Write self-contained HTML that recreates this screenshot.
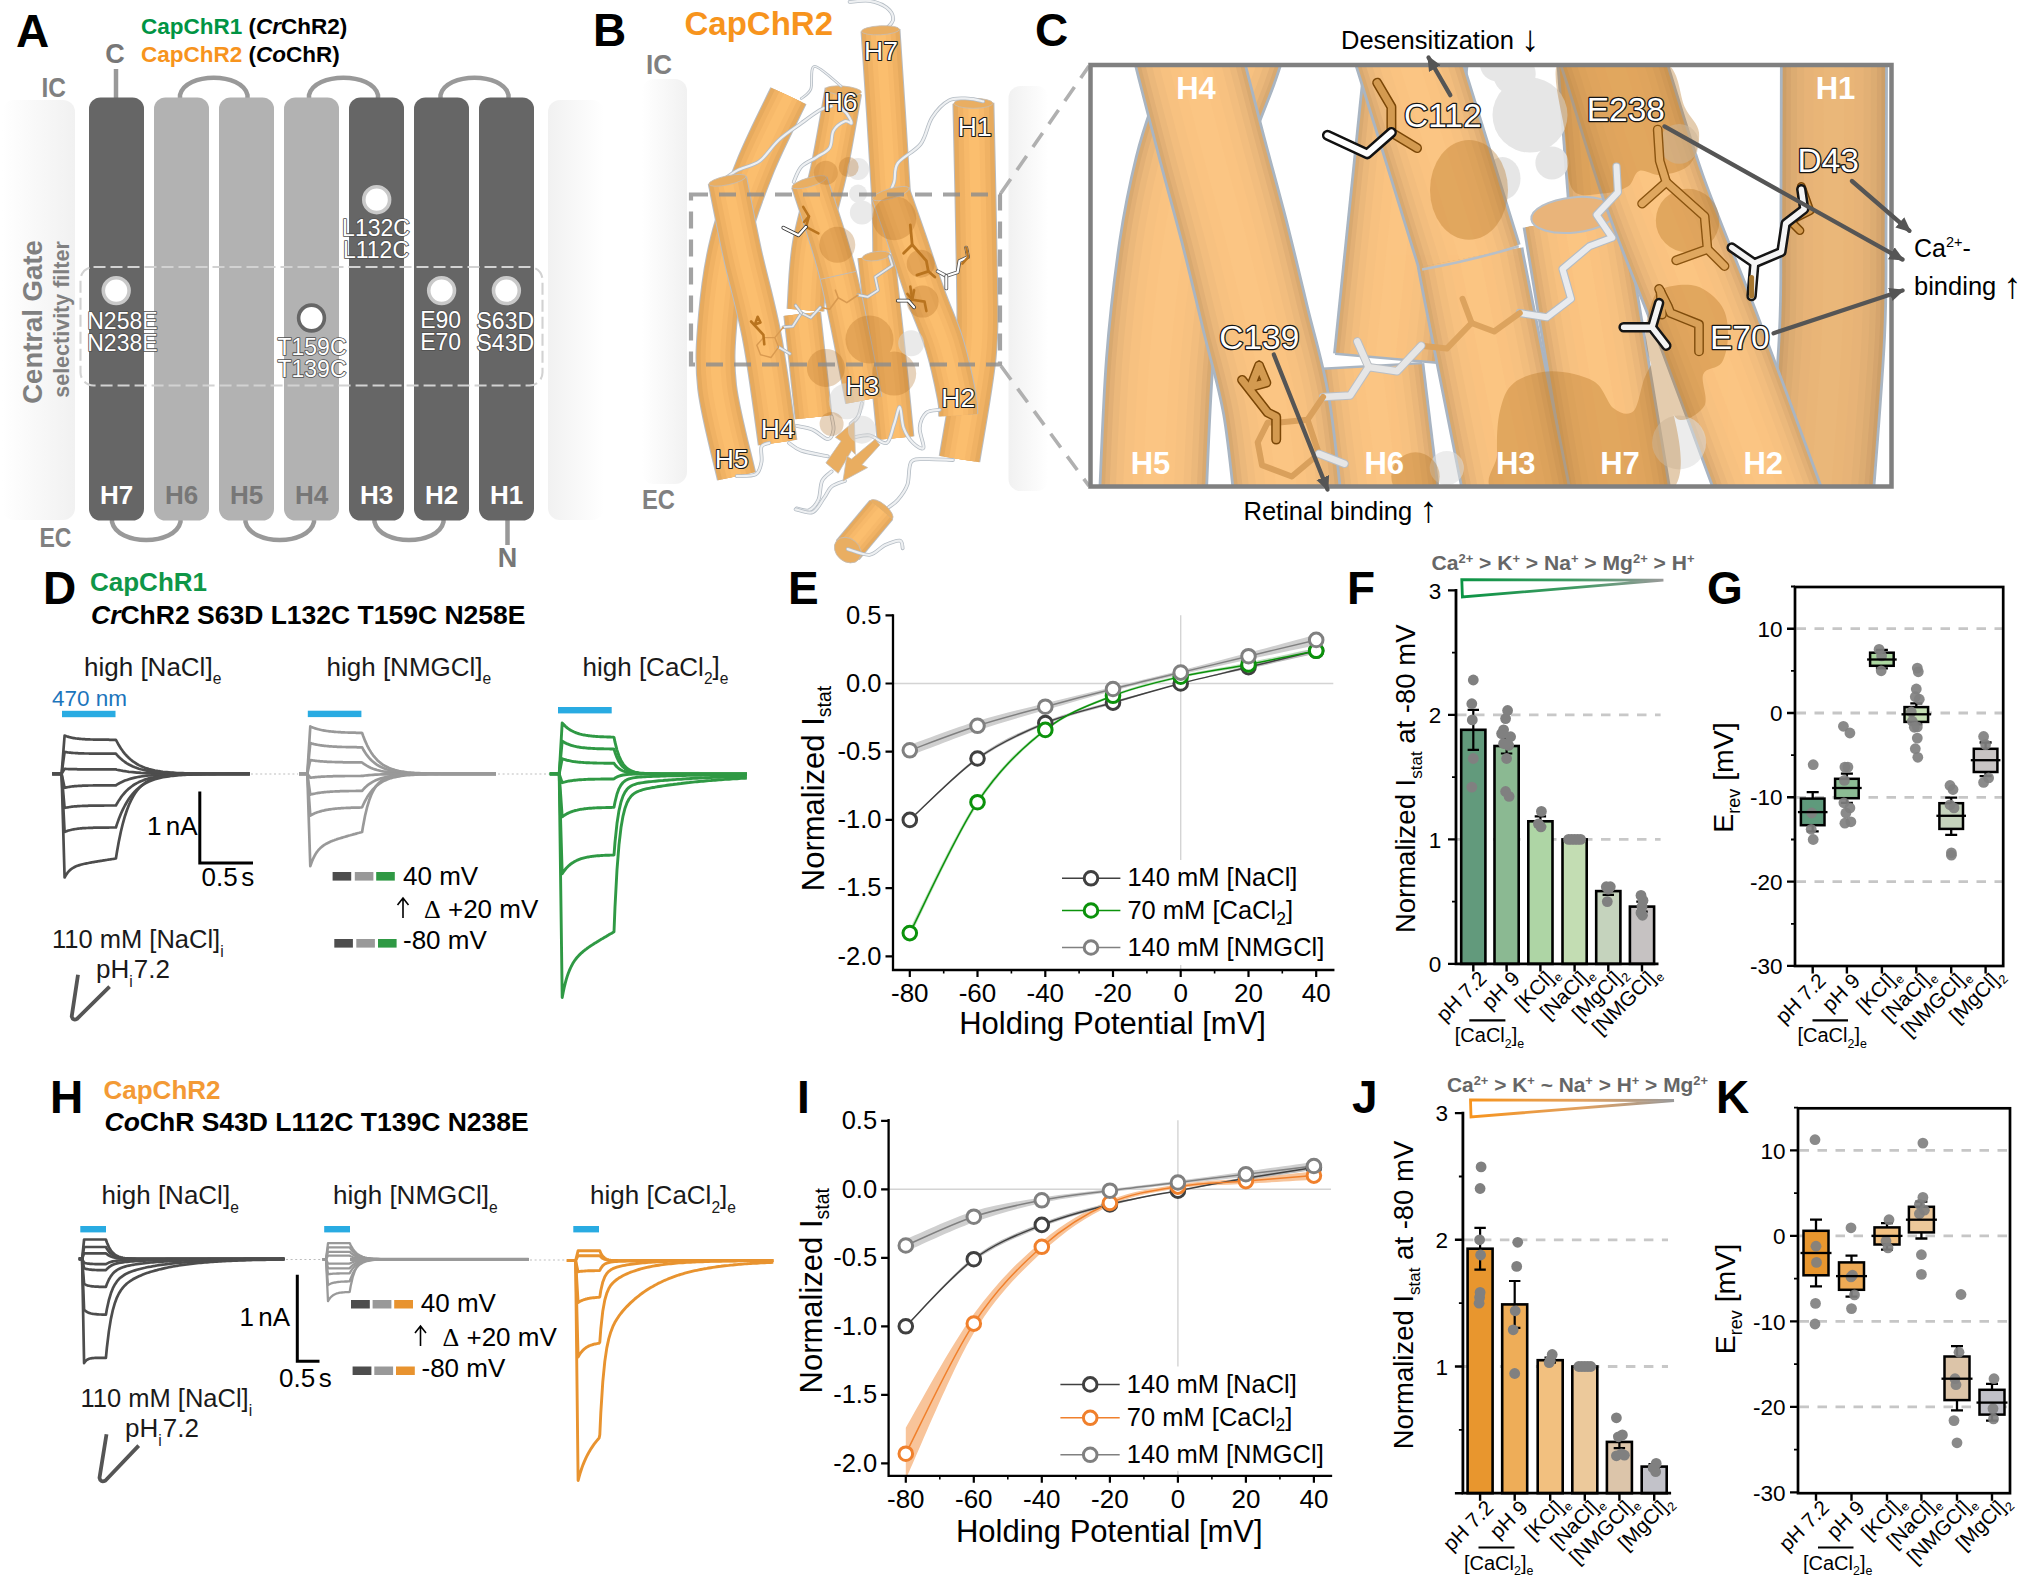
<!DOCTYPE html>
<html lang="en"><head><meta charset="utf-8"><title>CapChR figure</title>
<style>
html,body{margin:0;padding:0;background:#fff;}
body{width:2023px;height:1583px;overflow:hidden;}
svg{display:block;font-family:"Liberation Sans",sans-serif;}
.b{font-weight:bold}
.i{font-style:italic}
</style></head><body>
<svg width="2023" height="1583" viewBox="0 0 2023 1583">
<rect x="0" y="0" width="2023" height="1583" fill="#ffffff"/>
<!-- pa -->
<defs>
<linearGradient id="memL" x1="0" x2="1" y1="0" y2="0"><stop offset="0" stop-color="#ffffff"/><stop offset="1" stop-color="#f1f1f1"/></linearGradient>
<linearGradient id="memR" x1="0" x2="1" y1="0" y2="0"><stop offset="0" stop-color="#f1f1f1"/><stop offset="1" stop-color="#ffffff"/></linearGradient>
</defs>
<rect x="2" y="100" width="73" height="420" rx="12" fill="url(#memL)"/>
<rect x="548" y="100" width="56" height="420" rx="12" fill="url(#memR)"/>
<text x="16" y="47" font-size="46" class="b" fill="#000">A</text>
<text x="141" y="33.5" font-size="22.5" class="b"><tspan fill="#009444">CapChR1</tspan><tspan fill="#000"> (<tspan class="i">Cr</tspan>ChR2)</tspan></text>
<text x="141" y="61.5" font-size="22.5" class="b"><tspan fill="#f7941d">CapChR2</tspan><tspan fill="#000"> (<tspan class="i">Co</tspan>ChR)</tspan></text>
<text x="115" y="62.5" font-size="27" class="b" fill="#777" text-anchor="middle">C</text>
<text x="41.5" y="96.5" font-size="27" class="b" fill="#808080" textLength="24.5" lengthAdjust="spacingAndGlyphs">IC</text>
<text x="39.5" y="547" font-size="27" class="b" fill="#808080" textLength="32" lengthAdjust="spacingAndGlyphs">EC</text>
<text x="507.5" y="567" font-size="27" class="b" fill="#777" text-anchor="middle">N</text>
<path d="M116,69 V99" fill="none" stroke="#999999" stroke-width="4.5" stroke-linecap="butt"/>
<path d="M507.5,518 V545" fill="none" stroke="#999999" stroke-width="4.5" stroke-linecap="butt"/>
<path d="M180.0,99 V95 C185.4,72 242.1,72 247.5,95 V99" fill="none" stroke="#999999" stroke-width="4.5" stroke-linecap="butt"/>
<path d="M309.0,99 V95 C314.5,72 372.5,72 378.0,95 V99" fill="none" stroke="#999999" stroke-width="4.5" stroke-linecap="butt"/>
<path d="M440.5,99 V95 C445.9,72 503.1,72 508.5,95 V99" fill="none" stroke="#999999" stroke-width="4.5" stroke-linecap="butt"/>
<path d="M112.0,518 V522 C117.5,546 175.0,546 180.5,522 V518" fill="none" stroke="#999999" stroke-width="4.5" stroke-linecap="butt"/>
<path d="M245.5,518 V522 C251.0,546 308.5,546 314.0,522 V518" fill="none" stroke="#999999" stroke-width="4.5" stroke-linecap="butt"/>
<path d="M374.5,518 V522 C380.0,546 438.0,546 443.5,522 V518" fill="none" stroke="#999999" stroke-width="4.5" stroke-linecap="butt"/>
<rect x="89" y="97.5" width="55" height="423" rx="11.5" fill="#666666"/>
<text x="116.5" y="504" font-size="26" class="b" fill="#ffffff" text-anchor="middle">H7</text>
<rect x="154" y="97.5" width="55" height="423" rx="11.5" fill="#b2b2b2"/>
<text x="181.5" y="504" font-size="26" class="b" fill="#777777" text-anchor="middle">H6</text>
<rect x="219" y="97.5" width="55" height="423" rx="11.5" fill="#b2b2b2"/>
<text x="246.5" y="504" font-size="26" class="b" fill="#777777" text-anchor="middle">H5</text>
<rect x="284" y="97.5" width="55" height="423" rx="11.5" fill="#b2b2b2"/>
<text x="311.5" y="504" font-size="26" class="b" fill="#777777" text-anchor="middle">H4</text>
<rect x="349" y="97.5" width="55" height="423" rx="11.5" fill="#666666"/>
<text x="376.5" y="504" font-size="26" class="b" fill="#ffffff" text-anchor="middle">H3</text>
<rect x="414" y="97.5" width="55" height="423" rx="11.5" fill="#666666"/>
<text x="441.5" y="504" font-size="26" class="b" fill="#ffffff" text-anchor="middle">H2</text>
<rect x="479" y="97.5" width="55" height="423" rx="11.5" fill="#666666"/>
<text x="506.5" y="504" font-size="26" class="b" fill="#ffffff" text-anchor="middle">H1</text>
<rect x="80.5" y="267" width="462" height="118.5" rx="13" fill="none" stroke="#d2d2d2" stroke-width="2.1" stroke-dasharray="12 5"/>
<circle cx="116.2" cy="290.6" r="12.9" fill="#fff" stroke="#c9c9c9" stroke-width="3.6"/>
<circle cx="376.7" cy="199.7" r="12.9" fill="#fff" stroke="#c9c9c9" stroke-width="3.6"/>
<circle cx="441.6" cy="290.6" r="12.9" fill="#fff" stroke="#c9c9c9" stroke-width="3.6"/>
<circle cx="506.4" cy="290.6" r="12.9" fill="#fff" stroke="#c9c9c9" stroke-width="3.6"/>
<circle cx="311.5" cy="318" r="12.9" fill="#fff" stroke="#666666" stroke-width="3.6"/>
<text x="122.4" y="329" font-size="23" fill="#ffffff" stroke="#4f4f4f" stroke-width="1.7" stroke-linejoin="round" text-anchor="middle" paint-order="stroke">N258E</text>
<text x="122.4" y="351" font-size="23" fill="#ffffff" stroke="#4f4f4f" stroke-width="1.7" stroke-linejoin="round" text-anchor="middle" paint-order="stroke">N238E</text>
<text x="376" y="235.6" font-size="23" fill="#ffffff" stroke="#4f4f4f" stroke-width="1.7" stroke-linejoin="round" text-anchor="middle" paint-order="stroke">L132C</text>
<text x="376" y="257.6" font-size="23" fill="#ffffff" stroke="#4f4f4f" stroke-width="1.7" stroke-linejoin="round" text-anchor="middle" paint-order="stroke">L112C</text>
<text x="312" y="355.4" font-size="23" fill="#ffffff" stroke="#4f4f4f" stroke-width="1.7" stroke-linejoin="round" text-anchor="middle" paint-order="stroke">T159C</text>
<text x="312" y="377.4" font-size="23" fill="#ffffff" stroke="#4f4f4f" stroke-width="1.7" stroke-linejoin="round" text-anchor="middle" paint-order="stroke">T139C</text>
<text x="440.6" y="327.5" font-size="23" fill="#ffffff" stroke="#4f4f4f" stroke-width="1.7" stroke-linejoin="round" text-anchor="middle" paint-order="stroke">E90</text>
<text x="440.6" y="349.5" font-size="23" fill="#ffffff" stroke="#4f4f4f" stroke-width="1.7" stroke-linejoin="round" text-anchor="middle" paint-order="stroke">E70</text>
<text x="505.3" y="328.5" font-size="23" fill="#ffffff" stroke="#4f4f4f" stroke-width="1.7" stroke-linejoin="round" text-anchor="middle" paint-order="stroke">S63D</text>
<text x="505.3" y="350.5" font-size="23" fill="#ffffff" stroke="#4f4f4f" stroke-width="1.7" stroke-linejoin="round" text-anchor="middle" paint-order="stroke">S43D</text>
<text transform="translate(42,322) rotate(-90)" font-size="27.5" class="b" fill="#808080" text-anchor="middle">Central Gate</text>
<text transform="translate(68.5,319.5) rotate(-90)" font-size="21.5" class="b" fill="#808080" text-anchor="middle">selectivity filter</text>
<!-- pb -->
<rect x="642" y="79" width="45" height="405" rx="12" fill="url(#memL)"/>
<rect x="1008.5" y="86" width="40" height="405" rx="12" fill="url(#memR)"/>
<text x="593" y="46" font-size="46" class="b" fill="#000">B</text>
<text x="684.5" y="35" font-size="33" class="b" fill="#f7941d">CapChR2</text>
<text x="646" y="73.5" font-size="27" class="b" fill="#808080" textLength="26" lengthAdjust="spacingAndGlyphs">IC</text>
<text x="642" y="509" font-size="27" class="b" fill="#808080" textLength="33" lengthAdjust="spacingAndGlyphs">EC</text>
<path d="M849.6,1.9 C852.9,1.7 863.4,0.0 869.5,0.9 C875.7,1.9 882.6,4.6 886.6,7.6 C890.5,10.6 893.2,15.5 893.2,19.0 C893.2,22.4 889.1,26.1 886.6,28.4 C884.1,30.8 879.5,32.4 878.0,33.2" fill="none" stroke="#b4bcc4" stroke-width="3.8" stroke-linecap="round"/><path d="M849.6,1.9 C852.9,1.7 863.4,0.0 869.5,0.9 C875.7,1.9 882.6,4.6 886.6,7.6 C890.5,10.6 893.2,15.5 893.2,19.0 C893.2,22.4 889.1,26.1 886.6,28.4 C884.1,30.8 879.5,32.4 878.0,33.2" fill="none" stroke="#eef0f2" stroke-width="2.2" stroke-linecap="round"/>
<path d="M880.5,30.3 C882.2,56.9 888.8,152.6 890.7,189.5 C892.7,226.5 892.0,241.6 892.3,252.1" fill="none" stroke="#b9bcc0" stroke-width="40.0"/>
<path d="M880.5,30.3 C882.2,56.9 888.8,152.6 890.7,189.5 C892.7,226.5 892.0,241.6 892.3,252.1" fill="none" stroke="#e6aa5e" stroke-width="38.0"/>
<path d="M880.5,30.3 C882.2,56.9 888.8,152.6 890.7,189.5 C892.7,226.5 892.0,241.6 892.3,252.1" fill="none" stroke="#f0b264" stroke-width="29.6"/>
<path d="M880.5,30.3 C882.2,56.9 888.8,152.6 890.7,189.5 C892.7,226.5 892.0,241.6 892.3,252.1" fill="none" stroke="#f7b96a" stroke-width="19.8"/>
<path d="M880.5,30.3 C882.2,56.9 888.8,152.6 890.7,189.5 C892.7,226.5 892.0,241.6 892.3,252.1" fill="none" stroke="#fbbe6e" stroke-width="9.9"/>
<ellipse cx="880.5" cy="30.3" rx="19.0" ry="4.5" transform="rotate(-3 880.5 30.3)" fill="#e9ae62" stroke="#c4bcb4" stroke-width="0.8"/>
<path d="M843.4,91.0 C840.9,104.2 834.2,144.9 828.8,170.6 C823.3,196.2 814.7,221.5 810.8,244.8 C806.9,268.0 806.3,299.2 805.5,310.1" fill="none" stroke="#b9bcc0" stroke-width="38.0"/>
<path d="M843.4,91.0 C840.9,104.2 834.2,144.9 828.8,170.6 C823.3,196.2 814.7,221.5 810.8,244.8 C806.9,268.0 806.3,299.2 805.5,310.1" fill="none" stroke="#e6aa5e" stroke-width="36.0"/>
<path d="M843.4,91.0 C840.9,104.2 834.2,144.9 828.8,170.6 C823.3,196.2 814.7,221.5 810.8,244.8 C806.9,268.0 806.3,299.2 805.5,310.1" fill="none" stroke="#f0b264" stroke-width="28.1"/>
<path d="M843.4,91.0 C840.9,104.2 834.2,144.9 828.8,170.6 C823.3,196.2 814.7,221.5 810.8,244.8 C806.9,268.0 806.3,299.2 805.5,310.1" fill="none" stroke="#f7b96a" stroke-width="18.7"/>
<path d="M843.4,91.0 C840.9,104.2 834.2,144.9 828.8,170.6 C823.3,196.2 814.7,221.5 810.8,244.8 C806.9,268.0 806.3,299.2 805.5,310.1" fill="none" stroke="#fbbe6e" stroke-width="9.4"/>
<ellipse cx="843.4" cy="90.6" rx="18.0" ry="4.5" transform="rotate(5 843.4 90.6)" fill="#e9ae62" stroke="#c4bcb4" stroke-width="0.8"/>
<path d="M788.4,95.8 C783.0,107.3 765.6,140.8 755.8,165.0 C746.0,189.2 736.0,215.7 729.7,241.0 C723.3,266.3 720.0,292.5 717.9,316.8 C715.8,341.1 714.1,360.3 717.1,386.9 C720.2,413.5 733.3,461.3 736.5,476.2" fill="none" stroke="#b9bcc0" stroke-width="40.0"/>
<path d="M788.4,95.8 C783.0,107.3 765.6,140.8 755.8,165.0 C746.0,189.2 736.0,215.7 729.7,241.0 C723.3,266.3 720.0,292.5 717.9,316.8 C715.8,341.1 714.1,360.3 717.1,386.9 C720.2,413.5 733.3,461.3 736.5,476.2" fill="none" stroke="#e6aa5e" stroke-width="38.0"/>
<path d="M788.4,95.8 C783.0,107.3 765.6,140.8 755.8,165.0 C746.0,189.2 736.0,215.7 729.7,241.0 C723.3,266.3 720.0,292.5 717.9,316.8 C715.8,341.1 714.1,360.3 717.1,386.9 C720.2,413.5 733.3,461.3 736.5,476.2" fill="none" stroke="#f0b264" stroke-width="29.6"/>
<path d="M788.4,95.8 C783.0,107.3 765.6,140.8 755.8,165.0 C746.0,189.2 736.0,215.7 729.7,241.0 C723.3,266.3 720.0,292.5 717.9,316.8 C715.8,341.1 714.1,360.3 717.1,386.9 C720.2,413.5 733.3,461.3 736.5,476.2" fill="none" stroke="#f7b96a" stroke-width="19.8"/>
<path d="M788.4,95.8 C783.0,107.3 765.6,140.8 755.8,165.0 C746.0,189.2 736.0,215.7 729.7,241.0 C723.3,266.3 720.0,292.5 717.9,316.8 C715.8,341.1 714.1,360.3 717.1,386.9 C720.2,413.5 733.3,461.3 736.5,476.2" fill="none" stroke="#fbbe6e" stroke-width="9.9"/>
<path d="M973.4,103.3 C974.0,132.7 976.6,237.9 977.0,280.0 C977.4,322.1 978.6,326.0 975.7,355.8 C972.7,385.7 962.2,441.9 959.5,459.1" fill="none" stroke="#b9bcc0" stroke-width="42.0"/>
<path d="M973.4,103.3 C974.0,132.7 976.6,237.9 977.0,280.0 C977.4,322.1 978.6,326.0 975.7,355.8 C972.7,385.7 962.2,441.9 959.5,459.1" fill="none" stroke="#e6aa5e" stroke-width="40.0"/>
<path d="M973.4,103.3 C974.0,132.7 976.6,237.9 977.0,280.0 C977.4,322.1 978.6,326.0 975.7,355.8 C972.7,385.7 962.2,441.9 959.5,459.1" fill="none" stroke="#f0b264" stroke-width="31.2"/>
<path d="M973.4,103.3 C974.0,132.7 976.6,237.9 977.0,280.0 C977.4,322.1 978.6,326.0 975.7,355.8 C972.7,385.7 962.2,441.9 959.5,459.1" fill="none" stroke="#f7b96a" stroke-width="20.8"/>
<path d="M973.4,103.3 C974.0,132.7 976.6,237.9 977.0,280.0 C977.4,322.1 978.6,326.0 975.7,355.8 C972.7,385.7 962.2,441.9 959.5,459.1" fill="none" stroke="#fbbe6e" stroke-width="10.4"/>
<ellipse cx="973.4" cy="103.3" rx="19.5" ry="5.0" transform="rotate(0 973.4 103.3)" fill="#e9ae62" stroke="#c4bcb4" stroke-width="0.8"/>
<path d="M802.2,313.9 L813.6,417.2" fill="none" stroke="#b9bcc0" stroke-width="38.0"/>
<path d="M802.2,313.9 L813.6,417.2" fill="none" stroke="#e6aa5e" stroke-width="36.0"/>
<path d="M802.2,313.9 L813.6,417.2" fill="none" stroke="#f0b264" stroke-width="28.1"/>
<path d="M802.2,313.9 L813.6,417.2" fill="none" stroke="#f7b96a" stroke-width="18.7"/>
<path d="M802.2,313.9 L813.6,417.2" fill="none" stroke="#fbbe6e" stroke-width="9.4"/>
<path d="M876.2,256.1 C877.7,270.0 882.4,309.2 885.6,339.5 C888.9,369.8 893.8,421.6 895.5,438.1" fill="none" stroke="#b9bcc0" stroke-width="38.0"/>
<path d="M876.2,256.1 C877.7,270.0 882.4,309.2 885.6,339.5 C888.9,369.8 893.8,421.6 895.5,438.1" fill="none" stroke="#e6aa5e" stroke-width="36.0"/>
<path d="M876.2,256.1 C877.7,270.0 882.4,309.2 885.6,339.5 C888.9,369.8 893.8,421.6 895.5,438.1" fill="none" stroke="#f0b264" stroke-width="28.1"/>
<path d="M876.2,256.1 C877.7,270.0 882.4,309.2 885.6,339.5 C888.9,369.8 893.8,421.6 895.5,438.1" fill="none" stroke="#f7b96a" stroke-width="18.7"/>
<path d="M876.2,256.1 C877.7,270.0 882.4,309.2 885.6,339.5 C888.9,369.8 893.8,421.6 895.5,438.1" fill="none" stroke="#fbbe6e" stroke-width="9.4"/>
<ellipse cx="876.2" cy="256.1" rx="14.0" ry="4.5" transform="rotate(-8 876.2 256.1)" fill="#e9ae62" stroke="#c4bcb4" stroke-width="0.8"/>
<path d="M720.7,181.9 C723.4,180.0 730.4,174.0 736.9,170.6 C743.3,167.1 752.6,166.1 759.6,161.1 C766.5,156.0 771.6,146.6 778.6,140.2 C785.5,133.9 794.3,128.2 801.3,123.2 C808.2,118.1 815.2,112.8 820.2,109.9 C825.3,107.1 829.7,106.8 831.6,106.1" fill="none" stroke="#b4bcc4" stroke-width="3.8" stroke-linecap="round"/><path d="M720.7,181.9 C723.4,180.0 730.4,174.0 736.9,170.6 C743.3,167.1 752.6,166.1 759.6,161.1 C766.5,156.0 771.6,146.6 778.6,140.2 C785.5,133.9 794.3,128.2 801.3,123.2 C808.2,118.1 815.2,112.8 820.2,109.9 C825.3,107.1 829.7,106.8 831.6,106.1" fill="none" stroke="#eef0f2" stroke-width="2.2" stroke-linecap="round"/>
<path d="M801.3,98.6 C802.9,97.0 808.6,94.4 810.8,89.1 C813.0,83.7 809.5,66.8 814.6,66.3 C819.6,65.9 836.7,82.9 841.1,86.2" fill="none" stroke="#b4bcc4" stroke-width="2.8" stroke-linecap="round"/><path d="M801.3,98.6 C802.9,97.0 808.6,94.4 810.8,89.1 C813.0,83.7 809.5,66.8 814.6,66.3 C819.6,65.9 836.7,82.9 841.1,86.2" fill="none" stroke="#eef0f2" stroke-width="1.2" stroke-linecap="round"/>
<path d="M793.7,181.9 C795.0,179.4 797.5,170.9 801.3,166.8 C805.1,162.7 811.7,160.5 816.5,157.3 C821.2,154.1 826.9,152.2 829.7,147.8 C832.6,143.4 831.0,135.2 833.5,130.8 C836.0,126.3 841.9,122.6 844.9,121.3 C847.9,120.0 851.2,124.5 851.5,123.2 C851.8,121.9 848.5,116.2 846.8,113.7 C845.0,111.2 842.0,109.0 841.1,108.0" fill="none" stroke="#b4bcc4" stroke-width="3.8" stroke-linecap="round"/><path d="M793.7,181.9 C795.0,179.4 797.5,170.9 801.3,166.8 C805.1,162.7 811.7,160.5 816.5,157.3 C821.2,154.1 826.9,152.2 829.7,147.8 C832.6,143.4 831.0,135.2 833.5,130.8 C836.0,126.3 841.9,122.6 844.9,121.3 C847.9,120.0 851.2,124.5 851.5,123.2 C851.8,121.9 848.5,116.2 846.8,113.7 C845.0,111.2 842.0,109.0 841.1,108.0" fill="none" stroke="#eef0f2" stroke-width="2.2" stroke-linecap="round"/>
<path d="M887.5,197.1 C888.6,194.6 892.4,187.6 894.2,181.9 C895.9,176.3 893.5,169.3 897.9,163.0 C902.4,156.7 915.0,151.6 920.7,144.0 C926.4,136.5 927.3,124.8 932.1,117.5 C936.8,110.2 943.1,103.6 949.1,100.4 C955.1,97.3 962.4,98.4 968.1,98.6 C973.8,98.7 980.7,100.9 983.2,101.4" fill="none" stroke="#b4bcc4" stroke-width="3.8" stroke-linecap="round"/><path d="M887.5,197.1 C888.6,194.6 892.4,187.6 894.2,181.9 C895.9,176.3 893.5,169.3 897.9,163.0 C902.4,156.7 915.0,151.6 920.7,144.0 C926.4,136.5 927.3,124.8 932.1,117.5 C936.8,110.2 943.1,103.6 949.1,100.4 C955.1,97.3 962.4,98.4 968.1,98.6 C973.8,98.7 980.7,100.9 983.2,101.4" fill="none" stroke="#eef0f2" stroke-width="2.2" stroke-linecap="round"/>
<path d="M809.3,182.2 C814.1,197.7 829.2,238.8 838.2,275.1 C847.3,311.4 859.6,379.3 863.8,400.2" fill="none" stroke="#b9bcc0" stroke-width="38.0"/>
<path d="M809.3,182.2 C814.1,197.7 829.2,238.8 838.2,275.1 C847.3,311.4 859.6,379.3 863.8,400.2" fill="none" stroke="#e6aa5e" stroke-width="36.0"/>
<path d="M809.3,182.2 C814.1,197.7 829.2,238.8 838.2,275.1 C847.3,311.4 859.6,379.3 863.8,400.2" fill="none" stroke="#f0b264" stroke-width="28.1"/>
<path d="M809.3,182.2 C814.1,197.7 829.2,238.8 838.2,275.1 C847.3,311.4 859.6,379.3 863.8,400.2" fill="none" stroke="#f7b96a" stroke-width="18.7"/>
<path d="M809.3,182.2 C814.1,197.7 829.2,238.8 838.2,275.1 C847.3,311.4 859.6,379.3 863.8,400.2" fill="none" stroke="#fbbe6e" stroke-width="9.4"/>
<path d="M820.6,279.3 L856.6,271.3" stroke="#c4bcb4" stroke-width="1" fill="none"/>
<ellipse cx="809.3" cy="182.2" rx="18.0" ry="4.5" transform="rotate(-16 809.3 182.2)" fill="#e9ae62" stroke="#c4bcb4" stroke-width="0.8"/>
<path d="M727.4,180.3 C729.9,192.6 736.7,227.7 742.5,254.2 C748.4,280.8 756.6,308.1 762.4,339.5 C768.3,370.9 775.1,425.4 777.6,442.6" fill="none" stroke="#b9bcc0" stroke-width="40.0"/>
<path d="M727.4,180.3 C729.9,192.6 736.7,227.7 742.5,254.2 C748.4,280.8 756.6,308.1 762.4,339.5 C768.3,370.9 775.1,425.4 777.6,442.6" fill="none" stroke="#e6aa5e" stroke-width="38.0"/>
<path d="M727.4,180.3 C729.9,192.6 736.7,227.7 742.5,254.2 C748.4,280.8 756.6,308.1 762.4,339.5 C768.3,370.9 775.1,425.4 777.6,442.6" fill="none" stroke="#f0b264" stroke-width="29.6"/>
<path d="M727.4,180.3 C729.9,192.6 736.7,227.7 742.5,254.2 C748.4,280.8 756.6,308.1 762.4,339.5 C768.3,370.9 775.1,425.4 777.6,442.6" fill="none" stroke="#f7b96a" stroke-width="19.8"/>
<path d="M727.4,180.3 C729.9,192.6 736.7,227.7 742.5,254.2 C748.4,280.8 756.6,308.1 762.4,339.5 C768.3,370.9 775.1,425.4 777.6,442.6" fill="none" stroke="#fbbe6e" stroke-width="9.9"/>
<ellipse cx="727.4" cy="180.3" rx="19.0" ry="4.5" transform="rotate(-12 727.4 180.3)" fill="#e9ae62" stroke="#c4bcb4" stroke-width="0.8"/>
<path d="M890.7,193.6 C893.5,201.5 901.5,223.8 907.4,241.0 C913.4,258.2 920.2,279.7 926.4,296.9 C932.5,314.1 939.3,327.7 944.4,344.3 C949.4,360.8 954.4,384.5 956.7,396.4 C959.0,408.2 958.0,412.2 958.2,415.3" fill="none" stroke="#b9bcc0" stroke-width="40.0"/>
<path d="M890.7,193.6 C893.5,201.5 901.5,223.8 907.4,241.0 C913.4,258.2 920.2,279.7 926.4,296.9 C932.5,314.1 939.3,327.7 944.4,344.3 C949.4,360.8 954.4,384.5 956.7,396.4 C959.0,408.2 958.0,412.2 958.2,415.3" fill="none" stroke="#e6aa5e" stroke-width="38.0"/>
<path d="M890.7,193.6 C893.5,201.5 901.5,223.8 907.4,241.0 C913.4,258.2 920.2,279.7 926.4,296.9 C932.5,314.1 939.3,327.7 944.4,344.3 C949.4,360.8 954.4,384.5 956.7,396.4 C959.0,408.2 958.0,412.2 958.2,415.3" fill="none" stroke="#f0b264" stroke-width="29.6"/>
<path d="M890.7,193.6 C893.5,201.5 901.5,223.8 907.4,241.0 C913.4,258.2 920.2,279.7 926.4,296.9 C932.5,314.1 939.3,327.7 944.4,344.3 C949.4,360.8 954.4,384.5 956.7,396.4 C959.0,408.2 958.0,412.2 958.2,415.3" fill="none" stroke="#f7b96a" stroke-width="19.8"/>
<path d="M890.7,193.6 C893.5,201.5 901.5,223.8 907.4,241.0 C913.4,258.2 920.2,279.7 926.4,296.9 C932.5,314.1 939.3,327.7 944.4,344.3 C949.4,360.8 954.4,384.5 956.7,396.4 C959.0,408.2 958.0,412.2 958.2,415.3" fill="none" stroke="#fbbe6e" stroke-width="9.9"/>
<ellipse cx="890.7" cy="193.6" rx="19.0" ry="5.0" transform="rotate(-16 890.7 193.6)" fill="#e9ae62" stroke="#c4bcb4" stroke-width="0.8"/>
<path d="M736.9,476.2 C740.0,475.8 751.7,476.6 755.8,474.3 C759.9,471.9 760.5,466.5 761.5,461.9 C762.4,457.4 760.2,449.9 761.5,446.8 C762.8,443.6 767.8,443.6 769.1,443.0" fill="none" stroke="#b4bcc4" stroke-width="3.8" stroke-linecap="round"/><path d="M736.9,476.2 C740.0,475.8 751.7,476.6 755.8,474.3 C759.9,471.9 760.5,466.5 761.5,461.9 C762.4,457.4 760.2,449.9 761.5,446.8 C762.8,443.6 767.8,443.6 769.1,443.0" fill="none" stroke="#eef0f2" stroke-width="2.2" stroke-linecap="round"/>
<path d="M789.0,443.0 C791.0,444.3 794.8,448.4 801.3,450.6 C807.8,452.8 823.4,455.3 827.8,456.3" fill="none" stroke="#b4bcc4" stroke-width="3.8" stroke-linecap="round"/><path d="M789.0,443.0 C791.0,444.3 794.8,448.4 801.3,450.6 C807.8,452.8 823.4,455.3 827.8,456.3" fill="none" stroke="#eef0f2" stroke-width="2.2" stroke-linecap="round"/>
<path d="M796.6,425.9 C799.2,426.6 807.5,427.5 812.7,429.7 C817.9,431.9 824.4,439.2 827.8,439.2 C831.3,439.2 832.9,433.5 833.5,429.7 C834.1,425.9 831.9,418.7 831.6,416.5" fill="none" stroke="#b4bcc4" stroke-width="3.8" stroke-linecap="round"/><path d="M796.6,425.9 C799.2,426.6 807.5,427.5 812.7,429.7 C817.9,431.9 824.4,439.2 827.8,439.2 C831.3,439.2 832.9,433.5 833.5,429.7 C834.1,425.9 831.9,418.7 831.6,416.5" fill="none" stroke="#eef0f2" stroke-width="2.2" stroke-linecap="round"/>
<path d="M861.9,403.2 C861.3,405.4 860.0,413.0 858.1,416.5 C856.3,419.9 851.8,422.8 850.6,424.0" fill="none" stroke="#b4bcc4" stroke-width="3.8" stroke-linecap="round"/><path d="M861.9,403.2 C861.3,405.4 860.0,413.0 858.1,416.5 C856.3,419.9 851.8,422.8 850.6,424.0" fill="none" stroke="#eef0f2" stroke-width="2.2" stroke-linecap="round"/>
<path d="M854.4,437.3 C856.9,437.0 864.2,434.5 869.5,435.4 C874.9,436.4 882.5,444.9 886.6,443.0 C890.7,441.1 891.9,430.0 894.2,424.0 C896.4,418.0 898.3,406.3 899.8,407.0 C901.4,407.6 901.4,421.8 903.6,427.8 C905.8,433.8 909.8,439.7 913.1,443.0 C916.4,446.3 922.4,450.3 923.5,447.7 C924.6,445.2 919.3,433.7 919.7,427.8 C920.2,422.0 923.1,415.7 926.4,412.7 C929.7,409.7 937.4,410.3 939.6,409.8" fill="none" stroke="#b4bcc4" stroke-width="3.8" stroke-linecap="round"/><path d="M854.4,437.3 C856.9,437.0 864.2,434.5 869.5,435.4 C874.9,436.4 882.5,444.9 886.6,443.0 C890.7,441.1 891.9,430.0 894.2,424.0 C896.4,418.0 898.3,406.3 899.8,407.0 C901.4,407.6 901.4,421.8 903.6,427.8 C905.8,433.8 909.8,439.7 913.1,443.0 C916.4,446.3 922.4,450.3 923.5,447.7 C924.6,445.2 919.3,433.7 919.7,427.8 C920.2,422.0 923.1,415.7 926.4,412.7 C929.7,409.7 937.4,410.3 939.6,409.8" fill="none" stroke="#eef0f2" stroke-width="2.2" stroke-linecap="round"/>
<path d="M952.9,460.0 C948.5,459.9 933.3,458.8 926.4,459.1 C919.4,459.4 914.4,457.7 911.2,461.9 C908.1,466.2 909.6,478.4 907.4,484.7 C905.2,491.0 901.1,496.1 897.9,499.8 C894.8,503.6 890.1,506.2 888.5,507.4" fill="none" stroke="#b4bcc4" stroke-width="3.8" stroke-linecap="round"/><path d="M952.9,460.0 C948.5,459.9 933.3,458.8 926.4,459.1 C919.4,459.4 914.4,457.7 911.2,461.9 C908.1,466.2 909.6,478.4 907.4,484.7 C905.2,491.0 901.1,496.1 897.9,499.8 C894.8,503.6 890.1,506.2 888.5,507.4" fill="none" stroke="#eef0f2" stroke-width="2.2" stroke-linecap="round"/>
<path d="M831.6,471.4 C830.0,473.0 824.4,476.2 822.1,480.9 C819.9,485.6 820.6,494.9 818.4,499.8 C816.1,504.7 812.5,508.8 808.9,510.3 C805.2,511.7 798.6,508.7 796.6,508.4" fill="none" stroke="#b4bcc4" stroke-width="3.8" stroke-linecap="round"/><path d="M831.6,471.4 C830.0,473.0 824.4,476.2 822.1,480.9 C819.9,485.6 820.6,494.9 818.4,499.8 C816.1,504.7 812.5,508.8 808.9,510.3 C805.2,511.7 798.6,508.7 796.6,508.4" fill="none" stroke="#eef0f2" stroke-width="2.2" stroke-linecap="round"/>
<path d="M844.9,480.9 C842.7,481.8 835.1,483.7 831.6,486.6 C828.1,489.4 827.2,493.7 824.0,497.9 C820.9,502.2 817.4,510.3 812.7,512.2 C807.9,514.1 798.5,509.8 795.6,509.3" fill="none" stroke="#b4bcc4" stroke-width="3.8" stroke-linecap="round"/><path d="M844.9,480.9 C842.7,481.8 835.1,483.7 831.6,486.6 C828.1,489.4 827.2,493.7 824.0,497.9 C820.9,502.2 817.4,510.3 812.7,512.2 C807.9,514.1 798.5,509.8 795.6,509.3" fill="none" stroke="#eef0f2" stroke-width="2.2" stroke-linecap="round"/>
<polygon points="825.9,462.9 838.2,473.3 851.5,450.6 855.3,454.4 854.4,421.2 835.4,437.3 841.1,441.1" fill="#e9ad60" stroke="#c4bcb4" stroke-width="0.8"/>
<polygon points="875.2,439.2 879.9,444.9 861.9,464.8 867.6,467.6 843.0,480.9 846.8,456.3 851.5,459.1" fill="#e9ad60" stroke="#c4bcb4" stroke-width="0.8"/>
<ellipse cx="881.3" cy="509.9" rx="14.5" ry="6.0" transform="rotate(40 881.3 509.9)" fill="#e9ae62" stroke="#c4bcb4" stroke-width="0.8"/>
<path d="M881.3,509.9 L847.7,550.1" fill="none" stroke="#b9bcc0" stroke-width="31.0"/>
<path d="M881.3,509.9 L847.7,550.1" fill="none" stroke="#e6aa5e" stroke-width="29.0"/>
<path d="M881.3,509.9 L847.7,550.1" fill="none" stroke="#f0b264" stroke-width="22.6"/>
<path d="M881.3,509.9 L847.7,550.1" fill="none" stroke="#f7b96a" stroke-width="15.1"/>
<path d="M881.3,509.9 L847.7,550.1" fill="none" stroke="#fbbe6e" stroke-width="7.5"/>
<ellipse cx="847.7" cy="550.1" rx="14.5" ry="11.5" transform="rotate(40 847.7 550.1)" fill="#e9ae62" stroke="#c4bcb4" stroke-width="0.8"/>
<path d="M847.7,549.1 C851.4,550.1 863.4,555.4 869.5,554.8 C875.7,554.2 879.6,547.7 884.7,545.3 C889.7,543.0 896.8,540.1 899.8,540.6 C902.8,541.1 902.2,546.9 902.7,548.2" fill="none" stroke="#b4bcc4" stroke-width="3.8" stroke-linecap="round"/><path d="M847.7,549.1 C851.4,550.1 863.4,555.4 869.5,554.8 C875.7,554.2 879.6,547.7 884.7,545.3 C889.7,543.0 896.8,540.1 899.8,540.6 C902.8,541.1 902.2,546.9 902.7,548.2" fill="none" stroke="#eef0f2" stroke-width="2.2" stroke-linecap="round"/>
<g opacity="0.5"><circle cx="858.1" cy="169.0" r="11" fill="#d6d6d6"/><circle cx="861.9" cy="212.5" r="12" fill="#d6d6d6"/><circle cx="858.1" cy="193.6" r="9" fill="#d6d6d6"/><circle cx="911.2" cy="343.3" r="13" fill="#d6d6d6"/><circle cx="846.8" cy="401.3" r="18" fill="#d6d6d6"/><circle cx="861.9" cy="429.7" r="14" fill="#d6d6d6"/></g>
<g opacity="0.3"><circle cx="825.9" cy="172.7" r="12" fill="#b36f24"/><circle cx="848.7" cy="167.1" r="10" fill="#b36f24"/><circle cx="837.3" cy="244.8" r="18" fill="#b36f24"/><circle cx="894.2" cy="218.2" r="22" fill="#b36f24"/><circle cx="920.7" cy="263.7" r="14" fill="#b36f24"/><circle cx="922.6" cy="301.6" r="16" fill="#b36f24"/><circle cx="869.5" cy="339.5" r="24" fill="#b36f24"/><circle cx="894.2" cy="373.6" r="22" fill="#b36f24"/><circle cx="825.9" cy="367.9" r="19" fill="#b36f24"/><circle cx="831.6" cy="424.0" r="12" fill="#b36f24"/></g>
<path d="M889.4,256.1 L892.3,265.6 L875.2,277.0 L878.0,290.2 L867.6,296.9 L858.1,295.0" fill="none" stroke="#aab2ba" stroke-width="3.4" stroke-linecap="round" stroke-linejoin="round"/>
<path d="M889.4,256.1 L892.3,265.6 L875.2,277.0 L878.0,290.2 L867.6,296.9 L858.1,295.0" fill="none" stroke="#e8eaec" stroke-width="1.8" stroke-linecap="round" stroke-linejoin="round"/>
<path d="M858.1,295.0 L846.8,302.6 L838.2,297.8 L829.7,309.2 L820.2,307.3" fill="none" stroke="#d99a50" stroke-width="1.6" stroke-linecap="round" stroke-linejoin="round"/>
<path d="M838.2,297.8 L835.4,290.2" fill="none" stroke="#d99a50" stroke-width="1.6" stroke-linecap="round" stroke-linejoin="round"/>
<path d="M820.2,307.3 L810.8,317.7 L801.3,313.0 L792.8,326.3 L783.3,327.2" fill="none" stroke="#aab2ba" stroke-width="3.4" stroke-linecap="round" stroke-linejoin="round"/>
<path d="M820.2,307.3 L810.8,317.7 L801.3,313.0 L792.8,326.3 L783.3,327.2" fill="none" stroke="#e8eaec" stroke-width="1.8" stroke-linecap="round" stroke-linejoin="round"/>
<path d="M801.3,313.0 L795.6,305.4" fill="none" stroke="#aab2ba" stroke-width="3.4" stroke-linecap="round" stroke-linejoin="round"/>
<path d="M801.3,313.0 L795.6,305.4" fill="none" stroke="#e8eaec" stroke-width="1.8" stroke-linecap="round" stroke-linejoin="round"/>
<path d="M778.6,347.1 L789.9,353.7" fill="none" stroke="#aab2ba" stroke-width="3.4" stroke-linecap="round" stroke-linejoin="round"/>
<path d="M778.6,347.1 L789.9,353.7" fill="none" stroke="#e8eaec" stroke-width="1.8" stroke-linecap="round" stroke-linejoin="round"/>
<path d="M783.3,327.2 L774.8,337.6 L778.6,347.1 L771.0,357.5 L760.5,354.7 L756.8,345.2 L763.4,337.6 L774.8,337.6" fill="none" stroke="#d99a50" stroke-width="1.4" stroke-linecap="round" stroke-linejoin="round"/>
<path d="M803.2,206.9 L808.9,216.3 L806.0,226.8 L818.4,233.4" fill="none" stroke="#b9741f" stroke-width="2.6" stroke-linecap="round" stroke-linejoin="round"/>
<path d="M808.9,216.3 L804.1,222.0" fill="none" stroke="#b9741f" stroke-width="2.6" stroke-linecap="round" stroke-linejoin="round"/>
<path d="M806.0,226.8 L798.5,235.3 L783.3,227.7" fill="none" stroke="#333" stroke-width="3.8" stroke-linecap="round" stroke-linejoin="round"/>
<path d="M806.0,226.8 L798.5,235.3 L783.3,227.7" fill="none" stroke="#ffffff" stroke-width="2.2" stroke-linecap="round" stroke-linejoin="round"/>
<path d="M910.3,224.9 L912.2,244.8 L903.6,253.3" fill="none" stroke="#b9741f" stroke-width="2.8" stroke-linecap="round" stroke-linejoin="round"/>
<path d="M912.2,244.8 L926.4,260.9 L928.3,271.3 L916.9,275.1" fill="none" stroke="#b9741f" stroke-width="2.8" stroke-linecap="round" stroke-linejoin="round"/>
<path d="M928.3,271.3 L934.9,277.0" fill="none" stroke="#b9741f" stroke-width="2.8" stroke-linecap="round" stroke-linejoin="round"/>
<path d="M966.2,247.6 L968.1,257.1 L959.5,260.9 L957.6,272.2 L946.3,276.0 L937.7,271.3" fill="none" stroke="#555" stroke-width="3.8" stroke-linecap="round" stroke-linejoin="round"/>
<path d="M966.2,247.6 L968.1,257.1 L959.5,260.9 L957.6,272.2 L946.3,276.0 L937.7,271.3" fill="none" stroke="#ffffff" stroke-width="2.2" stroke-linecap="round" stroke-linejoin="round"/>
<path d="M946.3,276.0 L946.3,288.4" fill="none" stroke="#555" stroke-width="3.8" stroke-linecap="round" stroke-linejoin="round"/>
<path d="M946.3,276.0 L946.3,288.4" fill="none" stroke="#ffffff" stroke-width="2.2" stroke-linecap="round" stroke-linejoin="round"/>
<path d="M966.2,247.6 L968.1,257.1 L962.4,263.7" fill="none" stroke="#b9741f" stroke-width="2.4" stroke-linecap="round" stroke-linejoin="round"/>
<path d="M910.3,286.5 L912.2,299.7 L924.5,301.6 L926.4,311.1" fill="none" stroke="#b9741f" stroke-width="2.6" stroke-linecap="round" stroke-linejoin="round"/>
<path d="M912.2,299.7 L907.4,294.0" fill="none" stroke="#b9741f" stroke-width="2.6" stroke-linecap="round" stroke-linejoin="round"/>
<path d="M912.2,299.7 L914.1,290.2" fill="none" stroke="#b9741f" stroke-width="2.6" stroke-linecap="round" stroke-linejoin="round"/>
<path d="M897.9,300.7 L908.4,300.7 L914.1,307.3" fill="none" stroke="#333" stroke-width="3.8" stroke-linecap="round" stroke-linejoin="round"/>
<path d="M897.9,300.7 L908.4,300.7 L914.1,307.3" fill="none" stroke="#ffffff" stroke-width="2.2" stroke-linecap="round" stroke-linejoin="round"/>
<path d="M751.1,321.5 L763.4,334.8 L764.3,344.3" fill="none" stroke="#b9741f" stroke-width="2.6" stroke-linecap="round" stroke-linejoin="round"/>
<path d="M757.7,316.8 L754.9,324.4 L760.5,322.5 L757.7,316.8" fill="none" stroke="#b9741f" stroke-width="2.6" stroke-linecap="round" stroke-linejoin="round"/>
<rect x="691" y="194.5" width="309" height="170" fill="none" stroke="rgba(140,140,140,0.8)" stroke-width="4.2" stroke-dasharray="17 11"/>
<path d="M1001,193 L1089,66 M1001,366 L1089,486" fill="none" stroke="#b0b0b0" stroke-width="3.6" stroke-dasharray="17 11"/>
<text x="881" y="59.7" font-size="26.5" fill="#ffffff" stroke="#1a1a1a" stroke-width="2.2" stroke-linejoin="round" paint-order="stroke" text-anchor="middle">H7</text>
<text x="840.6" y="110.9" font-size="26.5" fill="#ffffff" stroke="#1a1a1a" stroke-width="2.2" stroke-linejoin="round" paint-order="stroke" text-anchor="middle">H6</text>
<text x="974.8" y="135.5" font-size="26.5" fill="#ffffff" stroke="#1a1a1a" stroke-width="2.2" stroke-linejoin="round" paint-order="stroke" text-anchor="middle">H1</text>
<text x="862.4" y="394.5" font-size="26.5" fill="#ffffff" stroke="#1a1a1a" stroke-width="2.2" stroke-linejoin="round" paint-order="stroke" text-anchor="middle">H3</text>
<text x="958.2" y="406.8" font-size="26.5" fill="#ffffff" stroke="#1a1a1a" stroke-width="2.2" stroke-linejoin="round" paint-order="stroke" text-anchor="middle">H2</text>
<text x="777.7" y="438.1" font-size="26.5" fill="#ffffff" stroke="#1a1a1a" stroke-width="2.2" stroke-linejoin="round" paint-order="stroke" text-anchor="middle">H4</text>
<text x="731.6" y="467.6" font-size="26.5" fill="#ffffff" stroke="#1a1a1a" stroke-width="2.2" stroke-linejoin="round" paint-order="stroke" text-anchor="middle">H5</text>
<!-- pc -->
<text x="1035" y="46" font-size="46" class="b" fill="#000">C</text>
<clipPath id="clipC"><rect x="1090.5" y="65" width="801" height="421.5"/></clipPath>
<g clip-path="url(#clipC)">
<path d="M1609.4,38.6 L1622.2,205.0" fill="none" stroke="#a9b5c2" stroke-width="109.4"/>
<path d="M1609.4,38.6 L1622.2,205.0" fill="none" stroke="#d8a970" stroke-width="103.8"/>
<path d="M1609.4,38.6 L1622.2,205.0" fill="none" stroke="#e2b076" stroke-width="96.5"/>
<path d="M1609.4,38.6 L1622.2,205.0" fill="none" stroke="#ebb87b" stroke-width="87.2"/>
<path d="M1609.4,38.6 L1622.2,205.0" fill="none" stroke="#f2bd7e" stroke-width="74.7"/>
<path d="M1609.4,38.6 L1622.2,205.0" fill="none" stroke="#f7c180" stroke-width="60.2"/>
<path d="M1609.4,38.6 L1622.2,205.0" fill="none" stroke="#fac381" stroke-width="41.5"/>
<path d="M1609.4,38.6 L1622.2,205.0" fill="none" stroke="#fbc583" stroke-width="20.8"/>
<clipPath id="clH6u"><polygon points="1279.1,35.8 1506.5,35.8 1506.5,369.1 1330.2,353.1"/></clipPath>
<g clip-path="url(#clH6u)"><path d="M1418.4,38.6 L1382.0,391.2" fill="none" stroke="#a9b5c2" stroke-width="105.1"/>
<path d="M1418.4,38.6 L1382.0,391.2" fill="none" stroke="#d8a970" stroke-width="99.5"/>
<path d="M1418.4,38.6 L1382.0,391.2" fill="none" stroke="#e2b076" stroke-width="92.6"/>
<path d="M1418.4,38.6 L1382.0,391.2" fill="none" stroke="#ebb87b" stroke-width="83.6"/>
<path d="M1418.4,38.6 L1382.0,391.2" fill="none" stroke="#f2bd7e" stroke-width="71.7"/>
<path d="M1418.4,38.6 L1382.0,391.2" fill="none" stroke="#f7c180" stroke-width="57.7"/>
<path d="M1418.4,38.6 L1382.0,391.2" fill="none" stroke="#fac381" stroke-width="39.8"/>
<path d="M1418.4,38.6 L1382.0,391.2" fill="none" stroke="#fbc583" stroke-width="19.9"/></g>
<path d="M1335.1,353.7 L1436.9,362.8" stroke="#a9b5c2" stroke-width="2.4" fill="none"/>
<path d="M1235.0,32.9 C1233.1,38.6 1228.6,53.3 1223.6,67.1 C1218.6,80.8 1211.0,98.3 1205.1,115.4 C1199.2,132.5 1193.5,147.2 1188.1,169.4 C1182.6,191.7 1177.2,216.8 1172.4,249.1 C1167.7,281.3 1162.9,320.1 1159.6,362.8 C1156.3,405.5 1153.7,481.3 1152.5,505.0" fill="none" stroke="#a9b5c2" stroke-width="109.4"/>
<path d="M1235.0,32.9 C1233.1,38.6 1228.6,53.3 1223.6,67.1 C1218.6,80.8 1211.0,98.3 1205.1,115.4 C1199.2,132.5 1193.5,147.2 1188.1,169.4 C1182.6,191.7 1177.2,216.8 1172.4,249.1 C1167.7,281.3 1162.9,320.1 1159.6,362.8 C1156.3,405.5 1153.7,481.3 1152.5,505.0" fill="none" stroke="#d8a970" stroke-width="103.8"/>
<path d="M1235.0,32.9 C1233.1,38.6 1228.6,53.3 1223.6,67.1 C1218.6,80.8 1211.0,98.3 1205.1,115.4 C1199.2,132.5 1193.5,147.2 1188.1,169.4 C1182.6,191.7 1177.2,216.8 1172.4,249.1 C1167.7,281.3 1162.9,320.1 1159.6,362.8 C1156.3,405.5 1153.7,481.3 1152.5,505.0" fill="none" stroke="#e2b076" stroke-width="96.5"/>
<path d="M1235.0,32.9 C1233.1,38.6 1228.6,53.3 1223.6,67.1 C1218.6,80.8 1211.0,98.3 1205.1,115.4 C1199.2,132.5 1193.5,147.2 1188.1,169.4 C1182.6,191.7 1177.2,216.8 1172.4,249.1 C1167.7,281.3 1162.9,320.1 1159.6,362.8 C1156.3,405.5 1153.7,481.3 1152.5,505.0" fill="none" stroke="#ebb87b" stroke-width="87.2"/>
<path d="M1235.0,32.9 C1233.1,38.6 1228.6,53.3 1223.6,67.1 C1218.6,80.8 1211.0,98.3 1205.1,115.4 C1199.2,132.5 1193.5,147.2 1188.1,169.4 C1182.6,191.7 1177.2,216.8 1172.4,249.1 C1167.7,281.3 1162.9,320.1 1159.6,362.8 C1156.3,405.5 1153.7,481.3 1152.5,505.0" fill="none" stroke="#f2bd7e" stroke-width="74.7"/>
<path d="M1235.0,32.9 C1233.1,38.6 1228.6,53.3 1223.6,67.1 C1218.6,80.8 1211.0,98.3 1205.1,115.4 C1199.2,132.5 1193.5,147.2 1188.1,169.4 C1182.6,191.7 1177.2,216.8 1172.4,249.1 C1167.7,281.3 1162.9,320.1 1159.6,362.8 C1156.3,405.5 1153.7,481.3 1152.5,505.0" fill="none" stroke="#f7c180" stroke-width="60.2"/>
<path d="M1235.0,32.9 C1233.1,38.6 1228.6,53.3 1223.6,67.1 C1218.6,80.8 1211.0,98.3 1205.1,115.4 C1199.2,132.5 1193.5,147.2 1188.1,169.4 C1182.6,191.7 1177.2,216.8 1172.4,249.1 C1167.7,281.3 1162.9,320.1 1159.6,362.8 C1156.3,405.5 1153.7,481.3 1152.5,505.0" fill="none" stroke="#fac381" stroke-width="41.5"/>
<path d="M1235.0,32.9 C1233.1,38.6 1228.6,53.3 1223.6,67.1 C1218.6,80.8 1211.0,98.3 1205.1,115.4 C1199.2,132.5 1193.5,147.2 1188.1,169.4 C1182.6,191.7 1177.2,216.8 1172.4,249.1 C1167.7,281.3 1162.9,320.1 1159.6,362.8 C1156.3,405.5 1153.7,481.3 1152.5,505.0" fill="none" stroke="#fbc583" stroke-width="20.8"/>
<path d="M1834.0,38.6 C1833.9,69.0 1833.8,171.3 1833.5,220.6 C1833.1,269.9 1834.3,287.0 1832.0,334.4 C1829.8,381.8 1821.8,476.5 1819.8,505.0" fill="none" stroke="#a9b5c2" stroke-width="108.0"/>
<path d="M1834.0,38.6 C1833.9,69.0 1833.8,171.3 1833.5,220.6 C1833.1,269.9 1834.3,287.0 1832.0,334.4 C1829.8,381.8 1821.8,476.5 1819.8,505.0" fill="none" stroke="#d8a970" stroke-width="102.4"/>
<path d="M1834.0,38.6 C1833.9,69.0 1833.8,171.3 1833.5,220.6 C1833.1,269.9 1834.3,287.0 1832.0,334.4 C1829.8,381.8 1821.8,476.5 1819.8,505.0" fill="none" stroke="#e2b076" stroke-width="95.2"/>
<path d="M1834.0,38.6 C1833.9,69.0 1833.8,171.3 1833.5,220.6 C1833.1,269.9 1834.3,287.0 1832.0,334.4 C1829.8,381.8 1821.8,476.5 1819.8,505.0" fill="none" stroke="#ebb87b" stroke-width="86.0"/>
<path d="M1834.0,38.6 C1833.9,69.0 1833.8,171.3 1833.5,220.6 C1833.1,269.9 1834.3,287.0 1832.0,334.4 C1829.8,381.8 1821.8,476.5 1819.8,505.0" fill="none" stroke="#f2bd7e" stroke-width="73.7"/>
<path d="M1834.0,38.6 C1833.9,69.0 1833.8,171.3 1833.5,220.6 C1833.1,269.9 1834.3,287.0 1832.0,334.4 C1829.8,381.8 1821.8,476.5 1819.8,505.0" fill="none" stroke="#f7c180" stroke-width="59.4"/>
<path d="M1834.0,38.6 C1833.9,69.0 1833.8,171.3 1833.5,220.6 C1833.1,269.9 1834.3,287.0 1832.0,334.4 C1829.8,381.8 1821.8,476.5 1819.8,505.0" fill="none" stroke="#fac381" stroke-width="40.9"/>
<path d="M1834.0,38.6 C1833.9,69.0 1833.8,171.3 1833.5,220.6 C1833.1,269.9 1834.3,287.0 1832.0,334.4 C1829.8,381.8 1821.8,476.5 1819.8,505.0" fill="none" stroke="#fbc583" stroke-width="20.5"/>
<path d="M1834.0,38.6 C1833.9,69.0 1833.8,171.3 1833.5,220.6 C1833.1,269.9 1834.3,287.0 1832.0,334.4 C1829.8,381.8 1821.8,476.5 1819.8,505.0" fill="none" stroke="#86633f" stroke-opacity="0.14" stroke-width="102.4"/>
<clipPath id="clH6l"><polygon points="1279.1,371.3 1478.1,360.0 1478.1,533.4 1279.1,533.4"/></clipPath>
<g clip-path="url(#clH6l)"><path d="M1368.6,334.4 L1390.0,510.7" fill="none" stroke="#a9b5c2" stroke-width="103.7"/>
<path d="M1368.6,334.4 L1390.0,510.7" fill="none" stroke="#d8a970" stroke-width="98.1"/>
<path d="M1368.6,334.4 L1390.0,510.7" fill="none" stroke="#e2b076" stroke-width="91.2"/>
<path d="M1368.6,334.4 L1390.0,510.7" fill="none" stroke="#ebb87b" stroke-width="82.4"/>
<path d="M1368.6,334.4 L1390.0,510.7" fill="none" stroke="#f2bd7e" stroke-width="70.6"/>
<path d="M1368.6,334.4 L1390.0,510.7" fill="none" stroke="#f7c180" stroke-width="56.9"/>
<path d="M1368.6,334.4 L1390.0,510.7" fill="none" stroke="#fac381" stroke-width="39.2"/>
<path d="M1368.6,334.4 L1390.0,510.7" fill="none" stroke="#fbc583" stroke-width="19.6"/></g>
<path d="M1322.6,368.8 L1422.1,363.1" stroke="#a9b5c2" stroke-width="2.4" fill="none"/>
<path d="M1573.8,219.2 L1622.2,510.7" fill="none" stroke="#a9b5c2" stroke-width="103.7"/>
<path d="M1573.8,219.2 L1622.2,510.7" fill="none" stroke="#d8a970" stroke-width="98.1"/>
<path d="M1573.8,219.2 L1622.2,510.7" fill="none" stroke="#e2b076" stroke-width="91.2"/>
<path d="M1573.8,219.2 L1622.2,510.7" fill="none" stroke="#ebb87b" stroke-width="82.4"/>
<path d="M1573.8,219.2 L1622.2,510.7" fill="none" stroke="#f2bd7e" stroke-width="70.6"/>
<path d="M1573.8,219.2 L1622.2,510.7" fill="none" stroke="#f7c180" stroke-width="56.9"/>
<path d="M1573.8,219.2 L1622.2,510.7" fill="none" stroke="#fac381" stroke-width="39.2"/>
<path d="M1573.8,219.2 L1622.2,510.7" fill="none" stroke="#fbc583" stroke-width="19.6"/>
<ellipse cx="1573.8" cy="214.9" rx="42.7" ry="17.6" transform="rotate(-6 1573.8 214.9)" fill="#e9b57a" stroke="#b7bfc8" stroke-width="2"/>
<g opacity="0.9"><ellipse cx="1530.0" cy="115.1" rx="37.5" ry="37.5" fill="#e4e4e4"/><ellipse cx="1514.4" cy="73.9" rx="21.3" ry="21.3" fill="#e4e4e4"/><ellipse cx="1551.9" cy="162.9" rx="16.5" ry="16.5" fill="#e4e4e4"/><ellipse cx="1502.6" cy="178.5" rx="17.9" ry="21.5" fill="#e4e4e4"/><ellipse cx="1497.1" cy="64.2" rx="17.1" ry="17.1" fill="#e4e4e4"/></g>
<path d="M1401.3,38.6 C1402.8,43.4 1399.0,30.2 1410.4,67.1 C1421.9,103.9 1460.2,227.7 1470.1,259.9" fill="none" stroke="#a9b5c2" stroke-width="105.7"/>
<path d="M1401.3,38.6 C1402.8,43.4 1399.0,30.2 1410.4,67.1 C1421.9,103.9 1460.2,227.7 1470.1,259.9" fill="none" stroke="#d8a970" stroke-width="100.1"/>
<path d="M1401.3,38.6 C1402.8,43.4 1399.0,30.2 1410.4,67.1 C1421.9,103.9 1460.2,227.7 1470.1,259.9" fill="none" stroke="#e2b076" stroke-width="93.1"/>
<path d="M1401.3,38.6 C1402.8,43.4 1399.0,30.2 1410.4,67.1 C1421.9,103.9 1460.2,227.7 1470.1,259.9" fill="none" stroke="#ebb87b" stroke-width="84.1"/>
<path d="M1401.3,38.6 C1402.8,43.4 1399.0,30.2 1410.4,67.1 C1421.9,103.9 1460.2,227.7 1470.1,259.9" fill="none" stroke="#f2bd7e" stroke-width="72.1"/>
<path d="M1401.3,38.6 C1402.8,43.4 1399.0,30.2 1410.4,67.1 C1421.9,103.9 1460.2,227.7 1470.1,259.9" fill="none" stroke="#f7c180" stroke-width="58.1"/>
<path d="M1401.3,38.6 C1402.8,43.4 1399.0,30.2 1410.4,67.1 C1421.9,103.9 1460.2,227.7 1470.1,259.9" fill="none" stroke="#fac381" stroke-width="40.0"/>
<path d="M1401.3,38.6 C1402.8,43.4 1399.0,30.2 1410.4,67.1 C1421.9,103.9 1460.2,227.7 1470.1,259.9" fill="none" stroke="#fbc583" stroke-width="20.0"/>
<path d="M1470.1,257.6 C1471.2,263.3 1468.3,249.5 1476.7,291.7 C1485.0,333.9 1512.9,474.2 1520.2,510.7" fill="none" stroke="#a9b5c2" stroke-width="108.5"/>
<path d="M1470.1,257.6 C1471.2,263.3 1468.3,249.5 1476.7,291.7 C1485.0,333.9 1512.9,474.2 1520.2,510.7" fill="none" stroke="#d8a970" stroke-width="102.9"/>
<path d="M1470.1,257.6 C1471.2,263.3 1468.3,249.5 1476.7,291.7 C1485.0,333.9 1512.9,474.2 1520.2,510.7" fill="none" stroke="#e2b076" stroke-width="95.7"/>
<path d="M1470.1,257.6 C1471.2,263.3 1468.3,249.5 1476.7,291.7 C1485.0,333.9 1512.9,474.2 1520.2,510.7" fill="none" stroke="#ebb87b" stroke-width="86.5"/>
<path d="M1470.1,257.6 C1471.2,263.3 1468.3,249.5 1476.7,291.7 C1485.0,333.9 1512.9,474.2 1520.2,510.7" fill="none" stroke="#f2bd7e" stroke-width="74.1"/>
<path d="M1470.1,257.6 C1471.2,263.3 1468.3,249.5 1476.7,291.7 C1485.0,333.9 1512.9,474.2 1520.2,510.7" fill="none" stroke="#f7c180" stroke-width="59.7"/>
<path d="M1470.1,257.6 C1471.2,263.3 1468.3,249.5 1476.7,291.7 C1485.0,333.9 1512.9,474.2 1520.2,510.7" fill="none" stroke="#fac381" stroke-width="41.2"/>
<path d="M1470.1,257.6 C1471.2,263.3 1468.3,249.5 1476.7,291.7 C1485.0,333.9 1512.9,474.2 1520.2,510.7" fill="none" stroke="#fbc583" stroke-width="20.6"/>
<path d="M1422.1,269.5 Q1472.4,260.4 1518.8,246.2" stroke="#b7bfc8" stroke-width="2.5" fill="none"/>
<path d="M1183.8,38.6 C1185.0,43.4 1186.2,48.6 1190.9,67.1 C1195.6,85.5 1204.9,121.6 1212.2,149.5 C1219.6,177.5 1227.7,206.4 1235.0,234.8 C1242.2,263.3 1248.9,291.7 1255.7,320.1 C1262.6,348.6 1270.7,373.7 1276.2,405.5 C1281.8,437.2 1286.9,493.1 1289.0,510.7" fill="none" stroke="#a9b5c2" stroke-width="109.4"/>
<path d="M1183.8,38.6 C1185.0,43.4 1186.2,48.6 1190.9,67.1 C1195.6,85.5 1204.9,121.6 1212.2,149.5 C1219.6,177.5 1227.7,206.4 1235.0,234.8 C1242.2,263.3 1248.9,291.7 1255.7,320.1 C1262.6,348.6 1270.7,373.7 1276.2,405.5 C1281.8,437.2 1286.9,493.1 1289.0,510.7" fill="none" stroke="#d8a970" stroke-width="103.8"/>
<path d="M1183.8,38.6 C1185.0,43.4 1186.2,48.6 1190.9,67.1 C1195.6,85.5 1204.9,121.6 1212.2,149.5 C1219.6,177.5 1227.7,206.4 1235.0,234.8 C1242.2,263.3 1248.9,291.7 1255.7,320.1 C1262.6,348.6 1270.7,373.7 1276.2,405.5 C1281.8,437.2 1286.9,493.1 1289.0,510.7" fill="none" stroke="#e2b076" stroke-width="96.5"/>
<path d="M1183.8,38.6 C1185.0,43.4 1186.2,48.6 1190.9,67.1 C1195.6,85.5 1204.9,121.6 1212.2,149.5 C1219.6,177.5 1227.7,206.4 1235.0,234.8 C1242.2,263.3 1248.9,291.7 1255.7,320.1 C1262.6,348.6 1270.7,373.7 1276.2,405.5 C1281.8,437.2 1286.9,493.1 1289.0,510.7" fill="none" stroke="#ebb87b" stroke-width="87.2"/>
<path d="M1183.8,38.6 C1185.0,43.4 1186.2,48.6 1190.9,67.1 C1195.6,85.5 1204.9,121.6 1212.2,149.5 C1219.6,177.5 1227.7,206.4 1235.0,234.8 C1242.2,263.3 1248.9,291.7 1255.7,320.1 C1262.6,348.6 1270.7,373.7 1276.2,405.5 C1281.8,437.2 1286.9,493.1 1289.0,510.7" fill="none" stroke="#f2bd7e" stroke-width="74.7"/>
<path d="M1183.8,38.6 C1185.0,43.4 1186.2,48.6 1190.9,67.1 C1195.6,85.5 1204.9,121.6 1212.2,149.5 C1219.6,177.5 1227.7,206.4 1235.0,234.8 C1242.2,263.3 1248.9,291.7 1255.7,320.1 C1262.6,348.6 1270.7,373.7 1276.2,405.5 C1281.8,437.2 1286.9,493.1 1289.0,510.7" fill="none" stroke="#f7c180" stroke-width="60.2"/>
<path d="M1183.8,38.6 C1185.0,43.4 1186.2,48.6 1190.9,67.1 C1195.6,85.5 1204.9,121.6 1212.2,149.5 C1219.6,177.5 1227.7,206.4 1235.0,234.8 C1242.2,263.3 1248.9,291.7 1255.7,320.1 C1262.6,348.6 1270.7,373.7 1276.2,405.5 C1281.8,437.2 1286.9,493.1 1289.0,510.7" fill="none" stroke="#fac381" stroke-width="41.5"/>
<path d="M1183.8,38.6 C1185.0,43.4 1186.2,48.6 1190.9,67.1 C1195.6,85.5 1204.9,121.6 1212.2,149.5 C1219.6,177.5 1227.7,206.4 1235.0,234.8 C1242.2,263.3 1248.9,291.7 1255.7,320.1 C1262.6,348.6 1270.7,373.7 1276.2,405.5 C1281.8,437.2 1286.9,493.1 1289.0,510.7" fill="none" stroke="#fbc583" stroke-width="20.8"/>
<path d="M1605.1,38.6 C1606.8,43.4 1606.8,41.5 1615.1,67.1 C1623.4,92.7 1639.0,147.6 1654.9,192.2 C1670.8,236.7 1690.2,281.3 1710.3,334.4 C1730.5,387.4 1764.8,481.3 1775.7,510.7" fill="none" stroke="#a9b5c2" stroke-width="104.6"/>
<path d="M1605.1,38.6 C1606.8,43.4 1606.8,41.5 1615.1,67.1 C1623.4,92.7 1639.0,147.6 1654.9,192.2 C1670.8,236.7 1690.2,281.3 1710.3,334.4 C1730.5,387.4 1764.8,481.3 1775.7,510.7" fill="none" stroke="#d8a970" stroke-width="99.0"/>
<path d="M1605.1,38.6 C1606.8,43.4 1606.8,41.5 1615.1,67.1 C1623.4,92.7 1639.0,147.6 1654.9,192.2 C1670.8,236.7 1690.2,281.3 1710.3,334.4 C1730.5,387.4 1764.8,481.3 1775.7,510.7" fill="none" stroke="#e2b076" stroke-width="92.0"/>
<path d="M1605.1,38.6 C1606.8,43.4 1606.8,41.5 1615.1,67.1 C1623.4,92.7 1639.0,147.6 1654.9,192.2 C1670.8,236.7 1690.2,281.3 1710.3,334.4 C1730.5,387.4 1764.8,481.3 1775.7,510.7" fill="none" stroke="#ebb87b" stroke-width="83.1"/>
<path d="M1605.1,38.6 C1606.8,43.4 1606.8,41.5 1615.1,67.1 C1623.4,92.7 1639.0,147.6 1654.9,192.2 C1670.8,236.7 1690.2,281.3 1710.3,334.4 C1730.5,387.4 1764.8,481.3 1775.7,510.7" fill="none" stroke="#f2bd7e" stroke-width="71.2"/>
<path d="M1605.1,38.6 C1606.8,43.4 1606.8,41.5 1615.1,67.1 C1623.4,92.7 1639.0,147.6 1654.9,192.2 C1670.8,236.7 1690.2,281.3 1710.3,334.4 C1730.5,387.4 1764.8,481.3 1775.7,510.7" fill="none" stroke="#f7c180" stroke-width="57.4"/>
<path d="M1605.1,38.6 C1606.8,43.4 1606.8,41.5 1615.1,67.1 C1623.4,92.7 1639.0,147.6 1654.9,192.2 C1670.8,236.7 1690.2,281.3 1710.3,334.4 C1730.5,387.4 1764.8,481.3 1775.7,510.7" fill="none" stroke="#fac381" stroke-width="39.6"/>
<path d="M1605.1,38.6 C1606.8,43.4 1606.8,41.5 1615.1,67.1 C1623.4,92.7 1639.0,147.6 1654.9,192.2 C1670.8,236.7 1690.2,281.3 1710.3,334.4 C1730.5,387.4 1764.8,481.3 1775.7,510.7" fill="none" stroke="#fbc583" stroke-width="19.8"/>
<g opacity="0.55"><ellipse cx="1446.8" cy="468.0" rx="17.1" ry="17.1" fill="#dcdcdc"/><ellipse cx="1679.1" cy="442.4" rx="27.0" ry="27.0" fill="#dcdcdc"/><ellipse cx="1679.1" cy="143.8" rx="19.9" ry="19.9" fill="#dcdcdc"/></g>
<g opacity="0.36"><ellipse cx="1469.0" cy="189.9" rx="39.0" ry="49.9" fill="#b5721f"/><ellipse cx="1415.5" cy="476.5" rx="24.2" ry="24.2" fill="#b5721f"/><ellipse cx="1687.6" cy="220.6" rx="31.8" ry="31.8" fill="#b5721f"/><path d="M1558.2,61.4 C1566.3,48.6 1595.4,58.1 1613.6,58.5 C1631.9,59.0 1655.8,56.2 1667.7,64.2 C1679.5,72.3 1679.5,95.5 1684.7,106.9 C1690.0,118.2 1698.0,123.0 1699.0,132.5 C1699.9,141.9 1696.6,156.6 1690.4,163.7 C1684.3,170.9 1670.5,173.9 1662.0,175.1 C1653.5,176.3 1644.9,169.0 1639.2,170.9 C1633.6,172.7 1634.0,182.7 1627.9,186.5 C1621.7,190.3 1611.5,193.1 1602.3,193.6 C1593.0,194.1 1578.6,199.1 1572.4,189.3 C1566.3,179.6 1567.7,156.6 1565.3,135.3 C1562.9,114.0 1550.1,74.2 1558.2,61.4 Z" fill="#b5721f"/><path d="M1650.6,305.9 C1653.4,298.3 1654.4,292.2 1662.0,288.9 C1669.6,285.5 1686.2,283.2 1696.1,286.0 C1706.1,288.9 1716.4,297.9 1721.7,305.9 C1727.0,314.0 1728.0,324.9 1728.0,334.4 C1728.0,343.8 1725.8,356.2 1721.7,362.8 C1717.6,369.4 1706.1,367.1 1703.2,374.2 C1700.4,381.3 1708.7,397.9 1704.6,405.5 C1700.6,413.0 1686.2,422.0 1679.1,419.7 C1671.9,417.3 1666.7,400.7 1662.0,391.2 C1657.3,381.8 1653.4,372.3 1650.6,362.8 C1647.9,353.3 1645.5,343.8 1645.5,334.4 C1645.5,324.9 1647.9,313.5 1650.6,305.9 Z" fill="#b5721f"/><path d="M1499.9,411.1 C1502.7,399.3 1505.6,389.3 1514.1,382.7 C1522.7,376.1 1537.8,371.6 1551.1,371.3 C1564.4,371.1 1583.3,375.1 1593.7,381.3 C1604.2,387.4 1607.0,403.3 1613.6,408.3 C1620.3,413.3 1628.3,416.4 1633.6,411.1 C1638.8,405.9 1641.1,385.1 1644.9,377.0 C1648.7,369.0 1652.3,360.4 1656.3,362.8 C1660.3,365.2 1667.2,369.4 1669.1,391.2 C1671.0,413.0 1695.4,476.5 1667.7,493.6 C1640.0,510.7 1531.2,500.2 1502.7,493.6 C1474.3,487.0 1497.5,467.5 1497.1,453.8 C1496.6,440.0 1497.1,423.0 1499.9,411.1 Z" fill="#b5721f"/></g>
<path d="M1616.5,166.6 L1617.9,192.2 L1596.6,214.9 L1612.2,237.7 L1589.5,246.2 L1562.5,269.0 L1571.0,298.8 L1546.8,317.3 L1519.8,313.0" fill="none" stroke="#b4bcc4" stroke-width="8.2" stroke-linecap="round" stroke-linejoin="round"/>
<path d="M1616.5,166.6 L1617.9,192.2 L1596.6,214.9 L1612.2,237.7 L1589.5,246.2 L1562.5,269.0 L1571.0,298.8 L1546.8,317.3 L1519.8,313.0" fill="none" stroke="#e9ebee" stroke-width="6.0" stroke-linecap="round" stroke-linejoin="round"/>
<path d="M1519.8,313.0 L1494.2,331.5 L1471.5,323.0" fill="none" stroke="#dca35e" stroke-width="6.0" stroke-linecap="round" stroke-linejoin="round"/>
<path d="M1471.6,323.0 L1446.8,348.6 L1421.2,345.7" fill="none" stroke="#dca35e" stroke-width="6.0" stroke-linecap="round" stroke-linejoin="round"/>
<path d="M1471.6,323.0 L1462.5,298.8" fill="none" stroke="#dca35e" stroke-width="6.0" stroke-linecap="round" stroke-linejoin="round"/>
<path d="M1421.2,345.7 L1397.1,371.3 L1368.6,367.1 L1350.1,395.5 L1323.1,396.9" fill="none" stroke="#b9bec4" stroke-width="8.5" stroke-linecap="round" stroke-linejoin="round"/>
<path d="M1368.6,367.1 L1357.3,341.5" fill="none" stroke="#b9bec4" stroke-width="8.5" stroke-linecap="round" stroke-linejoin="round"/>
<path d="M1421.2,345.7 L1397.1,371.3 L1368.6,367.1 L1350.1,395.5 L1323.1,396.9" fill="none" stroke="#e6e6e6" stroke-width="6.5" stroke-linecap="round" stroke-linejoin="round"/>
<path d="M1368.6,367.1 L1357.3,341.5" fill="none" stroke="#e6e6e6" stroke-width="6.5" stroke-linecap="round" stroke-linejoin="round"/>
<path d="M1323.1,396.9 L1307.5,419.7 L1279.1,422.5" fill="none" stroke="#d9a05c" stroke-width="6.0" stroke-linecap="round" stroke-linejoin="round"/>
<path d="M1307.5,419.7 L1318.9,453.8 L1291.8,476.5 L1262.0,465.2 L1257.7,442.4 L1267.7,422.5 L1279.1,422.5" fill="none" stroke="#d9a05c" stroke-width="6.0" stroke-linecap="round" stroke-linejoin="round"/>
<path d="M1318.9,453.8 L1344.5,463.7" fill="none" stroke="#b9bec4" stroke-width="8.5" stroke-linecap="round" stroke-linejoin="round"/>
<path d="M1318.9,453.8 L1344.5,463.7" fill="none" stroke="#e6e6e6" stroke-width="6.5" stroke-linecap="round" stroke-linejoin="round"/>
<path d="M1377.2,82.7 L1391.4,106.9 L1391.4,132.5 L1417.0,148.1" fill="none" stroke="#7a4606" stroke-width="10.0" stroke-linecap="round" stroke-linejoin="round"/>
<path d="M1377.2,82.7 L1391.4,106.9 L1391.4,132.5 L1417.0,148.1" fill="none" stroke="#d39a50" stroke-width="7.0" stroke-linecap="round" stroke-linejoin="round"/>
<path d="M1391.4,132.5 L1367.2,153.8 L1327.4,135.3" fill="none" stroke="#111" stroke-width="11.0" stroke-linecap="round" stroke-linejoin="round"/>
<path d="M1391.4,132.5 L1367.2,153.8 L1327.4,135.3" fill="none" stroke="#ffffff" stroke-width="6.0" stroke-linecap="round" stroke-linejoin="round"/>
<path d="M1242.1,379.9 L1267.7,412.6 L1276.2,416.8 L1276.2,439.6" fill="none" stroke="#7a4606" stroke-width="10.0" stroke-linecap="round" stroke-linejoin="round"/>
<path d="M1259.1,365.6 L1250.6,387.0 L1266.3,382.7 L1259.1,365.6" fill="none" stroke="#7a4606" stroke-width="10.0" stroke-linecap="round" stroke-linejoin="round"/>
<path d="M1242.1,379.9 L1267.7,412.6 L1276.2,416.8 L1276.2,439.6" fill="none" stroke="#d39a50" stroke-width="7.0" stroke-linecap="round" stroke-linejoin="round"/>
<path d="M1259.1,365.6 L1250.6,387.0 L1266.3,382.7 L1259.1,365.6" fill="none" stroke="#d39a50" stroke-width="7.0" stroke-linecap="round" stroke-linejoin="round"/>
<path d="M1657.7,129.6 L1659.7,160.9 L1666.3,182.2 L1642.1,203.6" fill="none" stroke="#8a5410" stroke-width="9.8" stroke-linecap="round" stroke-linejoin="round"/>
<path d="M1666.3,182.2 L1704.6,216.4 L1707.5,249.1 L1676.2,260.4" fill="none" stroke="#8a5410" stroke-width="9.8" stroke-linecap="round" stroke-linejoin="round"/>
<path d="M1707.5,249.1 L1724.5,266.1" fill="none" stroke="#8a5410" stroke-width="9.8" stroke-linecap="round" stroke-linejoin="round"/>
<path d="M1657.7,129.6 L1659.7,160.9 L1666.3,182.2 L1642.1,203.6" fill="none" stroke="#dfa75f" stroke-width="7.0" stroke-linecap="round" stroke-linejoin="round"/>
<path d="M1666.3,182.2 L1704.6,216.4 L1707.5,249.1 L1676.2,260.4" fill="none" stroke="#dfa75f" stroke-width="7.0" stroke-linecap="round" stroke-linejoin="round"/>
<path d="M1707.5,249.1 L1724.5,266.1" fill="none" stroke="#dfa75f" stroke-width="7.0" stroke-linecap="round" stroke-linejoin="round"/>
<path d="M1801.3,186.5 L1809.9,210.7 L1790.0,220.6 L1799.9,230.6" fill="none" stroke="#7a4606" stroke-width="9.0" stroke-linecap="round" stroke-linejoin="round"/>
<path d="M1801.3,186.5 L1809.9,210.7 L1790.0,220.6 L1799.9,230.6" fill="none" stroke="#d39a50" stroke-width="6.0" stroke-linecap="round" stroke-linejoin="round"/>
<path d="M1801.3,189.3 L1804.2,209.2 L1785.7,223.5 L1781.4,251.9 L1754.4,263.3 L1731.7,247.6" fill="none" stroke="#151515" stroke-width="10.5" stroke-linecap="round" stroke-linejoin="round"/>
<path d="M1754.4,263.3 L1751.6,296.0" fill="none" stroke="#151515" stroke-width="10.5" stroke-linecap="round" stroke-linejoin="round"/>
<path d="M1801.3,189.3 L1804.2,209.2 L1785.7,223.5 L1781.4,251.9 L1754.4,263.3 L1731.7,247.6" fill="none" stroke="#f4f4f4" stroke-width="5.5" stroke-linecap="round" stroke-linejoin="round"/>
<path d="M1754.4,263.3 L1751.6,296.0" fill="none" stroke="#f4f4f4" stroke-width="5.5" stroke-linecap="round" stroke-linejoin="round"/>
<path d="M1751.6,277.5 L1751.6,296.0" fill="none" stroke="#a87830" stroke-width="5.0" stroke-linecap="round" stroke-linejoin="round"/>
<path d="M1659.1,288.9 L1667.7,305.9 L1670.5,313.0 L1699.0,324.4 L1699.0,351.4" fill="none" stroke="#7f4c0c" stroke-width="9.8" stroke-linecap="round" stroke-linejoin="round"/>
<path d="M1660.6,291.7 L1662.0,314.5" fill="none" stroke="#7f4c0c" stroke-width="9.8" stroke-linecap="round" stroke-linejoin="round"/>
<path d="M1659.1,288.9 L1667.7,305.9 L1670.5,313.0 L1699.0,324.4 L1699.0,351.4" fill="none" stroke="#d8a058" stroke-width="7.0" stroke-linecap="round" stroke-linejoin="round"/>
<path d="M1660.6,291.7 L1662.0,314.5" fill="none" stroke="#d8a058" stroke-width="7.0" stroke-linecap="round" stroke-linejoin="round"/>
<path d="M1623.6,327.3 L1652.0,327.3 L1666.3,345.7" fill="none" stroke="#151515" stroke-width="10.5" stroke-linecap="round" stroke-linejoin="round"/>
<path d="M1652.0,327.3 L1659.1,303.1" fill="none" stroke="#151515" stroke-width="10.5" stroke-linecap="round" stroke-linejoin="round"/>
<path d="M1623.6,327.3 L1652.0,327.3 L1666.3,345.7" fill="none" stroke="#f4f4f4" stroke-width="5.5" stroke-linecap="round" stroke-linejoin="round"/>
<path d="M1652.0,327.3 L1659.1,303.1" fill="none" stroke="#f4f4f4" stroke-width="5.5" stroke-linecap="round" stroke-linejoin="round"/>
</g>
<rect x="1090.5" y="65" width="801" height="421.5" fill="none" stroke="#808080" stroke-width="4.5"/>
<text x="1196" y="99" font-size="31" class="b" fill="#ffffff" text-anchor="middle">H4</text>
<text x="1150.5" y="473.5" font-size="31" class="b" fill="#ffffff" text-anchor="middle">H5</text>
<text x="1384.3" y="473.5" font-size="31" class="b" fill="#ffffff" text-anchor="middle">H6</text>
<text x="1515.8" y="473.5" font-size="31" class="b" fill="#ffffff" text-anchor="middle">H3</text>
<text x="1620" y="473.5" font-size="31" class="b" fill="#ffffff" text-anchor="middle">H7</text>
<text x="1763.2" y="473.5" font-size="31" class="b" fill="#ffffff" text-anchor="middle">H2</text>
<text x="1835.5" y="99" font-size="31" class="b" fill="#ffffff" text-anchor="middle">H1</text>
<defs><marker id="ah" viewBox="0 0 10 10" refX="8.5" refY="5" markerWidth="3.5" markerHeight="3.5" orient="auto"><path d="M0,0.5 L10,5 L0,9.5 z" fill="#555"/></marker></defs>
<line x1="1450.3" y1="95.2" x2="1428.5" y2="57.5" stroke="#555" stroke-width="4.3" stroke-linecap="round" marker-end="url(#ah)"/>
<line x1="1273.8" y1="354.5" x2="1327.5" y2="489.5" stroke="#555" stroke-width="4.3" stroke-linecap="round" marker-end="url(#ah)"/>
<line x1="1664.5" y1="126.4" x2="1902.5" y2="259.5" stroke="#555" stroke-width="4.3" stroke-linecap="round" marker-end="url(#ah)"/>
<line x1="1851.9" y1="181" x2="1909.5" y2="230.8" stroke="#555" stroke-width="4.3" stroke-linecap="round" marker-end="url(#ah)"/>
<line x1="1773.6" y1="333.2" x2="1902.5" y2="290.5" stroke="#555" stroke-width="4.3" stroke-linecap="round" marker-end="url(#ah)"/>
<text x="1404" y="127.4" font-size="33.5" fill="#ffffff" stroke="#151515" stroke-width="2.6" stroke-linejoin="round" paint-order="stroke">C112</text>
<text x="1586.7" y="120.5" font-size="33.5" fill="#ffffff" stroke="#151515" stroke-width="2.6" stroke-linejoin="round" paint-order="stroke">E238</text>
<text x="1797.4" y="172" font-size="33.5" fill="#ffffff" stroke="#151515" stroke-width="2.6" stroke-linejoin="round" paint-order="stroke">D43</text>
<text x="1710" y="348.5" font-size="33.5" fill="#ffffff" stroke="#151515" stroke-width="2.6" stroke-linejoin="round" paint-order="stroke">E70</text>
<text x="1219.3" y="348.5" font-size="33.5" fill="#ffffff" stroke="#151515" stroke-width="2.6" stroke-linejoin="round" paint-order="stroke">C139</text>
<text x="1341" y="48.6" font-size="25.5" fill="#000">Desensitization <tspan font-size="36.5" dy="2.6">↓</tspan></text>
<text x="1243.5" y="519.6" font-size="25.5" fill="#000">Retinal binding <tspan font-size="36.5" dy="2.6">↑</tspan></text>
<text x="1914" y="257" font-size="25" fill="#000">Ca<tspan font-size="14.5" dy="-10">2+</tspan><tspan dy="10">-</tspan></text>
<text x="1914" y="295" font-size="25.5" fill="#000">binding <tspan font-size="36.5" dy="2.6">↑</tspan></text>
<!-- pd -->
<text x="43" y="603.5" font-size="46" class="b" fill="#000">D</text>
<text x="90" y="591" font-size="26" class="b" fill="#0f9647">CapChR1</text>
<text x="91" y="623.5" font-size="26.5" class="b" fill="#000"><tspan class="i">Cr</tspan>ChR2 S63D L132C T159C N258E</text>
<text x="84" y="675.5" font-size="26" fill="#1a1a1a">high [NaCl]<tspan font-size="15.6" dy="8.58">e</tspan></text>
<text x="326.5" y="675.5" font-size="26" fill="#1a1a1a">high [NMGCl]<tspan font-size="15.6" dy="8.58">e</tspan></text>
<text x="582.5" y="675.5" font-size="26" fill="#1a1a1a">high [CaCl<tspan font-size="15.6" dy="8.58">2</tspan><tspan dy="-8.6">]</tspan><tspan font-size="15.6" dy="8.58">e</tspan></text>
<text x="52" y="705.5" font-size="22.5" fill="#1c75bc">470 nm</text>
<rect x="62" y="710.8" width="53.5" height="6.4" fill="#29abe2"/>
<rect x="307.8" y="710.7" width="53.6" height="6.4" fill="#29abe2"/>
<rect x="558" y="707" width="53.7" height="6.4" fill="#29abe2"/>
<path d="M251,774 H298 M498,774 H549" stroke="#bdbdbd" stroke-width="1.1" stroke-dasharray="2 2.6" fill="none"/>
<path d="M52.2,773.9 L61.6,773.9 L64.6,735.5 L65.6,735.9 L66.6,736.3 L67.6,736.6 L68.6,736.9 L69.6,737.2 L70.6,737.4 L71.6,737.7 L72.6,737.9 L73.6,738.1 L74.6,738.2 L75.6,738.4 L76.6,738.5 L77.6,738.6 L78.6,738.7 L79.6,738.8 L80.6,738.9 L81.6,739.0 L82.6,739.1 L83.6,739.2 L84.6,739.2 L85.6,739.3 L86.6,739.3 L87.6,739.4 L88.6,739.4 L89.6,739.4 L90.6,739.5 L91.6,739.5 L92.6,739.5 L93.6,739.6 L94.6,739.6 L95.6,739.6 L96.6,739.6 L97.6,739.6 L98.6,739.7 L99.6,739.7 L100.6,739.7 L101.6,739.7 L102.6,739.7 L103.6,739.7 L104.6,739.7 L105.6,739.7 L106.6,739.7 L107.6,739.7 L108.6,739.7 L109.6,739.8 L110.6,739.8 L111.6,739.8 L112.6,739.8 L113.6,739.8 L114.6,739.8 L115.6,739.8 L115.9,739.8 L116.9,741.7 L118.9,745.3 L120.9,748.5 L122.9,751.3 L124.9,753.8 L126.9,756.0 L128.9,758.0 L130.9,759.8 L132.9,761.4 L134.9,762.7 L136.9,764.0 L138.9,765.1 L140.9,766.1 L142.9,766.9 L144.9,767.7 L146.9,768.4 L148.9,769.0 L150.9,769.5 L152.9,770.0 L154.9,770.5 L156.9,770.8 L158.9,771.2 L160.9,771.5 L162.9,771.8 L164.9,772.0 L166.9,772.2 L168.9,772.4 L170.9,772.6 L172.9,772.7 L174.9,772.8 L176.9,773.0 L178.9,773.1 L180.9,773.2 L182.9,773.2 L184.9,773.3 L186.9,773.4 L188.9,773.4 L190.9,773.5 L192.9,773.5 L194.9,773.6 L196.9,773.6 L198.9,773.6 L200.9,773.7 L202.9,773.7 L204.9,773.7 L206.9,773.7 L208.9,773.8 L210.9,773.8 L212.9,773.8 L214.9,773.8 L216.9,773.8 L218.9,773.8 L220.9,773.8 L222.9,773.8 L224.9,773.8 L226.9,773.9 L228.9,773.9 L230.9,773.9 L232.9,773.9 L234.9,773.9 L236.9,773.9 L238.9,773.9 L240.9,773.9 L242.9,773.9 L244.9,773.9 L246.9,773.9 L248.9,773.9 L249.8,773.9" fill="none" stroke="#4d4d4d" stroke-width="2.7" stroke-linejoin="round" stroke-linecap="butt"/>
<path d="M52.2,773.9 L61.6,773.9 L64.6,751.9 L65.6,752.1 L66.6,752.2 L67.6,752.4 L68.6,752.5 L69.6,752.6 L70.6,752.7 L71.6,752.8 L72.6,752.9 L73.6,753.0 L74.6,753.0 L75.6,753.1 L76.6,753.2 L77.6,753.2 L78.6,753.3 L79.6,753.3 L80.6,753.3 L81.6,753.4 L82.6,753.4 L83.6,753.4 L84.6,753.5 L85.6,753.5 L86.6,753.5 L87.6,753.5 L88.6,753.5 L89.6,753.6 L90.6,753.6 L91.6,753.6 L92.6,753.6 L93.6,753.6 L94.6,753.6 L95.6,753.6 L96.6,753.6 L97.6,753.6 L98.6,753.6 L99.6,753.6 L100.6,753.7 L101.6,753.7 L102.6,753.7 L103.6,753.7 L104.6,753.7 L105.6,753.7 L106.6,753.7 L107.6,753.7 L108.6,753.7 L109.6,753.7 L110.6,753.7 L111.6,753.7 L112.6,753.7 L113.6,753.7 L114.6,753.7 L115.6,753.7 L115.9,753.7 L116.9,754.9 L118.9,757.0 L120.9,758.8 L122.9,760.5 L124.9,762.0 L126.9,763.3 L128.9,764.5 L130.9,765.5 L132.9,766.5 L134.9,767.3 L136.9,768.0 L138.9,768.7 L140.9,769.3 L142.9,769.8 L144.9,770.2 L146.9,770.6 L148.9,771.0 L150.9,771.3 L152.9,771.6 L154.9,771.9 L156.9,772.1 L158.9,772.3 L160.9,772.5 L162.9,772.6 L164.9,772.8 L166.9,772.9 L168.9,773.0 L170.9,773.1 L172.9,773.2 L174.9,773.3 L176.9,773.3 L178.9,773.4 L180.9,773.5 L182.9,773.5 L184.9,773.6 L186.9,773.6 L188.9,773.6 L190.9,773.7 L192.9,773.7 L194.9,773.7 L196.9,773.7 L198.9,773.7 L200.9,773.8 L202.9,773.8 L204.9,773.8 L206.9,773.8 L208.9,773.8 L210.9,773.8 L212.9,773.8 L214.9,773.8 L216.9,773.8 L218.9,773.9 L220.9,773.9 L222.9,773.9 L224.9,773.9 L226.9,773.9 L228.9,773.9 L230.9,773.9 L232.9,773.9 L234.9,773.9 L236.9,773.9 L238.9,773.9 L240.9,773.9 L242.9,773.9 L244.9,773.9 L246.9,773.9 L248.9,773.9 L249.8,773.9" fill="none" stroke="#4d4d4d" stroke-width="2.7" stroke-linejoin="round" stroke-linecap="butt"/>
<path d="M52.2,773.9 L61.6,773.9 L64.6,768.9 L65.6,768.9 L66.6,769.0 L67.6,769.0 L68.6,769.1 L69.6,769.1 L70.6,769.1 L71.6,769.2 L72.6,769.2 L73.6,769.2 L74.6,769.2 L75.6,769.2 L76.6,769.2 L77.6,769.3 L78.6,769.3 L79.6,769.3 L80.6,769.3 L81.6,769.3 L82.6,769.3 L83.6,769.3 L84.6,769.3 L85.6,769.3 L86.6,769.3 L87.6,769.3 L88.6,769.4 L89.6,769.4 L90.6,769.4 L91.6,769.4 L92.6,769.4 L93.6,769.4 L94.6,769.4 L95.6,769.4 L96.6,769.4 L97.6,769.4 L98.6,769.4 L99.6,769.4 L100.6,769.4 L101.6,769.4 L102.6,769.4 L103.6,769.4 L104.6,769.4 L105.6,769.4 L106.6,769.4 L107.6,769.4 L108.6,769.4 L109.6,769.4 L110.6,769.4 L111.6,769.4 L112.6,769.4 L113.6,769.4 L114.6,769.4 L115.6,769.4 L115.9,769.4 L116.9,769.7 L118.9,770.1 L120.9,770.5 L122.9,770.9 L124.9,771.2 L126.9,771.5 L128.9,771.8 L130.9,772.0 L132.9,772.2 L134.9,772.4 L136.9,772.6 L138.9,772.7 L140.9,772.9 L142.9,773.0 L144.9,773.1 L146.9,773.2 L148.9,773.3 L150.9,773.3 L152.9,773.4 L154.9,773.4 L156.9,773.5 L158.9,773.5 L160.9,773.6 L162.9,773.6 L164.9,773.6 L166.9,773.7 L168.9,773.7 L170.9,773.7 L172.9,773.7 L174.9,773.8 L176.9,773.8 L178.9,773.8 L180.9,773.8 L182.9,773.8 L184.9,773.8 L186.9,773.8 L188.9,773.8 L190.9,773.8 L192.9,773.9 L194.9,773.9 L196.9,773.9 L198.9,773.9 L200.9,773.9 L202.9,773.9 L204.9,773.9 L206.9,773.9 L208.9,773.9 L210.9,773.9 L212.9,773.9 L214.9,773.9 L216.9,773.9 L218.9,773.9 L220.9,773.9 L222.9,773.9 L224.9,773.9 L226.9,773.9 L228.9,773.9 L230.9,773.9 L232.9,773.9 L234.9,773.9 L236.9,773.9 L238.9,773.9 L240.9,773.9 L242.9,773.9 L244.9,773.9 L246.9,773.9 L248.9,773.9 L249.8,773.9" fill="none" stroke="#4d4d4d" stroke-width="2.7" stroke-linejoin="round" stroke-linecap="butt"/>
<path d="M52.2,773.9 L61.6,773.9 L64.6,787.8 L65.6,787.6 L66.6,787.3 L67.6,787.2 L68.6,787.0 L69.6,786.8 L70.6,786.7 L71.6,786.5 L72.6,786.4 L73.6,786.3 L74.6,786.2 L75.6,786.1 L76.6,786.1 L77.6,786.0 L78.6,785.9 L79.6,785.9 L80.6,785.8 L81.6,785.8 L82.6,785.7 L83.6,785.7 L84.6,785.6 L85.6,785.6 L86.6,785.6 L87.6,785.6 L88.6,785.5 L89.6,785.5 L90.6,785.5 L91.6,785.5 L92.6,785.5 L93.6,785.4 L94.6,785.4 L95.6,785.4 L96.6,785.4 L97.6,785.4 L98.6,785.4 L99.6,785.4 L100.6,785.4 L101.6,785.4 L102.6,785.4 L103.6,785.4 L104.6,785.3 L105.6,785.3 L106.6,785.3 L107.6,785.3 L108.6,785.3 L109.6,785.3 L110.6,785.3 L111.6,785.3 L112.6,785.3 L113.6,785.3 L114.6,785.3 L115.6,785.3 L115.9,785.3 L116.9,784.6 L118.9,783.5 L120.9,782.4 L122.9,781.5 L124.9,780.6 L126.9,779.9 L128.9,779.2 L130.9,778.6 L132.9,778.1 L134.9,777.6 L136.9,777.2 L138.9,776.8 L140.9,776.5 L142.9,776.2 L144.9,776.0 L146.9,775.7 L148.9,775.5 L150.9,775.4 L152.9,775.2 L154.9,775.0 L156.9,774.9 L158.9,774.8 L160.9,774.7 L162.9,774.6 L164.9,774.5 L166.9,774.5 L168.9,774.4 L170.9,774.3 L172.9,774.3 L174.9,774.3 L176.9,774.2 L178.9,774.2 L180.9,774.1 L182.9,774.1 L184.9,774.1 L186.9,774.1 L188.9,774.1 L190.9,774.0 L192.9,774.0 L194.9,774.0 L196.9,774.0 L198.9,774.0 L200.9,774.0 L202.9,774.0 L204.9,774.0 L206.9,774.0 L208.9,773.9 L210.9,773.9 L212.9,773.9 L214.9,773.9 L216.9,773.9 L218.9,773.9 L220.9,773.9 L222.9,773.9 L224.9,773.9 L226.9,773.9 L228.9,773.9 L230.9,773.9 L232.9,773.9 L234.9,773.9 L236.9,773.9 L238.9,773.9 L240.9,773.9 L242.9,773.9 L244.9,773.9 L246.9,773.9 L248.9,773.9 L249.8,773.9" fill="none" stroke="#4d4d4d" stroke-width="2.7" stroke-linejoin="round" stroke-linecap="butt"/>
<path d="M52.2,773.9 L61.6,773.9 L64.6,808.0 L65.6,807.8 L66.6,807.5 L67.6,807.4 L68.6,807.2 L69.6,807.0 L70.6,806.9 L71.6,806.7 L72.6,806.6 L73.6,806.5 L74.6,806.4 L75.6,806.3 L76.6,806.3 L77.6,806.2 L78.6,806.1 L79.6,806.1 L80.6,806.0 L81.6,806.0 L82.6,805.9 L83.6,805.9 L84.6,805.8 L85.6,805.8 L86.6,805.8 L87.6,805.8 L88.6,805.7 L89.6,805.7 L90.6,805.7 L91.6,805.7 L92.6,805.7 L93.6,805.6 L94.6,805.6 L95.6,805.6 L96.6,805.6 L97.6,805.6 L98.6,805.6 L99.6,805.6 L100.6,805.6 L101.6,805.6 L102.6,805.6 L103.6,805.6 L104.6,805.5 L105.6,805.5 L106.6,805.5 L107.6,805.5 L108.6,805.5 L109.6,805.5 L110.6,805.5 L111.6,805.5 L112.6,805.5 L113.6,805.5 L114.6,805.5 L115.6,805.5 L115.9,805.5 L116.9,803.7 L118.9,800.4 L120.9,797.4 L122.9,794.8 L124.9,792.5 L126.9,790.4 L128.9,788.6 L130.9,787.0 L132.9,785.5 L134.9,784.2 L136.9,783.1 L138.9,782.1 L140.9,781.2 L142.9,780.4 L144.9,779.6 L146.9,779.0 L148.9,778.4 L150.9,777.9 L152.9,777.5 L154.9,777.1 L156.9,776.7 L158.9,776.4 L160.9,776.1 L162.9,775.9 L164.9,775.7 L166.9,775.5 L168.9,775.3 L170.9,775.1 L172.9,775.0 L174.9,774.9 L176.9,774.8 L178.9,774.7 L180.9,774.6 L182.9,774.5 L184.9,774.4 L186.9,774.4 L188.9,774.3 L190.9,774.3 L192.9,774.2 L194.9,774.2 L196.9,774.2 L198.9,774.1 L200.9,774.1 L202.9,774.1 L204.9,774.1 L206.9,774.0 L208.9,774.0 L210.9,774.0 L212.9,774.0 L214.9,774.0 L216.9,774.0 L218.9,774.0 L220.9,774.0 L222.9,774.0 L224.9,774.0 L226.9,773.9 L228.9,773.9 L230.9,773.9 L232.9,773.9 L234.9,773.9 L236.9,773.9 L238.9,773.9 L240.9,773.9 L242.9,773.9 L244.9,773.9 L246.9,773.9 L248.9,773.9 L249.8,773.9" fill="none" stroke="#4d4d4d" stroke-width="2.7" stroke-linejoin="round" stroke-linecap="butt"/>
<path d="M52.2,773.9 L61.6,773.9 L64.6,832.0 L65.6,831.6 L66.6,831.2 L67.6,830.8 L68.6,830.5 L69.6,830.2 L70.6,830.0 L71.6,829.7 L72.6,829.5 L73.6,829.3 L74.6,829.2 L75.6,829.0 L76.6,828.9 L77.6,828.7 L78.6,828.6 L79.6,828.5 L80.6,828.4 L81.6,828.3 L82.6,828.2 L83.6,828.2 L84.6,828.1 L85.6,828.1 L86.6,828.0 L87.6,828.0 L88.6,827.9 L89.6,827.9 L90.6,827.8 L91.6,827.8 L92.6,827.8 L93.6,827.7 L94.6,827.7 L95.6,827.7 L96.6,827.7 L97.6,827.7 L98.6,827.7 L99.6,827.6 L100.6,827.6 L101.6,827.6 L102.6,827.6 L103.6,827.6 L104.6,827.6 L105.6,827.6 L106.6,827.6 L107.6,827.6 L108.6,827.6 L109.6,827.5 L110.6,827.5 L111.6,827.5 L112.6,827.5 L113.6,827.5 L114.6,827.5 L115.6,827.5 L115.9,827.5 L116.9,824.4 L118.9,818.8 L120.9,813.8 L122.9,809.4 L124.9,805.5 L126.9,802.0 L128.9,798.8 L130.9,796.1 L132.9,793.6 L134.9,791.4 L136.9,789.5 L138.9,787.8 L140.9,786.2 L142.9,784.8 L144.9,783.6 L146.9,782.6 L148.9,781.6 L150.9,780.7 L152.9,780.0 L154.9,779.3 L156.9,778.7 L158.9,778.2 L160.9,777.7 L162.9,777.3 L164.9,776.9 L166.9,776.6 L168.9,776.3 L170.9,776.0 L172.9,775.8 L174.9,775.6 L176.9,775.4 L178.9,775.2 L180.9,775.1 L182.9,774.9 L184.9,774.8 L186.9,774.7 L188.9,774.6 L190.9,774.6 L192.9,774.5 L194.9,774.4 L196.9,774.4 L198.9,774.3 L200.9,774.3 L202.9,774.2 L204.9,774.2 L206.9,774.2 L208.9,774.1 L210.9,774.1 L212.9,774.1 L214.9,774.1 L216.9,774.0 L218.9,774.0 L220.9,774.0 L222.9,774.0 L224.9,774.0 L226.9,774.0 L228.9,774.0 L230.9,774.0 L232.9,774.0 L234.9,773.9 L236.9,773.9 L238.9,773.9 L240.9,773.9 L242.9,773.9 L244.9,773.9 L246.9,773.9 L248.9,773.9 L249.8,773.9" fill="none" stroke="#4d4d4d" stroke-width="2.7" stroke-linejoin="round" stroke-linecap="butt"/>
<path d="M52.2,773.9 L61.6,773.9 L64.6,877.5 L65.6,875.7 L66.6,874.1 L67.6,872.7 L68.6,871.5 L69.6,870.5 L70.6,869.6 L71.6,868.8 L72.6,868.2 L73.6,867.6 L74.6,867.0 L75.6,866.5 L76.6,866.1 L77.6,865.7 L78.6,865.4 L79.6,865.1 L80.6,864.8 L81.6,864.5 L82.6,864.2 L83.6,864.0 L84.6,863.8 L85.6,863.6 L86.6,863.4 L87.6,863.2 L88.6,863.0 L89.6,862.8 L90.6,862.6 L91.6,862.4 L92.6,862.2 L93.6,862.1 L94.6,861.9 L95.6,861.7 L96.6,861.6 L97.6,861.4 L98.6,861.2 L99.6,861.1 L100.6,860.9 L101.6,860.8 L102.6,860.6 L103.6,860.4 L104.6,860.3 L105.6,860.1 L106.6,860.0 L107.6,859.8 L108.6,859.6 L109.6,859.5 L110.6,859.3 L111.6,859.2 L112.6,859.0 L113.6,858.9 L114.6,858.7 L115.6,858.5 L115.9,858.5 L116.9,852.2 L118.9,841.1 L120.9,831.5 L122.9,823.3 L124.9,816.2 L126.9,810.2 L128.9,805.0 L130.9,800.6 L132.9,796.8 L134.9,793.5 L136.9,790.7 L138.9,788.3 L140.9,786.3 L142.9,784.5 L144.9,783.0 L146.9,781.7 L148.9,780.6 L150.9,779.6 L152.9,778.8 L154.9,778.1 L156.9,777.5 L158.9,777.0 L160.9,776.6 L162.9,776.2 L164.9,775.9 L166.9,775.6 L168.9,775.3 L170.9,775.1 L172.9,775.0 L174.9,774.8 L176.9,774.7 L178.9,774.6 L180.9,774.5 L182.9,774.4 L184.9,774.3 L186.9,774.3 L188.9,774.2 L190.9,774.2 L192.9,774.1 L194.9,774.1 L196.9,774.1 L198.9,774.0 L200.9,774.0 L202.9,774.0 L204.9,774.0 L206.9,774.0 L208.9,774.0 L210.9,774.0 L212.9,773.9 L214.9,773.9 L216.9,773.9 L218.9,773.9 L220.9,773.9 L222.9,773.9 L224.9,773.9 L226.9,773.9 L228.9,773.9 L230.9,773.9 L232.9,773.9 L234.9,773.9 L236.9,773.9 L238.9,773.9 L240.9,773.9 L242.9,773.9 L244.9,773.9 L246.9,773.9 L248.9,773.9 L249.8,773.9" fill="none" stroke="#4d4d4d" stroke-width="2.7" stroke-linejoin="round" stroke-linecap="butt"/>
<path d="M299.0,773.9 L307.3,773.9 L310.3,726.4 L311.3,726.9 L312.3,727.3 L313.3,727.7 L314.3,728.0 L315.3,728.4 L316.3,728.7 L317.3,729.0 L318.3,729.3 L319.3,729.5 L320.3,729.8 L321.3,730.0 L322.3,730.2 L323.3,730.4 L324.3,730.6 L325.3,730.7 L326.3,730.9 L327.3,731.0 L328.3,731.2 L329.3,731.3 L330.3,731.4 L331.3,731.5 L332.3,731.6 L333.3,731.7 L334.3,731.8 L335.3,731.9 L336.3,732.0 L337.3,732.0 L338.3,732.1 L339.3,732.2 L340.3,732.2 L341.3,732.3 L342.3,732.3 L343.3,732.4 L344.3,732.4 L345.3,732.5 L346.3,732.5 L347.3,732.5 L348.3,732.6 L349.3,732.6 L350.3,732.6 L351.3,732.6 L352.3,732.7 L353.3,732.7 L354.3,732.7 L355.3,732.7 L356.3,732.8 L357.3,732.8 L358.3,732.8 L359.3,732.8 L360.3,732.8 L361.3,732.8 L362.1,733.0 L363.1,735.8 L365.1,740.9 L367.1,745.3 L369.1,749.1 L371.1,752.4 L373.1,755.3 L375.1,757.7 L377.1,759.9 L379.1,761.8 L381.1,763.4 L383.1,764.8 L385.1,766.0 L387.1,767.0 L389.1,768.0 L391.1,768.7 L393.1,769.4 L395.1,770.0 L397.1,770.5 L399.1,771.0 L401.1,771.4 L403.1,771.7 L405.1,772.0 L407.1,772.3 L409.1,772.5 L411.1,772.7 L413.1,772.8 L415.1,773.0 L417.1,773.1 L419.1,773.2 L421.1,773.3 L423.1,773.4 L425.1,773.4 L427.1,773.5 L429.1,773.6 L431.1,773.6 L433.1,773.6 L435.1,773.7 L437.1,773.7 L439.1,773.7 L441.1,773.8 L443.1,773.8 L445.1,773.8 L447.1,773.8 L449.1,773.8 L451.1,773.8 L453.1,773.8 L455.1,773.8 L457.1,773.9 L459.1,773.9 L461.1,773.9 L463.1,773.9 L465.1,773.9 L467.1,773.9 L469.1,773.9 L471.1,773.9 L473.1,773.9 L475.1,773.9 L477.1,773.9 L479.1,773.9 L481.1,773.9 L483.1,773.9 L485.1,773.9 L487.1,773.9 L489.1,773.9 L491.1,773.9 L493.1,773.9 L495.1,773.9 L496.0,773.9" fill="none" stroke="#999999" stroke-width="2.7" stroke-linejoin="round" stroke-linecap="butt"/>
<path d="M299.0,773.9 L307.3,773.9 L310.3,743.1 L311.3,743.4 L312.3,743.7 L313.3,743.9 L314.3,744.2 L315.3,744.4 L316.3,744.6 L317.3,744.8 L318.3,745.0 L319.3,745.1 L320.3,745.3 L321.3,745.4 L322.3,745.6 L323.3,745.7 L324.3,745.8 L325.3,745.9 L326.3,746.0 L327.3,746.1 L328.3,746.2 L329.3,746.3 L330.3,746.4 L331.3,746.4 L332.3,746.5 L333.3,746.6 L334.3,746.6 L335.3,746.7 L336.3,746.7 L337.3,746.8 L338.3,746.8 L339.3,746.9 L340.3,746.9 L341.3,746.9 L342.3,747.0 L343.3,747.0 L344.3,747.0 L345.3,747.0 L346.3,747.1 L347.3,747.1 L348.3,747.1 L349.3,747.1 L350.3,747.2 L351.3,747.2 L352.3,747.2 L353.3,747.2 L354.3,747.2 L355.3,747.2 L356.3,747.2 L357.3,747.3 L358.3,747.3 L359.3,747.3 L360.3,747.3 L361.3,747.3 L362.1,747.4 L363.1,749.2 L365.1,752.5 L367.1,755.4 L369.1,757.8 L371.1,760.0 L373.1,761.8 L375.1,763.4 L377.1,764.8 L379.1,766.0 L381.1,767.1 L383.1,768.0 L385.1,768.8 L387.1,769.5 L389.1,770.0 L391.1,770.6 L393.1,771.0 L395.1,771.4 L397.1,771.7 L399.1,772.0 L401.1,772.3 L403.1,772.5 L405.1,772.7 L407.1,772.8 L409.1,773.0 L411.1,773.1 L413.1,773.2 L415.1,773.3 L417.1,773.4 L419.1,773.4 L421.1,773.5 L423.1,773.6 L425.1,773.6 L427.1,773.6 L429.1,773.7 L431.1,773.7 L433.1,773.7 L435.1,773.8 L437.1,773.8 L439.1,773.8 L441.1,773.8 L443.1,773.8 L445.1,773.8 L447.1,773.8 L449.1,773.8 L451.1,773.9 L453.1,773.9 L455.1,773.9 L457.1,773.9 L459.1,773.9 L461.1,773.9 L463.1,773.9 L465.1,773.9 L467.1,773.9 L469.1,773.9 L471.1,773.9 L473.1,773.9 L475.1,773.9 L477.1,773.9 L479.1,773.9 L481.1,773.9 L483.1,773.9 L485.1,773.9 L487.1,773.9 L489.1,773.9 L491.1,773.9 L493.1,773.9 L495.1,773.9 L496.0,773.9" fill="none" stroke="#999999" stroke-width="2.7" stroke-linejoin="round" stroke-linecap="butt"/>
<path d="M299.0,773.9 L307.3,773.9 L310.3,760.0 L311.3,760.2 L312.3,760.3 L313.3,760.5 L314.3,760.6 L315.3,760.8 L316.3,760.9 L317.3,761.0 L318.3,761.1 L319.3,761.2 L320.3,761.3 L321.3,761.4 L322.3,761.4 L323.3,761.5 L324.3,761.6 L325.3,761.6 L326.3,761.7 L327.3,761.8 L328.3,761.8 L329.3,761.9 L330.3,761.9 L331.3,761.9 L332.3,762.0 L333.3,762.0 L334.3,762.0 L335.3,762.1 L336.3,762.1 L337.3,762.1 L338.3,762.2 L339.3,762.2 L340.3,762.2 L341.3,762.2 L342.3,762.2 L343.3,762.3 L344.3,762.3 L345.3,762.3 L346.3,762.3 L347.3,762.3 L348.3,762.3 L349.3,762.3 L350.3,762.4 L351.3,762.4 L352.3,762.4 L353.3,762.4 L354.3,762.4 L355.3,762.4 L356.3,762.4 L357.3,762.4 L358.3,762.4 L359.3,762.4 L360.3,762.4 L361.3,762.4 L362.1,762.5 L363.1,763.3 L365.1,764.7 L367.1,765.9 L369.1,767.0 L371.1,767.9 L373.1,768.7 L375.1,769.4 L377.1,770.0 L379.1,770.5 L381.1,771.0 L383.1,771.4 L385.1,771.7 L387.1,772.0 L389.1,772.2 L391.1,772.5 L393.1,772.7 L395.1,772.8 L397.1,773.0 L399.1,773.1 L401.1,773.2 L403.1,773.3 L405.1,773.4 L407.1,773.4 L409.1,773.5 L411.1,773.6 L413.1,773.6 L415.1,773.6 L417.1,773.7 L419.1,773.7 L421.1,773.7 L423.1,773.8 L425.1,773.8 L427.1,773.8 L429.1,773.8 L431.1,773.8 L433.1,773.8 L435.1,773.8 L437.1,773.8 L439.1,773.9 L441.1,773.9 L443.1,773.9 L445.1,773.9 L447.1,773.9 L449.1,773.9 L451.1,773.9 L453.1,773.9 L455.1,773.9 L457.1,773.9 L459.1,773.9 L461.1,773.9 L463.1,773.9 L465.1,773.9 L467.1,773.9 L469.1,773.9 L471.1,773.9 L473.1,773.9 L475.1,773.9 L477.1,773.9 L479.1,773.9 L481.1,773.9 L483.1,773.9 L485.1,773.9 L487.1,773.9 L489.1,773.9 L491.1,773.9 L493.1,773.9 L495.1,773.9 L496.0,773.9" fill="none" stroke="#999999" stroke-width="2.7" stroke-linejoin="round" stroke-linecap="butt"/>
<path d="M299.0,773.9 L307.3,773.9 L310.3,777.7 L311.3,777.6 L312.3,777.5 L313.3,777.4 L314.3,777.3 L315.3,777.2 L316.3,777.1 L317.3,777.0 L318.3,776.9 L319.3,776.8 L320.3,776.8 L321.3,776.7 L322.3,776.7 L323.3,776.6 L324.3,776.6 L325.3,776.5 L326.3,776.5 L327.3,776.4 L328.3,776.4 L329.3,776.4 L330.3,776.3 L331.3,776.3 L332.3,776.3 L333.3,776.2 L334.3,776.2 L335.3,776.2 L336.3,776.2 L337.3,776.2 L338.3,776.1 L339.3,776.1 L340.3,776.1 L341.3,776.1 L342.3,776.1 L343.3,776.1 L344.3,776.1 L345.3,776.0 L346.3,776.0 L347.3,776.0 L348.3,776.0 L349.3,776.0 L350.3,776.0 L351.3,776.0 L352.3,776.0 L353.3,776.0 L354.3,776.0 L355.3,776.0 L356.3,776.0 L357.3,776.0 L358.3,776.0 L359.3,776.0 L360.3,776.0 L361.3,775.9 L362.1,775.9 L363.1,775.8 L365.1,775.5 L367.1,775.3 L369.1,775.1 L371.1,775.0 L373.1,774.8 L375.1,774.7 L377.1,774.6 L379.1,774.5 L381.1,774.4 L383.1,774.3 L385.1,774.3 L387.1,774.2 L389.1,774.2 L391.1,774.2 L393.1,774.1 L395.1,774.1 L397.1,774.1 L399.1,774.0 L401.1,774.0 L403.1,774.0 L405.1,774.0 L407.1,774.0 L409.1,774.0 L411.1,774.0 L413.1,774.0 L415.1,773.9 L417.1,773.9 L419.1,773.9 L421.1,773.9 L423.1,773.9 L425.1,773.9 L427.1,773.9 L429.1,773.9 L431.1,773.9 L433.1,773.9 L435.1,773.9 L437.1,773.9 L439.1,773.9 L441.1,773.9 L443.1,773.9 L445.1,773.9 L447.1,773.9 L449.1,773.9 L451.1,773.9 L453.1,773.9 L455.1,773.9 L457.1,773.9 L459.1,773.9 L461.1,773.9 L463.1,773.9 L465.1,773.9 L467.1,773.9 L469.1,773.9 L471.1,773.9 L473.1,773.9 L475.1,773.9 L477.1,773.9 L479.1,773.9 L481.1,773.9 L483.1,773.9 L485.1,773.9 L487.1,773.9 L489.1,773.9 L491.1,773.9 L493.1,773.9 L495.1,773.9 L496.0,773.9" fill="none" stroke="#999999" stroke-width="2.7" stroke-linejoin="round" stroke-linecap="butt"/>
<path d="M299.0,773.9 L307.3,773.9 L310.3,794.6 L311.3,794.3 L312.3,794.1 L313.3,793.9 L314.3,793.7 L315.3,793.5 L316.3,793.3 L317.3,793.1 L318.3,792.9 L319.3,792.8 L320.3,792.7 L321.3,792.5 L322.3,792.4 L323.3,792.3 L324.3,792.2 L325.3,792.1 L326.3,792.0 L327.3,791.9 L328.3,791.9 L329.3,791.8 L330.3,791.7 L331.3,791.6 L332.3,791.6 L333.3,791.5 L334.3,791.5 L335.3,791.4 L336.3,791.4 L337.3,791.4 L338.3,791.3 L339.3,791.3 L340.3,791.2 L341.3,791.2 L342.3,791.2 L343.3,791.2 L344.3,791.1 L345.3,791.1 L346.3,791.1 L347.3,791.1 L348.3,791.1 L349.3,791.0 L350.3,791.0 L351.3,791.0 L352.3,791.0 L353.3,791.0 L354.3,791.0 L355.3,791.0 L356.3,790.9 L357.3,790.9 L358.3,790.9 L359.3,790.9 L360.3,790.9 L361.3,790.9 L362.1,790.8 L363.1,789.6 L365.1,787.5 L367.1,785.7 L369.1,784.2 L371.1,782.8 L373.1,781.6 L375.1,780.6 L377.1,779.7 L379.1,778.9 L381.1,778.2 L383.1,777.7 L385.1,777.2 L387.1,776.7 L389.1,776.4 L391.1,776.0 L393.1,775.7 L395.1,775.5 L397.1,775.3 L399.1,775.1 L401.1,774.9 L403.1,774.8 L405.1,774.7 L407.1,774.6 L409.1,774.5 L411.1,774.4 L413.1,774.3 L415.1,774.3 L417.1,774.2 L419.1,774.2 L421.1,774.1 L423.1,774.1 L425.1,774.1 L427.1,774.1 L429.1,774.0 L431.1,774.0 L433.1,774.0 L435.1,774.0 L437.1,774.0 L439.1,774.0 L441.1,774.0 L443.1,774.0 L445.1,773.9 L447.1,773.9 L449.1,773.9 L451.1,773.9 L453.1,773.9 L455.1,773.9 L457.1,773.9 L459.1,773.9 L461.1,773.9 L463.1,773.9 L465.1,773.9 L467.1,773.9 L469.1,773.9 L471.1,773.9 L473.1,773.9 L475.1,773.9 L477.1,773.9 L479.1,773.9 L481.1,773.9 L483.1,773.9 L485.1,773.9 L487.1,773.9 L489.1,773.9 L491.1,773.9 L493.1,773.9 L495.1,773.9 L496.0,773.9" fill="none" stroke="#999999" stroke-width="2.7" stroke-linejoin="round" stroke-linecap="butt"/>
<path d="M299.0,773.9 L307.3,773.9 L310.3,815.6 L311.3,815.0 L312.3,814.5 L313.3,814.0 L314.3,813.5 L315.3,813.1 L316.3,812.7 L317.3,812.3 L318.3,812.0 L319.3,811.7 L320.3,811.4 L321.3,811.1 L322.3,810.8 L323.3,810.6 L324.3,810.4 L325.3,810.1 L326.3,809.9 L327.3,809.8 L328.3,809.6 L329.3,809.4 L330.3,809.3 L331.3,809.2 L332.3,809.0 L333.3,808.9 L334.3,808.8 L335.3,808.7 L336.3,808.6 L337.3,808.5 L338.3,808.4 L339.3,808.3 L340.3,808.3 L341.3,808.2 L342.3,808.1 L343.3,808.1 L344.3,808.0 L345.3,808.0 L346.3,807.9 L347.3,807.9 L348.3,807.8 L349.3,807.8 L350.3,807.8 L351.3,807.7 L352.3,807.7 L353.3,807.7 L354.3,807.7 L355.3,807.6 L356.3,807.6 L357.3,807.6 L358.3,807.6 L359.3,807.6 L360.3,807.5 L361.3,807.5 L362.1,807.3 L363.1,805.0 L365.1,800.9 L367.1,797.3 L369.1,794.2 L371.1,791.5 L373.1,789.1 L375.1,787.1 L377.1,785.3 L379.1,783.8 L381.1,782.5 L383.1,781.4 L385.1,780.4 L387.1,779.5 L389.1,778.8 L391.1,778.1 L393.1,777.5 L395.1,777.1 L397.1,776.6 L399.1,776.3 L401.1,776.0 L403.1,775.7 L405.1,775.4 L407.1,775.2 L409.1,775.1 L411.1,774.9 L413.1,774.8 L415.1,774.7 L417.1,774.6 L419.1,774.5 L421.1,774.4 L423.1,774.3 L425.1,774.3 L427.1,774.2 L429.1,774.2 L431.1,774.1 L433.1,774.1 L435.1,774.1 L437.1,774.1 L439.1,774.0 L441.1,774.0 L443.1,774.0 L445.1,774.0 L447.1,774.0 L449.1,774.0 L451.1,774.0 L453.1,774.0 L455.1,773.9 L457.1,773.9 L459.1,773.9 L461.1,773.9 L463.1,773.9 L465.1,773.9 L467.1,773.9 L469.1,773.9 L471.1,773.9 L473.1,773.9 L475.1,773.9 L477.1,773.9 L479.1,773.9 L481.1,773.9 L483.1,773.9 L485.1,773.9 L487.1,773.9 L489.1,773.9 L491.1,773.9 L493.1,773.9 L495.1,773.9 L496.0,773.9" fill="none" stroke="#999999" stroke-width="2.7" stroke-linejoin="round" stroke-linecap="butt"/>
<path d="M299.0,773.9 L307.3,773.9 L310.3,866.1 L311.3,863.2 L312.3,860.6 L313.3,858.3 L314.3,856.3 L315.3,854.5 L316.3,852.9 L317.3,851.5 L318.3,850.2 L319.3,849.1 L320.3,848.1 L321.3,847.2 L322.3,846.4 L323.3,845.6 L324.3,844.9 L325.3,844.3 L326.3,843.7 L327.3,843.2 L328.3,842.7 L329.3,842.2 L330.3,841.7 L331.3,841.3 L332.3,840.9 L333.3,840.5 L334.3,840.2 L335.3,839.8 L336.3,839.5 L337.3,839.1 L338.3,838.8 L339.3,838.5 L340.3,838.2 L341.3,837.9 L342.3,837.6 L343.3,837.3 L344.3,837.0 L345.3,836.7 L346.3,836.4 L347.3,836.1 L348.3,835.8 L349.3,835.5 L350.3,835.3 L351.3,835.0 L352.3,834.7 L353.3,834.4 L354.3,834.1 L355.3,833.9 L356.3,833.6 L357.3,833.3 L358.3,833.0 L359.3,832.8 L360.3,832.5 L361.3,832.2 L362.1,832.0 L363.1,825.9 L365.1,815.5 L367.1,807.2 L369.1,800.6 L371.1,795.3 L373.1,791.0 L375.1,787.6 L377.1,784.9 L379.1,782.7 L381.1,780.9 L383.1,779.5 L385.1,778.4 L387.1,777.5 L389.1,776.8 L391.1,776.2 L393.1,775.8 L395.1,775.4 L397.1,775.1 L399.1,774.9 L401.1,774.7 L403.1,774.5 L405.1,774.4 L407.1,774.3 L409.1,774.2 L411.1,774.2 L413.1,774.1 L415.1,774.1 L417.1,774.0 L419.1,774.0 L421.1,774.0 L423.1,774.0 L425.1,774.0 L427.1,773.9 L429.1,773.9 L431.1,773.9 L433.1,773.9 L435.1,773.9 L437.1,773.9 L439.1,773.9 L441.1,773.9 L443.1,773.9 L445.1,773.9 L447.1,773.9 L449.1,773.9 L451.1,773.9 L453.1,773.9 L455.1,773.9 L457.1,773.9 L459.1,773.9 L461.1,773.9 L463.1,773.9 L465.1,773.9 L467.1,773.9 L469.1,773.9 L471.1,773.9 L473.1,773.9 L475.1,773.9 L477.1,773.9 L479.1,773.9 L481.1,773.9 L483.1,773.9 L485.1,773.9 L487.1,773.9 L489.1,773.9 L491.1,773.9 L493.1,773.9 L495.1,773.9 L496.0,773.9" fill="none" stroke="#999999" stroke-width="2.7" stroke-linejoin="round" stroke-linecap="butt"/>
<path d="M549.8,773.9 L559.2,773.9 L562.2,722.9 L563.2,724.1 L564.2,725.1 L565.2,726.1 L566.2,727.0 L567.2,727.8 L568.2,728.6 L569.2,729.3 L570.2,729.9 L571.2,730.5 L572.2,731.0 L573.2,731.5 L574.2,732.0 L575.2,732.4 L576.2,732.8 L577.2,733.2 L578.2,733.5 L579.2,733.8 L580.2,734.1 L581.2,734.3 L582.2,734.6 L583.2,734.8 L584.2,735.0 L585.2,735.2 L586.2,735.4 L587.2,735.5 L588.2,735.7 L589.2,735.8 L590.2,735.9 L591.2,736.0 L592.2,736.1 L593.2,736.2 L594.2,736.3 L595.2,736.4 L596.2,736.5 L597.2,736.5 L598.2,736.6 L599.2,736.6 L600.2,736.7 L601.2,736.7 L602.2,736.8 L603.2,736.8 L604.2,736.9 L605.2,736.9 L606.2,736.9 L607.2,737.0 L608.2,737.0 L609.2,737.0 L610.2,737.0 L611.2,737.1 L612.2,737.1 L613.2,737.1 L614.0,737.3 L615.0,742.2 L617.0,750.1 L619.0,756.0 L621.0,760.4 L623.0,763.8 L625.0,766.3 L627.0,768.2 L629.0,769.6 L631.0,770.7 L633.0,771.5 L635.0,772.1 L637.0,772.5 L639.0,772.9 L641.0,773.1 L643.0,773.3 L645.0,773.5 L647.0,773.6 L649.0,773.7 L651.0,773.7 L653.0,773.8 L655.0,773.8 L657.0,773.8 L659.0,773.8 L661.0,773.9 L663.0,773.9 L665.0,773.9 L667.0,773.9 L669.0,773.9 L671.0,773.9 L673.0,773.9 L675.0,773.9 L677.0,773.9 L679.0,773.9 L681.0,773.9 L683.0,773.9 L685.0,773.9 L687.0,773.9 L689.0,773.9 L691.0,773.9 L693.0,773.9 L695.0,773.9 L697.0,773.9 L699.0,773.9 L701.0,773.9 L703.0,773.9 L705.0,773.9 L707.0,773.9 L709.0,773.9 L711.0,773.9 L713.0,773.9 L715.0,773.9 L717.0,773.9 L719.0,773.9 L721.0,773.9 L723.0,773.9 L725.0,773.9 L727.0,773.9 L729.0,773.9 L731.0,773.9 L733.0,773.9 L735.0,773.9 L737.0,773.9 L739.0,773.9 L741.0,773.9 L743.0,773.9 L745.0,773.9 L746.9,773.9" fill="none" stroke="#2f9944" stroke-width="2.9" stroke-linejoin="round" stroke-linecap="butt"/>
<path d="M549.8,773.9 L559.2,773.9 L562.2,741.1 L563.2,741.7 L564.2,742.3 L565.2,742.9 L566.2,743.4 L567.2,743.8 L568.2,744.2 L569.2,744.6 L570.2,745.0 L571.2,745.3 L572.2,745.6 L573.2,745.9 L574.2,746.2 L575.2,746.4 L576.2,746.6 L577.2,746.8 L578.2,747.0 L579.2,747.2 L580.2,747.3 L581.2,747.5 L582.2,747.6 L583.2,747.7 L584.2,747.8 L585.2,747.9 L586.2,748.0 L587.2,748.1 L588.2,748.2 L589.2,748.3 L590.2,748.3 L591.2,748.4 L592.2,748.4 L593.2,748.5 L594.2,748.5 L595.2,748.6 L596.2,748.6 L597.2,748.7 L598.2,748.7 L599.2,748.7 L600.2,748.8 L601.2,748.8 L602.2,748.8 L603.2,748.8 L604.2,748.9 L605.2,748.9 L606.2,748.9 L607.2,748.9 L608.2,748.9 L609.2,748.9 L610.2,749.0 L611.2,749.0 L612.2,749.0 L613.2,749.0 L614.0,749.1 L615.0,752.4 L617.0,757.7 L619.0,761.8 L621.0,764.8 L623.0,767.0 L625.0,768.7 L627.0,770.0 L629.0,771.0 L631.0,771.7 L633.0,772.3 L635.0,772.7 L637.0,773.0 L639.0,773.2 L641.0,773.4 L643.0,773.5 L645.0,773.6 L647.0,773.7 L649.0,773.7 L651.0,773.8 L653.0,773.8 L655.0,773.8 L657.0,773.8 L659.0,773.9 L661.0,773.9 L663.0,773.9 L665.0,773.9 L667.0,773.9 L669.0,773.9 L671.0,773.9 L673.0,773.9 L675.0,773.9 L677.0,773.9 L679.0,773.9 L681.0,773.9 L683.0,773.9 L685.0,773.9 L687.0,773.9 L689.0,773.9 L691.0,773.9 L693.0,773.9 L695.0,773.9 L697.0,773.9 L699.0,773.9 L701.0,773.9 L703.0,773.9 L705.0,773.9 L707.0,773.9 L709.0,773.9 L711.0,773.9 L713.0,773.9 L715.0,773.9 L717.0,773.9 L719.0,773.9 L721.0,773.9 L723.0,773.9 L725.0,773.9 L727.0,773.9 L729.0,773.9 L731.0,773.9 L733.0,773.9 L735.0,773.9 L737.0,773.9 L739.0,773.9 L741.0,773.9 L743.0,773.9 L745.0,773.9 L746.9,773.9" fill="none" stroke="#2f9944" stroke-width="2.9" stroke-linejoin="round" stroke-linecap="butt"/>
<path d="M549.8,773.9 L559.2,773.9 L562.2,758.7 L563.2,759.1 L564.2,759.4 L565.2,759.7 L566.2,760.0 L567.2,760.3 L568.2,760.5 L569.2,760.7 L570.2,760.9 L571.2,761.1 L572.2,761.3 L573.2,761.5 L574.2,761.6 L575.2,761.7 L576.2,761.9 L577.2,762.0 L578.2,762.1 L579.2,762.2 L580.2,762.3 L581.2,762.4 L582.2,762.4 L583.2,762.5 L584.2,762.6 L585.2,762.6 L586.2,762.7 L587.2,762.7 L588.2,762.8 L589.2,762.8 L590.2,762.9 L591.2,762.9 L592.2,762.9 L593.2,763.0 L594.2,763.0 L595.2,763.0 L596.2,763.0 L597.2,763.1 L598.2,763.1 L599.2,763.1 L600.2,763.1 L601.2,763.1 L602.2,763.1 L603.2,763.1 L604.2,763.2 L605.2,763.2 L606.2,763.2 L607.2,763.2 L608.2,763.2 L609.2,763.2 L610.2,763.2 L611.2,763.2 L612.2,763.2 L613.2,763.2 L614.0,763.3 L615.0,764.7 L617.0,767.0 L619.0,768.7 L621.0,770.0 L623.0,771.0 L625.0,771.7 L627.0,772.2 L629.0,772.7 L631.0,773.0 L633.0,773.2 L635.0,773.4 L637.0,773.5 L639.0,773.6 L641.0,773.7 L643.0,773.7 L645.0,773.8 L647.0,773.8 L649.0,773.8 L651.0,773.8 L653.0,773.9 L655.0,773.9 L657.0,773.9 L659.0,773.9 L661.0,773.9 L663.0,773.9 L665.0,773.9 L667.0,773.9 L669.0,773.9 L671.0,773.9 L673.0,773.9 L675.0,773.9 L677.0,773.9 L679.0,773.9 L681.0,773.9 L683.0,773.9 L685.0,773.9 L687.0,773.9 L689.0,773.9 L691.0,773.9 L693.0,773.9 L695.0,773.9 L697.0,773.9 L699.0,773.9 L701.0,773.9 L703.0,773.9 L705.0,773.9 L707.0,773.9 L709.0,773.9 L711.0,773.9 L713.0,773.9 L715.0,773.9 L717.0,773.9 L719.0,773.9 L721.0,773.9 L723.0,773.9 L725.0,773.9 L727.0,773.9 L729.0,773.9 L731.0,773.9 L733.0,773.9 L735.0,773.9 L737.0,773.9 L739.0,773.9 L741.0,773.9 L743.0,773.9 L745.0,773.9 L746.9,773.9" fill="none" stroke="#2f9944" stroke-width="2.9" stroke-linejoin="round" stroke-linecap="butt"/>
<path d="M549.8,773.9 L559.2,773.9 L562.2,782.7 L563.2,782.4 L564.2,782.1 L565.2,781.9 L566.2,781.6 L567.2,781.4 L568.2,781.2 L569.2,781.0 L570.2,780.9 L571.2,780.7 L572.2,780.6 L573.2,780.4 L574.2,780.3 L575.2,780.2 L576.2,780.1 L577.2,780.0 L578.2,779.9 L579.2,779.8 L580.2,779.7 L581.2,779.7 L582.2,779.6 L583.2,779.6 L584.2,779.5 L585.2,779.5 L586.2,779.4 L587.2,779.4 L588.2,779.3 L589.2,779.3 L590.2,779.3 L591.2,779.2 L592.2,779.2 L593.2,779.2 L594.2,779.2 L595.2,779.1 L596.2,779.1 L597.2,779.1 L598.2,779.1 L599.2,779.1 L600.2,779.1 L601.2,779.0 L602.2,779.0 L603.2,779.0 L604.2,779.0 L605.2,779.0 L606.2,779.0 L607.2,779.0 L608.2,779.0 L609.2,779.0 L610.2,779.0 L611.2,779.0 L612.2,779.0 L613.2,779.0 L614.0,778.9 L615.0,778.1 L617.0,776.9 L619.0,776.1 L621.0,775.5 L623.0,775.0 L625.0,774.7 L627.0,774.5 L629.0,774.3 L631.0,774.2 L633.0,774.1 L635.0,774.1 L637.0,774.0 L639.0,774.0 L641.0,774.0 L643.0,773.9 L645.0,773.9 L647.0,773.9 L649.0,773.9 L651.0,773.9 L653.0,773.9 L655.0,773.9 L657.0,773.9 L659.0,773.9 L661.0,773.9 L663.0,773.9 L665.0,773.9 L667.0,773.9 L669.0,773.9 L671.0,773.9 L673.0,773.9 L675.0,773.9 L677.0,773.9 L679.0,773.9 L681.0,773.9 L683.0,773.9 L685.0,773.9 L687.0,773.9 L689.0,773.9 L691.0,773.9 L693.0,773.9 L695.0,773.9 L697.0,773.9 L699.0,773.9 L701.0,773.9 L703.0,773.9 L705.0,773.9 L707.0,773.9 L709.0,773.9 L711.0,773.9 L713.0,773.9 L715.0,773.9 L717.0,773.9 L719.0,773.9 L721.0,773.9 L723.0,773.9 L725.0,773.9 L727.0,773.9 L729.0,773.9 L731.0,773.9 L733.0,773.9 L735.0,773.9 L737.0,773.9 L739.0,773.9 L741.0,773.9 L743.0,773.9 L745.0,773.9 L746.9,773.9" fill="none" stroke="#2f9944" stroke-width="2.9" stroke-linejoin="round" stroke-linecap="butt"/>
<path d="M549.8,773.9 L559.2,773.9 L562.2,816.9 L563.2,816.1 L564.2,815.4 L565.2,814.8 L566.2,814.2 L567.2,813.6 L568.2,813.1 L569.2,812.7 L570.2,812.2 L571.2,811.8 L572.2,811.5 L573.2,811.1 L574.2,810.8 L575.2,810.5 L576.2,810.3 L577.2,810.1 L578.2,809.8 L579.2,809.6 L580.2,809.4 L581.2,809.3 L582.2,809.1 L583.2,809.0 L584.2,808.8 L585.2,808.7 L586.2,808.6 L587.2,808.5 L588.2,808.4 L589.2,808.3 L590.2,808.2 L591.2,808.2 L592.2,808.1 L593.2,808.0 L594.2,808.0 L595.2,807.9 L596.2,807.9 L597.2,807.8 L598.2,807.8 L599.2,807.7 L600.2,807.7 L601.2,807.7 L602.2,807.6 L603.2,807.6 L604.2,807.6 L605.2,807.6 L606.2,807.5 L607.2,807.5 L608.2,807.5 L609.2,807.5 L610.2,807.5 L611.2,807.5 L612.2,807.4 L613.2,807.4 L614.0,807.3 L615.0,802.0 L617.0,794.0 L619.0,788.6 L621.0,785.0 L623.0,782.5 L625.0,780.8 L627.0,779.7 L629.0,778.9 L631.0,778.3 L633.0,777.9 L635.0,777.6 L637.0,777.3 L639.0,777.1 L641.0,777.0 L643.0,776.9 L645.0,776.7 L647.0,776.6 L649.0,776.6 L651.0,776.5 L653.0,776.4 L655.0,776.3 L657.0,776.3 L659.0,776.2 L661.0,776.1 L663.0,776.1 L665.0,776.0 L667.0,775.9 L669.0,775.9 L671.0,775.8 L673.0,775.8 L675.0,775.7 L677.0,775.7 L679.0,775.6 L681.0,775.6 L683.0,775.5 L685.0,775.5 L687.0,775.4 L689.0,775.4 L691.0,775.3 L693.0,775.3 L695.0,775.3 L697.0,775.2 L699.0,775.2 L701.0,775.2 L703.0,775.1 L705.0,775.1 L707.0,775.1 L709.0,775.0 L711.0,775.0 L713.0,775.0 L715.0,774.9 L717.0,774.9 L719.0,774.9 L721.0,774.8 L723.0,774.8 L725.0,774.8 L727.0,774.8 L729.0,774.7 L731.0,774.7 L733.0,774.7 L735.0,774.7 L737.0,774.6 L739.0,774.6 L741.0,774.6 L743.0,774.6 L745.0,774.6 L746.9,774.6" fill="none" stroke="#2f9944" stroke-width="2.9" stroke-linejoin="round" stroke-linecap="butt"/>
<path d="M549.8,773.9 L559.2,773.9 L562.2,873.7 L563.2,872.2 L564.2,870.8 L565.2,869.5 L566.2,868.3 L567.2,867.3 L568.2,866.3 L569.2,865.3 L570.2,864.5 L571.2,863.7 L572.2,863.0 L573.2,862.4 L574.2,861.8 L575.2,861.2 L576.2,860.7 L577.2,860.2 L578.2,859.8 L579.2,859.4 L580.2,859.0 L581.2,858.7 L582.2,858.4 L583.2,858.1 L584.2,857.8 L585.2,857.6 L586.2,857.4 L587.2,857.2 L588.2,857.0 L589.2,856.8 L590.2,856.6 L591.2,856.5 L592.2,856.4 L593.2,856.2 L594.2,856.1 L595.2,856.0 L596.2,855.9 L597.2,855.8 L598.2,855.7 L599.2,855.7 L600.2,855.6 L601.2,855.5 L602.2,855.5 L603.2,855.4 L604.2,855.4 L605.2,855.3 L606.2,855.3 L607.2,855.2 L608.2,855.2 L609.2,855.2 L610.2,855.1 L611.2,855.1 L612.2,855.1 L613.2,855.1 L614.0,854.8 L615.0,842.2 L617.0,823.3 L619.0,810.6 L621.0,802.0 L623.0,796.1 L625.0,792.1 L627.0,789.3 L629.0,787.4 L631.0,786.0 L633.0,785.0 L635.0,784.3 L637.0,783.7 L639.0,783.2 L641.0,782.9 L643.0,782.6 L645.0,782.3 L647.0,782.0 L649.0,781.8 L651.0,781.6 L653.0,781.4 L655.0,781.2 L657.0,781.0 L659.0,780.8 L661.0,780.6 L663.0,780.5 L665.0,780.3 L667.0,780.2 L669.0,780.0 L671.0,779.9 L673.0,779.7 L675.0,779.6 L677.0,779.4 L679.0,779.3 L681.0,779.2 L683.0,779.0 L685.0,778.9 L687.0,778.8 L689.0,778.7 L691.0,778.5 L693.0,778.4 L695.0,778.3 L697.0,778.2 L699.0,778.1 L701.0,778.0 L703.0,777.9 L705.0,777.8 L707.0,777.7 L709.0,777.6 L711.0,777.5 L713.0,777.4 L715.0,777.3 L717.0,777.2 L719.0,777.2 L721.0,777.1 L723.0,777.0 L725.0,776.9 L727.0,776.9 L729.0,776.8 L731.0,776.7 L733.0,776.6 L735.0,776.6 L737.0,776.5 L739.0,776.4 L741.0,776.4 L743.0,776.3 L745.0,776.3 L746.9,776.2" fill="none" stroke="#2f9944" stroke-width="2.9" stroke-linejoin="round" stroke-linecap="butt"/>
<path d="M549.8,773.9 L559.2,773.9 L562.2,997.5 L563.2,992.2 L564.2,987.5 L565.2,983.3 L566.2,979.6 L567.2,976.4 L568.2,973.5 L569.2,970.9 L570.2,968.6 L571.2,966.5 L572.2,964.6 L573.2,962.8 L574.2,961.3 L575.2,959.8 L576.2,958.5 L577.2,957.3 L578.2,956.2 L579.2,955.1 L580.2,954.1 L581.2,953.2 L582.2,952.3 L583.2,951.4 L584.2,950.6 L585.2,949.8 L586.2,949.1 L587.2,948.3 L588.2,947.6 L589.2,946.9 L590.2,946.2 L591.2,945.6 L592.2,944.9 L593.2,944.3 L594.2,943.6 L595.2,943.0 L596.2,942.4 L597.2,941.8 L598.2,941.2 L599.2,940.6 L600.2,939.9 L601.2,939.3 L602.2,938.8 L603.2,938.2 L604.2,937.6 L605.2,937.0 L606.2,936.4 L607.2,935.8 L608.2,935.2 L609.2,934.6 L610.2,934.0 L611.2,933.5 L612.2,932.9 L613.2,932.3 L614.0,931.8 L615.0,906.9 L617.0,869.7 L619.0,844.6 L621.0,827.6 L623.0,816.1 L625.0,808.2 L627.0,802.8 L629.0,799.0 L631.0,796.3 L633.0,794.4 L635.0,792.9 L637.0,791.8 L639.0,791.0 L641.0,790.3 L643.0,789.7 L645.0,789.2 L647.0,788.7 L649.0,788.3 L651.0,787.9 L653.0,787.5 L655.0,787.2 L657.0,786.8 L659.0,786.5 L661.0,786.2 L663.0,785.9 L665.0,785.6 L667.0,785.3 L669.0,785.0 L671.0,784.7 L673.0,784.5 L675.0,784.2 L677.0,784.0 L679.0,783.7 L681.0,783.5 L683.0,783.2 L685.0,783.0 L687.0,782.8 L689.0,782.6 L691.0,782.3 L693.0,782.1 L695.0,781.9 L697.0,781.7 L699.0,781.5 L701.0,781.4 L703.0,781.2 L705.0,781.0 L707.0,780.8 L709.0,780.6 L711.0,780.5 L713.0,780.3 L715.0,780.2 L717.0,780.0 L719.0,779.8 L721.0,779.7 L723.0,779.6 L725.0,779.4 L727.0,779.3 L729.0,779.2 L731.0,779.0 L733.0,778.9 L735.0,778.8 L737.0,778.7 L739.0,778.5 L741.0,778.4 L743.0,778.3 L745.0,778.2 L746.9,778.1" fill="none" stroke="#2f9944" stroke-width="2.9" stroke-linejoin="round" stroke-linecap="butt"/>
<path d="M199.8,791.5 V863 H253" fill="none" stroke="#000" stroke-width="3"/>
<text x="147" y="834.5" font-size="26" fill="#000" word-spacing="-3">1 nA</text>
<text x="201.5" y="885.5" font-size="26" fill="#000" word-spacing="-3.5">0.5 s</text>
<rect x="332.6" y="872" width="18.6" height="8.6" fill="#4d4d4d"/>
<rect x="354.8" y="872" width="18.6" height="8.6" fill="#999999"/>
<rect x="376.2" y="872" width="18.6" height="8.6" fill="#2f9944"/>
<rect x="334.3" y="939" width="18.6" height="8.6" fill="#4d4d4d"/>
<rect x="356.3" y="939" width="18.6" height="8.6" fill="#999999"/>
<rect x="378" y="939" width="18.6" height="8.6" fill="#2f9944"/>
<text x="403" y="884.5" font-size="26" fill="#000">40 mV</text>
<text x="403" y="948.7" font-size="26" fill="#000">-80 mV</text>
<path d="M403,918 V898.5 M397.5,905 L403,898 L408.5,905" fill="none" stroke="#000" stroke-width="1.6"/>
<text x="424" y="917.5" font-size="26" fill="#000"><tspan font-family="Liberation Serif, serif">Δ</tspan> +20 mV</text>
<text x="52" y="948.3" font-size="25.5" fill="#1a1a1a">110 mM [NaCl]<tspan font-size="15.6" dy="8.58">i</tspan></text>
<text x="96" y="978" font-size="26" fill="#1a1a1a">pH<tspan font-size="15.6" dy="8.58">i</tspan><tspan dy="-8.6" font-size="26" dx="1">7.2</tspan></text>
<path d="M78,974.8 L71.7,1016.5 Q73,1021 77,1018.8 L109.6,986.7" fill="none" stroke="#555" stroke-width="3.8" stroke-linejoin="round"/>
<text x="50" y="1112.6" font-size="46" class="b" fill="#000">H</text>
<text x="103.5" y="1098.5" font-size="26" class="b" fill="#f39a35">CapChR2</text>
<text x="104.5" y="1130.5" font-size="26.5" class="b" fill="#000"><tspan class="i">Co</tspan>ChR S43D L112C T139C N238E</text>
<text x="101.5" y="1204.3" font-size="26" fill="#1a1a1a">high [NaCl]<tspan font-size="15.6" dy="8.58">e</tspan></text>
<text x="333" y="1204.3" font-size="26" fill="#1a1a1a">high [NMGCl]<tspan font-size="15.6" dy="8.58">e</tspan></text>
<text x="590" y="1204.3" font-size="26" fill="#1a1a1a">high [CaCl<tspan font-size="15.6" dy="8.58">2</tspan><tspan dy="-8.6">]</tspan><tspan font-size="15.6" dy="8.58">e</tspan></text>
<rect x="80.3" y="1226" width="25.7" height="6.4" fill="#29abe2"/>
<rect x="324.2" y="1226" width="25.8" height="6.4" fill="#29abe2"/>
<rect x="573.3" y="1226" width="25.7" height="6.4" fill="#29abe2"/>
<path d="M286,1259.5 H322 M530,1260 H567" stroke="#bdbdbd" stroke-width="1.1" stroke-dasharray="2 2.6" fill="none"/>
<path d="M78.8,1258.9 L82.1,1258.9 L84.1,1239.5 L85.1,1239.5 L86.1,1239.5 L87.1,1239.5 L88.1,1239.5 L89.1,1239.5 L90.1,1239.5 L91.1,1239.5 L92.1,1239.5 L93.1,1239.5 L94.1,1239.5 L95.1,1239.5 L96.1,1239.5 L97.1,1239.5 L98.1,1239.5 L99.1,1239.5 L100.1,1239.5 L101.1,1239.5 L102.1,1239.5 L103.1,1239.5 L104.1,1239.5 L105.1,1239.5 L105.9,1239.5 L106.9,1242.5 L108.9,1247.1 L110.9,1250.5 L112.9,1252.9 L114.9,1254.6 L116.9,1255.8 L118.9,1256.7 L120.9,1257.3 L122.9,1257.8 L124.9,1258.1 L126.9,1258.3 L128.9,1258.5 L130.9,1258.6 L132.9,1258.7 L134.9,1258.7 L136.9,1258.8 L138.9,1258.8 L140.9,1258.8 L142.9,1258.9 L144.9,1258.9 L146.9,1258.9 L148.9,1258.9 L150.9,1258.9 L152.9,1258.9 L154.9,1258.9 L156.9,1258.9 L158.9,1258.9 L160.9,1258.9 L162.9,1258.9 L164.9,1258.9 L166.9,1258.9 L168.9,1258.9 L170.9,1258.9 L172.9,1258.9 L174.9,1258.9 L176.9,1258.9 L178.9,1258.9 L180.9,1258.9 L182.9,1258.9 L184.9,1258.9 L186.9,1258.9 L188.9,1258.9 L190.9,1258.9 L192.9,1258.9 L194.9,1258.9 L196.9,1258.9 L198.9,1258.9 L200.9,1258.9 L202.9,1258.9 L204.9,1258.9 L206.9,1258.9 L208.9,1258.9 L210.9,1258.9 L212.9,1258.9 L214.9,1258.9 L216.9,1258.9 L218.9,1258.9 L220.9,1258.9 L222.9,1258.9 L224.9,1258.9 L226.9,1258.9 L228.9,1258.9 L230.9,1258.9 L232.9,1258.9 L234.9,1258.9 L236.9,1258.9 L238.9,1258.9 L240.9,1258.9 L242.9,1258.9 L244.9,1258.9 L246.9,1258.9 L248.9,1258.9 L250.9,1258.9 L252.9,1258.9 L254.9,1258.9 L256.9,1258.9 L258.9,1258.9 L260.9,1258.9 L262.9,1258.9 L264.9,1258.9 L266.9,1258.9 L268.9,1258.9 L270.9,1258.9 L272.9,1258.9 L274.9,1258.9 L276.9,1258.9 L278.9,1258.9 L280.9,1258.9 L282.9,1258.9 L284.4,1258.9" fill="none" stroke="#4d4d4d" stroke-width="2.7" stroke-linejoin="round" stroke-linecap="butt"/>
<path d="M78.8,1258.9 L82.1,1258.9 L84.1,1247.0 L85.1,1247.0 L86.1,1247.0 L87.1,1247.0 L88.1,1247.0 L89.1,1247.0 L90.1,1247.0 L91.1,1247.0 L92.1,1247.0 L93.1,1247.0 L94.1,1247.0 L95.1,1247.0 L96.1,1247.0 L97.1,1247.0 L98.1,1247.0 L99.1,1247.0 L100.1,1247.0 L101.1,1247.0 L102.1,1247.0 L103.1,1247.0 L104.1,1247.0 L105.1,1247.0 L105.9,1247.0 L106.9,1248.8 L108.9,1251.7 L110.9,1253.7 L112.9,1255.2 L114.9,1256.2 L116.9,1257.0 L118.9,1257.5 L120.9,1257.9 L122.9,1258.2 L124.9,1258.4 L126.9,1258.5 L128.9,1258.6 L130.9,1258.7 L132.9,1258.8 L134.9,1258.8 L136.9,1258.8 L138.9,1258.9 L140.9,1258.9 L142.9,1258.9 L144.9,1258.9 L146.9,1258.9 L148.9,1258.9 L150.9,1258.9 L152.9,1258.9 L154.9,1258.9 L156.9,1258.9 L158.9,1258.9 L160.9,1258.9 L162.9,1258.9 L164.9,1258.9 L166.9,1258.9 L168.9,1258.9 L170.9,1258.9 L172.9,1258.9 L174.9,1258.9 L176.9,1258.9 L178.9,1258.9 L180.9,1258.9 L182.9,1258.9 L184.9,1258.9 L186.9,1258.9 L188.9,1258.9 L190.9,1258.9 L192.9,1258.9 L194.9,1258.9 L196.9,1258.9 L198.9,1258.9 L200.9,1258.9 L202.9,1258.9 L204.9,1258.9 L206.9,1258.9 L208.9,1258.9 L210.9,1258.9 L212.9,1258.9 L214.9,1258.9 L216.9,1258.9 L218.9,1258.9 L220.9,1258.9 L222.9,1258.9 L224.9,1258.9 L226.9,1258.9 L228.9,1258.9 L230.9,1258.9 L232.9,1258.9 L234.9,1258.9 L236.9,1258.9 L238.9,1258.9 L240.9,1258.9 L242.9,1258.9 L244.9,1258.9 L246.9,1258.9 L248.9,1258.9 L250.9,1258.9 L252.9,1258.9 L254.9,1258.9 L256.9,1258.9 L258.9,1258.9 L260.9,1258.9 L262.9,1258.9 L264.9,1258.9 L266.9,1258.9 L268.9,1258.9 L270.9,1258.9 L272.9,1258.9 L274.9,1258.9 L276.9,1258.9 L278.9,1258.9 L280.9,1258.9 L282.9,1258.9 L284.4,1258.9" fill="none" stroke="#4d4d4d" stroke-width="2.7" stroke-linejoin="round" stroke-linecap="butt"/>
<path d="M78.8,1258.9 L82.1,1258.9 L84.1,1253.4 L85.1,1253.4 L86.1,1253.4 L87.1,1253.4 L88.1,1253.4 L89.1,1253.4 L90.1,1253.4 L91.1,1253.4 L92.1,1253.4 L93.1,1253.4 L94.1,1253.4 L95.1,1253.4 L96.1,1253.4 L97.1,1253.4 L98.1,1253.4 L99.1,1253.4 L100.1,1253.4 L101.1,1253.4 L102.1,1253.4 L103.1,1253.4 L104.1,1253.4 L105.1,1253.4 L105.9,1253.4 L106.9,1254.2 L108.9,1255.6 L110.9,1256.5 L112.9,1257.2 L114.9,1257.7 L116.9,1258.0 L118.9,1258.3 L120.9,1258.4 L122.9,1258.6 L124.9,1258.7 L126.9,1258.7 L128.9,1258.8 L130.9,1258.8 L132.9,1258.8 L134.9,1258.9 L136.9,1258.9 L138.9,1258.9 L140.9,1258.9 L142.9,1258.9 L144.9,1258.9 L146.9,1258.9 L148.9,1258.9 L150.9,1258.9 L152.9,1258.9 L154.9,1258.9 L156.9,1258.9 L158.9,1258.9 L160.9,1258.9 L162.9,1258.9 L164.9,1258.9 L166.9,1258.9 L168.9,1258.9 L170.9,1258.9 L172.9,1258.9 L174.9,1258.9 L176.9,1258.9 L178.9,1258.9 L180.9,1258.9 L182.9,1258.9 L184.9,1258.9 L186.9,1258.9 L188.9,1258.9 L190.9,1258.9 L192.9,1258.9 L194.9,1258.9 L196.9,1258.9 L198.9,1258.9 L200.9,1258.9 L202.9,1258.9 L204.9,1258.9 L206.9,1258.9 L208.9,1258.9 L210.9,1258.9 L212.9,1258.9 L214.9,1258.9 L216.9,1258.9 L218.9,1258.9 L220.9,1258.9 L222.9,1258.9 L224.9,1258.9 L226.9,1258.9 L228.9,1258.9 L230.9,1258.9 L232.9,1258.9 L234.9,1258.9 L236.9,1258.9 L238.9,1258.9 L240.9,1258.9 L242.9,1258.9 L244.9,1258.9 L246.9,1258.9 L248.9,1258.9 L250.9,1258.9 L252.9,1258.9 L254.9,1258.9 L256.9,1258.9 L258.9,1258.9 L260.9,1258.9 L262.9,1258.9 L264.9,1258.9 L266.9,1258.9 L268.9,1258.9 L270.9,1258.9 L272.9,1258.9 L274.9,1258.9 L276.9,1258.9 L278.9,1258.9 L280.9,1258.9 L282.9,1258.9 L284.4,1258.9" fill="none" stroke="#4d4d4d" stroke-width="2.7" stroke-linejoin="round" stroke-linecap="butt"/>
<path d="M78.8,1258.9 L82.1,1258.9 L84.1,1262.9 L85.1,1263.1 L86.1,1263.3 L87.1,1263.5 L88.1,1263.6 L89.1,1263.7 L90.1,1263.8 L91.1,1263.9 L92.1,1263.9 L93.1,1264.0 L94.1,1264.0 L95.1,1264.1 L96.1,1264.1 L97.1,1264.1 L98.1,1264.1 L99.1,1264.1 L100.1,1264.1 L101.1,1264.2 L102.1,1264.2 L103.1,1264.2 L104.1,1264.2 L105.1,1264.2 L105.9,1264.2 L106.9,1263.6 L108.9,1262.6 L110.9,1261.9 L112.9,1261.4 L114.9,1261.0 L116.9,1260.7 L118.9,1260.5 L120.9,1260.3 L122.9,1260.2 L124.9,1260.0 L126.9,1260.0 L128.9,1259.9 L130.9,1259.8 L132.9,1259.8 L134.9,1259.7 L136.9,1259.7 L138.9,1259.6 L140.9,1259.6 L142.9,1259.5 L144.9,1259.5 L146.9,1259.5 L148.9,1259.4 L150.9,1259.4 L152.9,1259.4 L154.9,1259.4 L156.9,1259.3 L158.9,1259.3 L160.9,1259.3 L162.9,1259.3 L164.9,1259.3 L166.9,1259.2 L168.9,1259.2 L170.9,1259.2 L172.9,1259.2 L174.9,1259.2 L176.9,1259.2 L178.9,1259.2 L180.9,1259.1 L182.9,1259.1 L184.9,1259.1 L186.9,1259.1 L188.9,1259.1 L190.9,1259.1 L192.9,1259.1 L194.9,1259.1 L196.9,1259.1 L198.9,1259.1 L200.9,1259.0 L202.9,1259.0 L204.9,1259.0 L206.9,1259.0 L208.9,1259.0 L210.9,1259.0 L212.9,1259.0 L214.9,1259.0 L216.9,1259.0 L218.9,1259.0 L220.9,1259.0 L222.9,1259.0 L224.9,1259.0 L226.9,1259.0 L228.9,1259.0 L230.9,1259.0 L232.9,1259.0 L234.9,1259.0 L236.9,1259.0 L238.9,1259.0 L240.9,1259.0 L242.9,1259.0 L244.9,1258.9 L246.9,1258.9 L248.9,1258.9 L250.9,1258.9 L252.9,1258.9 L254.9,1258.9 L256.9,1258.9 L258.9,1258.9 L260.9,1258.9 L262.9,1258.9 L264.9,1258.9 L266.9,1258.9 L268.9,1258.9 L270.9,1258.9 L272.9,1258.9 L274.9,1258.9 L276.9,1258.9 L278.9,1258.9 L280.9,1258.9 L282.9,1258.9 L284.4,1258.9" fill="none" stroke="#4d4d4d" stroke-width="2.7" stroke-linejoin="round" stroke-linecap="butt"/>
<path d="M78.8,1258.9 L82.1,1258.9 L84.1,1268.2 L85.1,1268.6 L86.1,1268.9 L87.1,1269.1 L88.1,1269.3 L89.1,1269.5 L90.1,1269.6 L91.1,1269.7 L92.1,1269.8 L93.1,1269.9 L94.1,1269.9 L95.1,1270.0 L96.1,1270.0 L97.1,1270.1 L98.1,1270.1 L99.1,1270.1 L100.1,1270.1 L101.1,1270.1 L102.1,1270.1 L103.1,1270.2 L104.1,1270.2 L105.1,1270.2 L105.9,1270.2 L106.9,1269.0 L108.9,1267.2 L110.9,1265.8 L112.9,1264.8 L114.9,1264.0 L116.9,1263.4 L118.9,1262.9 L120.9,1262.6 L122.9,1262.3 L124.9,1262.0 L126.9,1261.8 L128.9,1261.6 L130.9,1261.4 L132.9,1261.3 L134.9,1261.1 L136.9,1261.0 L138.9,1260.9 L140.9,1260.8 L142.9,1260.7 L144.9,1260.6 L146.9,1260.5 L148.9,1260.4 L150.9,1260.4 L152.9,1260.3 L154.9,1260.2 L156.9,1260.2 L158.9,1260.1 L160.9,1260.0 L162.9,1260.0 L164.9,1259.9 L166.9,1259.9 L168.9,1259.8 L170.9,1259.8 L172.9,1259.7 L174.9,1259.7 L176.9,1259.7 L178.9,1259.6 L180.9,1259.6 L182.9,1259.6 L184.9,1259.5 L186.9,1259.5 L188.9,1259.5 L190.9,1259.4 L192.9,1259.4 L194.9,1259.4 L196.9,1259.4 L198.9,1259.3 L200.9,1259.3 L202.9,1259.3 L204.9,1259.3 L206.9,1259.3 L208.9,1259.2 L210.9,1259.2 L212.9,1259.2 L214.9,1259.2 L216.9,1259.2 L218.9,1259.2 L220.9,1259.2 L222.9,1259.1 L224.9,1259.1 L226.9,1259.1 L228.9,1259.1 L230.9,1259.1 L232.9,1259.1 L234.9,1259.1 L236.9,1259.1 L238.9,1259.1 L240.9,1259.1 L242.9,1259.0 L244.9,1259.0 L246.9,1259.0 L248.9,1259.0 L250.9,1259.0 L252.9,1259.0 L254.9,1259.0 L256.9,1259.0 L258.9,1259.0 L260.9,1259.0 L262.9,1259.0 L264.9,1259.0 L266.9,1259.0 L268.9,1259.0 L270.9,1259.0 L272.9,1259.0 L274.9,1259.0 L276.9,1259.0 L278.9,1259.0 L280.9,1259.0 L282.9,1259.0 L284.4,1259.0" fill="none" stroke="#4d4d4d" stroke-width="2.7" stroke-linejoin="round" stroke-linecap="butt"/>
<path d="M78.8,1258.9 L82.1,1258.9 L84.1,1283.9 L85.1,1284.4 L86.1,1284.9 L87.1,1285.3 L88.1,1285.6 L89.1,1285.8 L90.1,1286.0 L91.1,1286.2 L92.1,1286.3 L93.1,1286.4 L94.1,1286.5 L95.1,1286.6 L96.1,1286.6 L97.1,1286.7 L98.1,1286.7 L99.1,1286.8 L100.1,1286.8 L101.1,1286.8 L102.1,1286.8 L103.1,1286.8 L104.1,1286.8 L105.1,1286.9 L105.9,1286.9 L106.9,1284.0 L108.9,1279.5 L110.9,1276.1 L112.9,1273.5 L114.9,1271.6 L116.9,1270.1 L118.9,1268.9 L120.9,1268.0 L122.9,1267.2 L124.9,1266.6 L126.9,1266.0 L128.9,1265.6 L130.9,1265.2 L132.9,1264.8 L134.9,1264.5 L136.9,1264.2 L138.9,1263.9 L140.9,1263.6 L142.9,1263.4 L144.9,1263.1 L146.9,1262.9 L148.9,1262.7 L150.9,1262.5 L152.9,1262.4 L154.9,1262.2 L156.9,1262.0 L158.9,1261.9 L160.9,1261.7 L162.9,1261.6 L164.9,1261.5 L166.9,1261.3 L168.9,1261.2 L170.9,1261.1 L172.9,1261.0 L174.9,1260.9 L176.9,1260.8 L178.9,1260.7 L180.9,1260.6 L182.9,1260.5 L184.9,1260.5 L186.9,1260.4 L188.9,1260.3 L190.9,1260.2 L192.9,1260.2 L194.9,1260.1 L196.9,1260.1 L198.9,1260.0 L200.9,1259.9 L202.9,1259.9 L204.9,1259.8 L206.9,1259.8 L208.9,1259.8 L210.9,1259.7 L212.9,1259.7 L214.9,1259.6 L216.9,1259.6 L218.9,1259.6 L220.9,1259.5 L222.9,1259.5 L224.9,1259.5 L226.9,1259.4 L228.9,1259.4 L230.9,1259.4 L232.9,1259.4 L234.9,1259.3 L236.9,1259.3 L238.9,1259.3 L240.9,1259.3 L242.9,1259.3 L244.9,1259.2 L246.9,1259.2 L248.9,1259.2 L250.9,1259.2 L252.9,1259.2 L254.9,1259.2 L256.9,1259.2 L258.9,1259.1 L260.9,1259.1 L262.9,1259.1 L264.9,1259.1 L266.9,1259.1 L268.9,1259.1 L270.9,1259.1 L272.9,1259.1 L274.9,1259.1 L276.9,1259.1 L278.9,1259.0 L280.9,1259.0 L282.9,1259.0 L284.4,1259.0" fill="none" stroke="#4d4d4d" stroke-width="2.7" stroke-linejoin="round" stroke-linecap="butt"/>
<path d="M78.8,1258.9 L82.1,1258.9 L84.1,1309.7 L85.1,1310.6 L86.1,1311.3 L87.1,1312.0 L88.1,1312.5 L89.1,1312.9 L90.1,1313.2 L91.1,1313.5 L92.1,1313.7 L93.1,1313.9 L94.1,1314.0 L95.1,1314.1 L96.1,1314.2 L97.1,1314.3 L98.1,1314.4 L99.1,1314.5 L100.1,1314.5 L101.1,1314.5 L102.1,1314.6 L103.1,1314.6 L104.1,1314.6 L105.1,1314.6 L105.9,1314.7 L106.9,1309.0 L108.9,1300.0 L110.9,1293.3 L112.9,1288.2 L114.9,1284.4 L116.9,1281.4 L118.9,1279.1 L120.9,1277.3 L122.9,1275.8 L124.9,1274.5 L126.9,1273.4 L128.9,1272.5 L130.9,1271.7 L132.9,1271.0 L134.9,1270.4 L136.9,1269.8 L138.9,1269.2 L140.9,1268.7 L142.9,1268.2 L144.9,1267.8 L146.9,1267.3 L148.9,1266.9 L150.9,1266.6 L152.9,1266.2 L154.9,1265.9 L156.9,1265.5 L158.9,1265.2 L160.9,1264.9 L162.9,1264.6 L164.9,1264.4 L166.9,1264.1 L168.9,1263.9 L170.9,1263.6 L172.9,1263.4 L174.9,1263.2 L176.9,1263.0 L178.9,1262.8 L180.9,1262.6 L182.9,1262.5 L184.9,1262.3 L186.9,1262.1 L188.9,1262.0 L190.9,1261.8 L192.9,1261.7 L194.9,1261.6 L196.9,1261.5 L198.9,1261.3 L200.9,1261.2 L202.9,1261.1 L204.9,1261.0 L206.9,1260.9 L208.9,1260.8 L210.9,1260.7 L212.9,1260.6 L214.9,1260.6 L216.9,1260.5 L218.9,1260.4 L220.9,1260.3 L222.9,1260.3 L224.9,1260.2 L226.9,1260.2 L228.9,1260.1 L230.9,1260.0 L232.9,1260.0 L234.9,1259.9 L236.9,1259.9 L238.9,1259.8 L240.9,1259.8 L242.9,1259.8 L244.9,1259.7 L246.9,1259.7 L248.9,1259.6 L250.9,1259.6 L252.9,1259.6 L254.9,1259.5 L256.9,1259.5 L258.9,1259.5 L260.9,1259.5 L262.9,1259.4 L264.9,1259.4 L266.9,1259.4 L268.9,1259.4 L270.9,1259.3 L272.9,1259.3 L274.9,1259.3 L276.9,1259.3 L278.9,1259.3 L280.9,1259.2 L282.9,1259.2 L284.4,1259.2" fill="none" stroke="#4d4d4d" stroke-width="2.7" stroke-linejoin="round" stroke-linecap="butt"/>
<path d="M78.8,1258.9 L82.1,1258.9 L84.1,1363.1 L85.1,1361.6 L86.1,1360.5 L87.1,1359.7 L88.1,1359.2 L89.1,1358.8 L90.1,1358.5 L91.1,1358.3 L92.1,1358.2 L93.1,1358.1 L94.1,1358.0 L95.1,1357.9 L96.1,1357.9 L97.1,1357.9 L98.1,1357.8 L99.1,1357.8 L100.1,1357.8 L101.1,1357.8 L102.1,1357.8 L103.1,1357.8 L104.1,1357.8 L105.1,1357.8 L105.9,1357.8 L106.9,1347.5 L108.9,1331.1 L110.9,1318.9 L112.9,1309.8 L114.9,1302.9 L116.9,1297.6 L118.9,1293.5 L120.9,1290.2 L122.9,1287.6 L124.9,1285.4 L126.9,1283.5 L128.9,1282.0 L130.9,1280.6 L132.9,1279.3 L134.9,1278.2 L136.9,1277.2 L138.9,1276.3 L140.9,1275.4 L142.9,1274.6 L144.9,1273.8 L146.9,1273.1 L148.9,1272.4 L150.9,1271.8 L152.9,1271.2 L154.9,1270.6 L156.9,1270.1 L158.9,1269.5 L160.9,1269.1 L162.9,1268.6 L164.9,1268.1 L166.9,1267.7 L168.9,1267.3 L170.9,1266.9 L172.9,1266.5 L174.9,1266.2 L176.9,1265.8 L178.9,1265.5 L180.9,1265.2 L182.9,1264.9 L184.9,1264.6 L186.9,1264.4 L188.9,1264.1 L190.9,1263.9 L192.9,1263.6 L194.9,1263.4 L196.9,1263.2 L198.9,1263.0 L200.9,1262.8 L202.9,1262.6 L204.9,1262.5 L206.9,1262.3 L208.9,1262.1 L210.9,1262.0 L212.9,1261.8 L214.9,1261.7 L216.9,1261.6 L218.9,1261.4 L220.9,1261.3 L222.9,1261.2 L224.9,1261.1 L226.9,1261.0 L228.9,1260.9 L230.9,1260.8 L232.9,1260.7 L234.9,1260.6 L236.9,1260.6 L238.9,1260.5 L240.9,1260.4 L242.9,1260.3 L244.9,1260.3 L246.9,1260.2 L248.9,1260.1 L250.9,1260.1 L252.9,1260.0 L254.9,1260.0 L256.9,1259.9 L258.9,1259.9 L260.9,1259.8 L262.9,1259.8 L264.9,1259.8 L266.9,1259.7 L268.9,1259.7 L270.9,1259.6 L272.9,1259.6 L274.9,1259.6 L276.9,1259.5 L278.9,1259.5 L280.9,1259.5 L282.9,1259.5 L284.4,1259.4" fill="none" stroke="#4d4d4d" stroke-width="2.7" stroke-linejoin="round" stroke-linecap="butt"/>
<path d="M322.6,1259.3 L326.0,1259.3 L328.0,1243.1 L329.0,1243.1 L330.0,1243.1 L331.0,1243.1 L332.0,1243.1 L333.0,1243.1 L334.0,1243.1 L335.0,1243.1 L336.0,1243.1 L337.0,1243.1 L338.0,1243.1 L339.0,1243.1 L340.0,1243.1 L341.0,1243.1 L342.0,1243.1 L343.0,1243.1 L344.0,1243.1 L345.0,1243.1 L346.0,1243.1 L347.0,1243.1 L348.0,1243.1 L349.0,1243.1 L349.7,1243.1 L350.7,1245.3 L352.7,1248.7 L354.7,1251.4 L356.7,1253.3 L358.7,1254.8 L360.7,1255.9 L362.7,1256.8 L364.7,1257.4 L366.7,1257.9 L368.7,1258.2 L370.7,1258.5 L372.7,1258.7 L374.7,1258.8 L376.7,1259.0 L378.7,1259.0 L380.7,1259.1 L382.7,1259.2 L384.7,1259.2 L386.7,1259.2 L388.7,1259.2 L390.7,1259.3 L392.7,1259.3 L394.7,1259.3 L396.7,1259.3 L398.7,1259.3 L400.7,1259.3 L402.7,1259.3 L404.7,1259.3 L406.7,1259.3 L408.7,1259.3 L410.7,1259.3 L412.7,1259.3 L414.7,1259.3 L416.7,1259.3 L418.7,1259.3 L420.7,1259.3 L422.7,1259.3 L424.7,1259.3 L426.7,1259.3 L428.7,1259.3 L430.7,1259.3 L432.7,1259.3 L434.7,1259.3 L436.7,1259.3 L438.7,1259.3 L440.7,1259.3 L442.7,1259.3 L444.7,1259.3 L446.7,1259.3 L448.7,1259.3 L450.7,1259.3 L452.7,1259.3 L454.7,1259.3 L456.7,1259.3 L458.7,1259.3 L460.7,1259.3 L462.7,1259.3 L464.7,1259.3 L466.7,1259.3 L468.7,1259.3 L470.7,1259.3 L472.7,1259.3 L474.7,1259.3 L476.7,1259.3 L478.7,1259.3 L480.7,1259.3 L482.7,1259.3 L484.7,1259.3 L486.7,1259.3 L488.7,1259.3 L490.7,1259.3 L492.7,1259.3 L494.7,1259.3 L496.7,1259.3 L498.7,1259.3 L500.7,1259.3 L502.7,1259.3 L504.7,1259.3 L506.7,1259.3 L508.7,1259.3 L510.7,1259.3 L512.7,1259.3 L514.7,1259.3 L516.7,1259.3 L518.7,1259.3 L520.7,1259.3 L522.7,1259.3 L524.7,1259.3 L526.7,1259.3 L528.6,1259.3" fill="none" stroke="#999999" stroke-width="2.3" stroke-linejoin="round" stroke-linecap="butt"/>
<path d="M322.6,1259.3 L326.0,1259.3 L328.0,1247.4 L329.0,1247.4 L330.0,1247.4 L331.0,1247.4 L332.0,1247.4 L333.0,1247.4 L334.0,1247.4 L335.0,1247.4 L336.0,1247.4 L337.0,1247.4 L338.0,1247.4 L339.0,1247.4 L340.0,1247.4 L341.0,1247.4 L342.0,1247.4 L343.0,1247.4 L344.0,1247.4 L345.0,1247.4 L346.0,1247.4 L347.0,1247.4 L348.0,1247.4 L349.0,1247.4 L349.7,1247.4 L350.7,1249.0 L352.7,1251.5 L354.7,1253.5 L356.7,1254.9 L358.7,1256.0 L360.7,1256.8 L362.7,1257.4 L364.7,1257.9 L366.7,1258.3 L368.7,1258.5 L370.7,1258.7 L372.7,1258.9 L374.7,1259.0 L376.7,1259.0 L378.7,1259.1 L380.7,1259.2 L382.7,1259.2 L384.7,1259.2 L386.7,1259.2 L388.7,1259.3 L390.7,1259.3 L392.7,1259.3 L394.7,1259.3 L396.7,1259.3 L398.7,1259.3 L400.7,1259.3 L402.7,1259.3 L404.7,1259.3 L406.7,1259.3 L408.7,1259.3 L410.7,1259.3 L412.7,1259.3 L414.7,1259.3 L416.7,1259.3 L418.7,1259.3 L420.7,1259.3 L422.7,1259.3 L424.7,1259.3 L426.7,1259.3 L428.7,1259.3 L430.7,1259.3 L432.7,1259.3 L434.7,1259.3 L436.7,1259.3 L438.7,1259.3 L440.7,1259.3 L442.7,1259.3 L444.7,1259.3 L446.7,1259.3 L448.7,1259.3 L450.7,1259.3 L452.7,1259.3 L454.7,1259.3 L456.7,1259.3 L458.7,1259.3 L460.7,1259.3 L462.7,1259.3 L464.7,1259.3 L466.7,1259.3 L468.7,1259.3 L470.7,1259.3 L472.7,1259.3 L474.7,1259.3 L476.7,1259.3 L478.7,1259.3 L480.7,1259.3 L482.7,1259.3 L484.7,1259.3 L486.7,1259.3 L488.7,1259.3 L490.7,1259.3 L492.7,1259.3 L494.7,1259.3 L496.7,1259.3 L498.7,1259.3 L500.7,1259.3 L502.7,1259.3 L504.7,1259.3 L506.7,1259.3 L508.7,1259.3 L510.7,1259.3 L512.7,1259.3 L514.7,1259.3 L516.7,1259.3 L518.7,1259.3 L520.7,1259.3 L522.7,1259.3 L524.7,1259.3 L526.7,1259.3 L528.6,1259.3" fill="none" stroke="#999999" stroke-width="2.3" stroke-linejoin="round" stroke-linecap="butt"/>
<path d="M322.6,1259.3 L326.0,1259.3 L328.0,1251.8 L329.0,1251.8 L330.0,1251.8 L331.0,1251.8 L332.0,1251.8 L333.0,1251.8 L334.0,1251.8 L335.0,1251.8 L336.0,1251.8 L337.0,1251.8 L338.0,1251.8 L339.0,1251.8 L340.0,1251.8 L341.0,1251.8 L342.0,1251.8 L343.0,1251.8 L344.0,1251.8 L345.0,1251.8 L346.0,1251.8 L347.0,1251.8 L348.0,1251.8 L349.0,1251.8 L349.7,1251.8 L350.7,1252.8 L352.7,1254.4 L354.7,1255.6 L356.7,1256.5 L358.7,1257.2 L360.7,1257.7 L362.7,1258.1 L364.7,1258.4 L366.7,1258.6 L368.7,1258.8 L370.7,1258.9 L372.7,1259.0 L374.7,1259.1 L376.7,1259.1 L378.7,1259.2 L380.7,1259.2 L382.7,1259.2 L384.7,1259.2 L386.7,1259.3 L388.7,1259.3 L390.7,1259.3 L392.7,1259.3 L394.7,1259.3 L396.7,1259.3 L398.7,1259.3 L400.7,1259.3 L402.7,1259.3 L404.7,1259.3 L406.7,1259.3 L408.7,1259.3 L410.7,1259.3 L412.7,1259.3 L414.7,1259.3 L416.7,1259.3 L418.7,1259.3 L420.7,1259.3 L422.7,1259.3 L424.7,1259.3 L426.7,1259.3 L428.7,1259.3 L430.7,1259.3 L432.7,1259.3 L434.7,1259.3 L436.7,1259.3 L438.7,1259.3 L440.7,1259.3 L442.7,1259.3 L444.7,1259.3 L446.7,1259.3 L448.7,1259.3 L450.7,1259.3 L452.7,1259.3 L454.7,1259.3 L456.7,1259.3 L458.7,1259.3 L460.7,1259.3 L462.7,1259.3 L464.7,1259.3 L466.7,1259.3 L468.7,1259.3 L470.7,1259.3 L472.7,1259.3 L474.7,1259.3 L476.7,1259.3 L478.7,1259.3 L480.7,1259.3 L482.7,1259.3 L484.7,1259.3 L486.7,1259.3 L488.7,1259.3 L490.7,1259.3 L492.7,1259.3 L494.7,1259.3 L496.7,1259.3 L498.7,1259.3 L500.7,1259.3 L502.7,1259.3 L504.7,1259.3 L506.7,1259.3 L508.7,1259.3 L510.7,1259.3 L512.7,1259.3 L514.7,1259.3 L516.7,1259.3 L518.7,1259.3 L520.7,1259.3 L522.7,1259.3 L524.7,1259.3 L526.7,1259.3 L528.6,1259.3" fill="none" stroke="#999999" stroke-width="2.3" stroke-linejoin="round" stroke-linecap="butt"/>
<path d="M322.6,1259.3 L326.0,1259.3 L328.0,1255.7 L329.0,1255.7 L330.0,1255.7 L331.0,1255.7 L332.0,1255.7 L333.0,1255.7 L334.0,1255.7 L335.0,1255.7 L336.0,1255.7 L337.0,1255.7 L338.0,1255.7 L339.0,1255.7 L340.0,1255.7 L341.0,1255.7 L342.0,1255.7 L343.0,1255.7 L344.0,1255.7 L345.0,1255.7 L346.0,1255.7 L347.0,1255.7 L348.0,1255.7 L349.0,1255.7 L349.7,1255.7 L350.7,1256.2 L352.7,1257.0 L354.7,1257.5 L356.7,1258.0 L358.7,1258.3 L360.7,1258.6 L362.7,1258.7 L364.7,1258.9 L366.7,1259.0 L368.7,1259.1 L370.7,1259.1 L372.7,1259.2 L374.7,1259.2 L376.7,1259.2 L378.7,1259.2 L380.7,1259.3 L382.7,1259.3 L384.7,1259.3 L386.7,1259.3 L388.7,1259.3 L390.7,1259.3 L392.7,1259.3 L394.7,1259.3 L396.7,1259.3 L398.7,1259.3 L400.7,1259.3 L402.7,1259.3 L404.7,1259.3 L406.7,1259.3 L408.7,1259.3 L410.7,1259.3 L412.7,1259.3 L414.7,1259.3 L416.7,1259.3 L418.7,1259.3 L420.7,1259.3 L422.7,1259.3 L424.7,1259.3 L426.7,1259.3 L428.7,1259.3 L430.7,1259.3 L432.7,1259.3 L434.7,1259.3 L436.7,1259.3 L438.7,1259.3 L440.7,1259.3 L442.7,1259.3 L444.7,1259.3 L446.7,1259.3 L448.7,1259.3 L450.7,1259.3 L452.7,1259.3 L454.7,1259.3 L456.7,1259.3 L458.7,1259.3 L460.7,1259.3 L462.7,1259.3 L464.7,1259.3 L466.7,1259.3 L468.7,1259.3 L470.7,1259.3 L472.7,1259.3 L474.7,1259.3 L476.7,1259.3 L478.7,1259.3 L480.7,1259.3 L482.7,1259.3 L484.7,1259.3 L486.7,1259.3 L488.7,1259.3 L490.7,1259.3 L492.7,1259.3 L494.7,1259.3 L496.7,1259.3 L498.7,1259.3 L500.7,1259.3 L502.7,1259.3 L504.7,1259.3 L506.7,1259.3 L508.7,1259.3 L510.7,1259.3 L512.7,1259.3 L514.7,1259.3 L516.7,1259.3 L518.7,1259.3 L520.7,1259.3 L522.7,1259.3 L524.7,1259.3 L526.7,1259.3 L528.6,1259.3" fill="none" stroke="#999999" stroke-width="2.3" stroke-linejoin="round" stroke-linecap="butt"/>
<path d="M322.6,1259.3 L326.0,1259.3 L328.0,1263.6 L329.0,1263.6 L330.0,1263.6 L331.0,1263.6 L332.0,1263.6 L333.0,1263.6 L334.0,1263.6 L335.0,1263.6 L336.0,1263.6 L337.0,1263.6 L338.0,1263.6 L339.0,1263.6 L340.0,1263.6 L341.0,1263.6 L342.0,1263.6 L343.0,1263.6 L344.0,1263.6 L345.0,1263.6 L346.0,1263.6 L347.0,1263.6 L348.0,1263.6 L349.0,1263.6 L349.7,1263.6 L350.7,1263.0 L352.7,1262.1 L354.7,1261.4 L356.7,1260.9 L358.7,1260.5 L360.7,1260.2 L362.7,1260.0 L364.7,1259.8 L366.7,1259.7 L368.7,1259.6 L370.7,1259.5 L372.7,1259.5 L374.7,1259.4 L376.7,1259.4 L378.7,1259.4 L380.7,1259.4 L382.7,1259.3 L384.7,1259.3 L386.7,1259.3 L388.7,1259.3 L390.7,1259.3 L392.7,1259.3 L394.7,1259.3 L396.7,1259.3 L398.7,1259.3 L400.7,1259.3 L402.7,1259.3 L404.7,1259.3 L406.7,1259.3 L408.7,1259.3 L410.7,1259.3 L412.7,1259.3 L414.7,1259.3 L416.7,1259.3 L418.7,1259.3 L420.7,1259.3 L422.7,1259.3 L424.7,1259.3 L426.7,1259.3 L428.7,1259.3 L430.7,1259.3 L432.7,1259.3 L434.7,1259.3 L436.7,1259.3 L438.7,1259.3 L440.7,1259.3 L442.7,1259.3 L444.7,1259.3 L446.7,1259.3 L448.7,1259.3 L450.7,1259.3 L452.7,1259.3 L454.7,1259.3 L456.7,1259.3 L458.7,1259.3 L460.7,1259.3 L462.7,1259.3 L464.7,1259.3 L466.7,1259.3 L468.7,1259.3 L470.7,1259.3 L472.7,1259.3 L474.7,1259.3 L476.7,1259.3 L478.7,1259.3 L480.7,1259.3 L482.7,1259.3 L484.7,1259.3 L486.7,1259.3 L488.7,1259.3 L490.7,1259.3 L492.7,1259.3 L494.7,1259.3 L496.7,1259.3 L498.7,1259.3 L500.7,1259.3 L502.7,1259.3 L504.7,1259.3 L506.7,1259.3 L508.7,1259.3 L510.7,1259.3 L512.7,1259.3 L514.7,1259.3 L516.7,1259.3 L518.7,1259.3 L520.7,1259.3 L522.7,1259.3 L524.7,1259.3 L526.7,1259.3 L528.6,1259.3" fill="none" stroke="#999999" stroke-width="2.3" stroke-linejoin="round" stroke-linecap="butt"/>
<path d="M322.6,1259.3 L326.0,1259.3 L328.0,1268.3 L329.0,1268.3 L330.0,1268.3 L331.0,1268.3 L332.0,1268.3 L333.0,1268.3 L334.0,1268.3 L335.0,1268.3 L336.0,1268.3 L337.0,1268.3 L338.0,1268.3 L339.0,1268.3 L340.0,1268.3 L341.0,1268.3 L342.0,1268.3 L343.0,1268.3 L344.0,1268.3 L345.0,1268.3 L346.0,1268.3 L347.0,1268.3 L348.0,1268.3 L349.0,1268.3 L349.7,1268.3 L350.7,1267.1 L352.7,1265.2 L354.7,1263.7 L356.7,1262.6 L358.7,1261.8 L360.7,1261.2 L362.7,1260.7 L364.7,1260.4 L366.7,1260.1 L368.7,1259.9 L370.7,1259.7 L372.7,1259.6 L374.7,1259.6 L376.7,1259.5 L378.7,1259.4 L380.7,1259.4 L382.7,1259.4 L384.7,1259.4 L386.7,1259.3 L388.7,1259.3 L390.7,1259.3 L392.7,1259.3 L394.7,1259.3 L396.7,1259.3 L398.7,1259.3 L400.7,1259.3 L402.7,1259.3 L404.7,1259.3 L406.7,1259.3 L408.7,1259.3 L410.7,1259.3 L412.7,1259.3 L414.7,1259.3 L416.7,1259.3 L418.7,1259.3 L420.7,1259.3 L422.7,1259.3 L424.7,1259.3 L426.7,1259.3 L428.7,1259.3 L430.7,1259.3 L432.7,1259.3 L434.7,1259.3 L436.7,1259.3 L438.7,1259.3 L440.7,1259.3 L442.7,1259.3 L444.7,1259.3 L446.7,1259.3 L448.7,1259.3 L450.7,1259.3 L452.7,1259.3 L454.7,1259.3 L456.7,1259.3 L458.7,1259.3 L460.7,1259.3 L462.7,1259.3 L464.7,1259.3 L466.7,1259.3 L468.7,1259.3 L470.7,1259.3 L472.7,1259.3 L474.7,1259.3 L476.7,1259.3 L478.7,1259.3 L480.7,1259.3 L482.7,1259.3 L484.7,1259.3 L486.7,1259.3 L488.7,1259.3 L490.7,1259.3 L492.7,1259.3 L494.7,1259.3 L496.7,1259.3 L498.7,1259.3 L500.7,1259.3 L502.7,1259.3 L504.7,1259.3 L506.7,1259.3 L508.7,1259.3 L510.7,1259.3 L512.7,1259.3 L514.7,1259.3 L516.7,1259.3 L518.7,1259.3 L520.7,1259.3 L522.7,1259.3 L524.7,1259.3 L526.7,1259.3 L528.6,1259.3" fill="none" stroke="#999999" stroke-width="2.3" stroke-linejoin="round" stroke-linecap="butt"/>
<path d="M322.6,1259.3 L326.0,1259.3 L328.0,1274.3 L329.0,1274.1 L330.0,1274.0 L331.0,1273.9 L332.0,1273.8 L333.0,1273.7 L334.0,1273.7 L335.0,1273.6 L336.0,1273.6 L337.0,1273.5 L338.0,1273.5 L339.0,1273.5 L340.0,1273.4 L341.0,1273.4 L342.0,1273.4 L343.0,1273.4 L344.0,1273.4 L345.0,1273.4 L346.0,1273.3 L347.0,1273.3 L348.0,1273.3 L349.0,1273.3 L349.7,1273.3 L350.7,1271.4 L352.7,1268.4 L354.7,1266.2 L356.7,1264.5 L358.7,1263.2 L360.7,1262.2 L362.7,1261.5 L364.7,1260.9 L366.7,1260.5 L368.7,1260.2 L370.7,1260.0 L372.7,1259.8 L374.7,1259.7 L376.7,1259.6 L378.7,1259.5 L380.7,1259.5 L382.7,1259.4 L384.7,1259.4 L386.7,1259.4 L388.7,1259.4 L390.7,1259.3 L392.7,1259.3 L394.7,1259.3 L396.7,1259.3 L398.7,1259.3 L400.7,1259.3 L402.7,1259.3 L404.7,1259.3 L406.7,1259.3 L408.7,1259.3 L410.7,1259.3 L412.7,1259.3 L414.7,1259.3 L416.7,1259.3 L418.7,1259.3 L420.7,1259.3 L422.7,1259.3 L424.7,1259.3 L426.7,1259.3 L428.7,1259.3 L430.7,1259.3 L432.7,1259.3 L434.7,1259.3 L436.7,1259.3 L438.7,1259.3 L440.7,1259.3 L442.7,1259.3 L444.7,1259.3 L446.7,1259.3 L448.7,1259.3 L450.7,1259.3 L452.7,1259.3 L454.7,1259.3 L456.7,1259.3 L458.7,1259.3 L460.7,1259.3 L462.7,1259.3 L464.7,1259.3 L466.7,1259.3 L468.7,1259.3 L470.7,1259.3 L472.7,1259.3 L474.7,1259.3 L476.7,1259.3 L478.7,1259.3 L480.7,1259.3 L482.7,1259.3 L484.7,1259.3 L486.7,1259.3 L488.7,1259.3 L490.7,1259.3 L492.7,1259.3 L494.7,1259.3 L496.7,1259.3 L498.7,1259.3 L500.7,1259.3 L502.7,1259.3 L504.7,1259.3 L506.7,1259.3 L508.7,1259.3 L510.7,1259.3 L512.7,1259.3 L514.7,1259.3 L516.7,1259.3 L518.7,1259.3 L520.7,1259.3 L522.7,1259.3 L524.7,1259.3 L526.7,1259.3 L528.6,1259.3" fill="none" stroke="#999999" stroke-width="2.3" stroke-linejoin="round" stroke-linecap="butt"/>
<path d="M322.6,1259.3 L326.0,1259.3 L328.0,1285.0 L329.0,1284.4 L330.0,1284.0 L331.0,1283.5 L332.0,1283.2 L333.0,1282.9 L334.0,1282.7 L335.0,1282.5 L336.0,1282.3 L337.0,1282.1 L338.0,1282.0 L339.0,1281.9 L340.0,1281.8 L341.0,1281.7 L342.0,1281.7 L343.0,1281.6 L344.0,1281.6 L345.0,1281.5 L346.0,1281.5 L347.0,1281.5 L348.0,1281.4 L349.0,1281.4 L349.7,1281.3 L350.7,1278.4 L352.7,1273.6 L354.7,1270.1 L356.7,1267.4 L358.7,1265.4 L360.7,1263.9 L362.7,1262.7 L364.7,1261.9 L366.7,1261.2 L368.7,1260.8 L370.7,1260.4 L372.7,1260.1 L374.7,1259.9 L376.7,1259.8 L378.7,1259.6 L380.7,1259.6 L382.7,1259.5 L384.7,1259.4 L386.7,1259.4 L388.7,1259.4 L390.7,1259.4 L392.7,1259.3 L394.7,1259.3 L396.7,1259.3 L398.7,1259.3 L400.7,1259.3 L402.7,1259.3 L404.7,1259.3 L406.7,1259.3 L408.7,1259.3 L410.7,1259.3 L412.7,1259.3 L414.7,1259.3 L416.7,1259.3 L418.7,1259.3 L420.7,1259.3 L422.7,1259.3 L424.7,1259.3 L426.7,1259.3 L428.7,1259.3 L430.7,1259.3 L432.7,1259.3 L434.7,1259.3 L436.7,1259.3 L438.7,1259.3 L440.7,1259.3 L442.7,1259.3 L444.7,1259.3 L446.7,1259.3 L448.7,1259.3 L450.7,1259.3 L452.7,1259.3 L454.7,1259.3 L456.7,1259.3 L458.7,1259.3 L460.7,1259.3 L462.7,1259.3 L464.7,1259.3 L466.7,1259.3 L468.7,1259.3 L470.7,1259.3 L472.7,1259.3 L474.7,1259.3 L476.7,1259.3 L478.7,1259.3 L480.7,1259.3 L482.7,1259.3 L484.7,1259.3 L486.7,1259.3 L488.7,1259.3 L490.7,1259.3 L492.7,1259.3 L494.7,1259.3 L496.7,1259.3 L498.7,1259.3 L500.7,1259.3 L502.7,1259.3 L504.7,1259.3 L506.7,1259.3 L508.7,1259.3 L510.7,1259.3 L512.7,1259.3 L514.7,1259.3 L516.7,1259.3 L518.7,1259.3 L520.7,1259.3 L522.7,1259.3 L524.7,1259.3 L526.7,1259.3 L528.6,1259.3" fill="none" stroke="#999999" stroke-width="2.3" stroke-linejoin="round" stroke-linecap="butt"/>
<path d="M322.6,1259.3 L326.0,1259.3 L328.0,1301.2 L329.0,1299.5 L330.0,1298.1 L331.0,1297.0 L332.0,1296.1 L333.0,1295.3 L334.0,1294.7 L335.0,1294.2 L336.0,1293.8 L337.0,1293.4 L338.0,1293.2 L339.0,1292.9 L340.0,1292.7 L341.0,1292.6 L342.0,1292.5 L343.0,1292.4 L344.0,1292.3 L345.0,1292.2 L346.0,1292.2 L347.0,1292.1 L348.0,1292.1 L349.0,1292.0 L349.7,1291.9 L350.7,1286.0 L352.7,1277.2 L354.7,1271.3 L356.7,1267.3 L358.7,1264.7 L360.7,1262.9 L362.7,1261.7 L364.7,1260.9 L366.7,1260.4 L368.7,1260.0 L370.7,1259.8 L372.7,1259.6 L374.7,1259.5 L376.7,1259.4 L378.7,1259.4 L380.7,1259.4 L382.7,1259.3 L384.7,1259.3 L386.7,1259.3 L388.7,1259.3 L390.7,1259.3 L392.7,1259.3 L394.7,1259.3 L396.7,1259.3 L398.7,1259.3 L400.7,1259.3 L402.7,1259.3 L404.7,1259.3 L406.7,1259.3 L408.7,1259.3 L410.7,1259.3 L412.7,1259.3 L414.7,1259.3 L416.7,1259.3 L418.7,1259.3 L420.7,1259.3 L422.7,1259.3 L424.7,1259.3 L426.7,1259.3 L428.7,1259.3 L430.7,1259.3 L432.7,1259.3 L434.7,1259.3 L436.7,1259.3 L438.7,1259.3 L440.7,1259.3 L442.7,1259.3 L444.7,1259.3 L446.7,1259.3 L448.7,1259.3 L450.7,1259.3 L452.7,1259.3 L454.7,1259.3 L456.7,1259.3 L458.7,1259.3 L460.7,1259.3 L462.7,1259.3 L464.7,1259.3 L466.7,1259.3 L468.7,1259.3 L470.7,1259.3 L472.7,1259.3 L474.7,1259.3 L476.7,1259.3 L478.7,1259.3 L480.7,1259.3 L482.7,1259.3 L484.7,1259.3 L486.7,1259.3 L488.7,1259.3 L490.7,1259.3 L492.7,1259.3 L494.7,1259.3 L496.7,1259.3 L498.7,1259.3 L500.7,1259.3 L502.7,1259.3 L504.7,1259.3 L506.7,1259.3 L508.7,1259.3 L510.7,1259.3 L512.7,1259.3 L514.7,1259.3 L516.7,1259.3 L518.7,1259.3 L520.7,1259.3 L522.7,1259.3 L524.7,1259.3 L526.7,1259.3 L528.6,1259.3" fill="none" stroke="#999999" stroke-width="2.3" stroke-linejoin="round" stroke-linecap="butt"/>
<path d="M350,1259.3 H528.6" stroke="#999999" stroke-width="3.2"/>
<path d="M566.9,1260.6 L575.6,1260.6 L578.1,1250.7 L579.1,1250.7 L580.1,1250.7 L581.1,1250.7 L582.1,1250.7 L583.1,1250.7 L584.1,1250.7 L585.1,1250.7 L586.1,1250.7 L587.1,1250.7 L588.1,1250.7 L589.1,1250.7 L590.1,1250.7 L591.1,1250.7 L592.1,1250.7 L593.1,1250.7 L594.1,1250.7 L595.1,1250.7 L596.1,1250.7 L597.1,1250.7 L598.1,1250.7 L599.1,1250.7 L599.8,1250.7 L600.8,1253.2 L602.8,1256.4 L604.8,1258.2 L606.8,1259.3 L608.8,1259.8 L610.8,1260.2 L612.8,1260.4 L614.8,1260.5 L616.8,1260.5 L618.8,1260.6 L620.8,1260.6 L622.8,1260.6 L624.8,1260.6 L626.8,1260.6 L628.8,1260.6 L630.8,1260.6 L632.8,1260.6 L634.8,1260.6 L636.8,1260.6 L638.8,1260.6 L640.8,1260.6 L642.8,1260.6 L644.8,1260.6 L646.8,1260.6 L648.8,1260.6 L650.8,1260.6 L652.8,1260.6 L654.8,1260.6 L656.8,1260.6 L658.8,1260.6 L660.8,1260.6 L662.8,1260.6 L664.8,1260.6 L666.8,1260.6 L668.8,1260.6 L670.8,1260.6 L672.8,1260.6 L674.8,1260.6 L676.8,1260.6 L678.8,1260.6 L680.8,1260.6 L682.8,1260.6 L684.8,1260.6 L686.8,1260.6 L688.8,1260.6 L690.8,1260.6 L692.8,1260.6 L694.8,1260.6 L696.8,1260.6 L698.8,1260.6 L700.8,1260.6 L702.8,1260.6 L704.8,1260.6 L706.8,1260.6 L708.8,1260.6 L710.8,1260.6 L712.8,1260.6 L714.8,1260.6 L716.8,1260.6 L718.8,1260.6 L720.8,1260.6 L722.8,1260.6 L724.8,1260.6 L726.8,1260.6 L728.8,1260.6 L730.8,1260.6 L732.8,1260.6 L734.8,1260.6 L736.8,1260.6 L738.8,1260.6 L740.8,1260.6 L742.8,1260.6 L744.8,1260.6 L746.8,1260.6 L748.8,1260.6 L750.8,1260.6 L752.8,1260.6 L754.8,1260.6 L756.8,1260.6 L758.8,1260.6 L760.8,1260.6 L762.8,1260.6 L764.8,1260.6 L766.8,1260.6 L768.8,1260.6 L770.8,1260.6 L772.8,1260.6 L773.3,1260.6" fill="none" stroke="#e8932f" stroke-width="2.9" stroke-linejoin="round" stroke-linecap="butt"/>
<path d="M566.9,1260.6 L575.6,1260.6 L578.1,1255.7 L579.1,1255.7 L580.1,1255.7 L581.1,1255.7 L582.1,1255.7 L583.1,1255.7 L584.1,1255.7 L585.1,1255.7 L586.1,1255.7 L587.1,1255.7 L588.1,1255.7 L589.1,1255.7 L590.1,1255.7 L591.1,1255.7 L592.1,1255.7 L593.1,1255.7 L594.1,1255.7 L595.1,1255.7 L596.1,1255.7 L597.1,1255.7 L598.1,1255.7 L599.1,1255.7 L599.8,1255.7 L600.8,1256.9 L602.8,1258.5 L604.8,1259.4 L606.8,1259.9 L608.8,1260.2 L610.8,1260.4 L612.8,1260.5 L614.8,1260.5 L616.8,1260.6 L618.8,1260.6 L620.8,1260.6 L622.8,1260.6 L624.8,1260.6 L626.8,1260.6 L628.8,1260.6 L630.8,1260.6 L632.8,1260.6 L634.8,1260.6 L636.8,1260.6 L638.8,1260.6 L640.8,1260.6 L642.8,1260.6 L644.8,1260.6 L646.8,1260.6 L648.8,1260.6 L650.8,1260.6 L652.8,1260.6 L654.8,1260.6 L656.8,1260.6 L658.8,1260.6 L660.8,1260.6 L662.8,1260.6 L664.8,1260.6 L666.8,1260.6 L668.8,1260.6 L670.8,1260.6 L672.8,1260.6 L674.8,1260.6 L676.8,1260.6 L678.8,1260.6 L680.8,1260.6 L682.8,1260.6 L684.8,1260.6 L686.8,1260.6 L688.8,1260.6 L690.8,1260.6 L692.8,1260.6 L694.8,1260.6 L696.8,1260.6 L698.8,1260.6 L700.8,1260.6 L702.8,1260.6 L704.8,1260.6 L706.8,1260.6 L708.8,1260.6 L710.8,1260.6 L712.8,1260.6 L714.8,1260.6 L716.8,1260.6 L718.8,1260.6 L720.8,1260.6 L722.8,1260.6 L724.8,1260.6 L726.8,1260.6 L728.8,1260.6 L730.8,1260.6 L732.8,1260.6 L734.8,1260.6 L736.8,1260.6 L738.8,1260.6 L740.8,1260.6 L742.8,1260.6 L744.8,1260.6 L746.8,1260.6 L748.8,1260.6 L750.8,1260.6 L752.8,1260.6 L754.8,1260.6 L756.8,1260.6 L758.8,1260.6 L760.8,1260.6 L762.8,1260.6 L764.8,1260.6 L766.8,1260.6 L768.8,1260.6 L770.8,1260.6 L772.8,1260.6 L773.3,1260.6" fill="none" stroke="#e8932f" stroke-width="2.9" stroke-linejoin="round" stroke-linecap="butt"/>
<path d="M566.9,1260.6 L575.6,1260.6 L578.1,1271.7 L579.1,1271.6 L580.1,1271.4 L581.1,1271.3 L582.1,1271.2 L583.1,1271.1 L584.1,1271.1 L585.1,1271.0 L586.1,1270.9 L587.1,1270.9 L588.1,1270.8 L589.1,1270.8 L590.1,1270.8 L591.1,1270.7 L592.1,1270.7 L593.1,1270.7 L594.1,1270.7 L595.1,1270.6 L596.1,1270.6 L597.1,1270.6 L598.1,1270.6 L599.1,1270.6 L599.8,1270.5 L600.8,1268.4 L602.8,1265.7 L604.8,1264.0 L606.8,1263.1 L608.8,1262.5 L610.8,1262.1 L612.8,1261.8 L614.8,1261.6 L616.8,1261.5 L618.8,1261.4 L620.8,1261.3 L622.8,1261.2 L624.8,1261.2 L626.8,1261.1 L628.8,1261.1 L630.8,1261.0 L632.8,1261.0 L634.8,1260.9 L636.8,1260.9 L638.8,1260.9 L640.8,1260.9 L642.8,1260.8 L644.8,1260.8 L646.8,1260.8 L648.8,1260.8 L650.8,1260.8 L652.8,1260.7 L654.8,1260.7 L656.8,1260.7 L658.8,1260.7 L660.8,1260.7 L662.8,1260.7 L664.8,1260.7 L666.8,1260.7 L668.8,1260.7 L670.8,1260.7 L672.8,1260.7 L674.8,1260.6 L676.8,1260.6 L678.8,1260.6 L680.8,1260.6 L682.8,1260.6 L684.8,1260.6 L686.8,1260.6 L688.8,1260.6 L690.8,1260.6 L692.8,1260.6 L694.8,1260.6 L696.8,1260.6 L698.8,1260.6 L700.8,1260.6 L702.8,1260.6 L704.8,1260.6 L706.8,1260.6 L708.8,1260.6 L710.8,1260.6 L712.8,1260.6 L714.8,1260.6 L716.8,1260.6 L718.8,1260.6 L720.8,1260.6 L722.8,1260.6 L724.8,1260.6 L726.8,1260.6 L728.8,1260.6 L730.8,1260.6 L732.8,1260.6 L734.8,1260.6 L736.8,1260.6 L738.8,1260.6 L740.8,1260.6 L742.8,1260.6 L744.8,1260.6 L746.8,1260.6 L748.8,1260.6 L750.8,1260.6 L752.8,1260.6 L754.8,1260.6 L756.8,1260.6 L758.8,1260.6 L760.8,1260.6 L762.8,1260.6 L764.8,1260.6 L766.8,1260.6 L768.8,1260.6 L770.8,1260.6 L772.8,1260.6 L773.3,1260.6" fill="none" stroke="#e8932f" stroke-width="2.9" stroke-linejoin="round" stroke-linecap="butt"/>
<path d="M566.9,1260.6 L575.6,1260.6 L578.1,1302.6 L579.1,1301.9 L580.1,1301.3 L581.1,1300.8 L582.1,1300.4 L583.1,1300.0 L584.1,1299.6 L585.1,1299.3 L586.1,1299.0 L587.1,1298.8 L588.1,1298.5 L589.1,1298.3 L590.1,1298.2 L591.1,1298.0 L592.1,1297.9 L593.1,1297.8 L594.1,1297.7 L595.1,1297.6 L596.1,1297.5 L597.1,1297.4 L598.1,1297.4 L599.1,1297.3 L599.8,1296.9 L600.8,1290.5 L602.8,1281.9 L604.8,1276.7 L606.8,1273.4 L608.8,1271.3 L610.8,1269.8 L612.8,1268.7 L614.8,1267.9 L616.8,1267.2 L618.8,1266.6 L620.8,1266.1 L622.8,1265.7 L624.8,1265.3 L626.8,1264.9 L628.8,1264.6 L630.8,1264.3 L632.8,1264.0 L634.8,1263.7 L636.8,1263.5 L638.8,1263.3 L640.8,1263.1 L642.8,1262.9 L644.8,1262.7 L646.8,1262.5 L648.8,1262.4 L650.8,1262.3 L652.8,1262.1 L654.8,1262.0 L656.8,1261.9 L658.8,1261.8 L660.8,1261.7 L662.8,1261.6 L664.8,1261.5 L666.8,1261.5 L668.8,1261.4 L670.8,1261.3 L672.8,1261.3 L674.8,1261.2 L676.8,1261.2 L678.8,1261.1 L680.8,1261.1 L682.8,1261.1 L684.8,1261.0 L686.8,1261.0 L688.8,1261.0 L690.8,1260.9 L692.8,1260.9 L694.8,1260.9 L696.8,1260.9 L698.8,1260.8 L700.8,1260.8 L702.8,1260.8 L704.8,1260.8 L706.8,1260.8 L708.8,1260.8 L710.8,1260.7 L712.8,1260.7 L714.8,1260.7 L716.8,1260.7 L718.8,1260.7 L720.8,1260.7 L722.8,1260.7 L724.8,1260.7 L726.8,1260.7 L728.8,1260.7 L730.8,1260.7 L732.8,1260.7 L734.8,1260.7 L736.8,1260.7 L738.8,1260.6 L740.8,1260.6 L742.8,1260.6 L744.8,1260.6 L746.8,1260.6 L748.8,1260.6 L750.8,1260.6 L752.8,1260.6 L754.8,1260.6 L756.8,1260.6 L758.8,1260.6 L760.8,1260.6 L762.8,1260.6 L764.8,1260.6 L766.8,1260.6 L768.8,1260.6 L770.8,1260.6 L772.8,1260.6 L773.3,1260.6" fill="none" stroke="#e8932f" stroke-width="2.9" stroke-linejoin="round" stroke-linecap="butt"/>
<path d="M566.9,1260.6 L575.6,1260.6 L578.1,1357.0 L579.1,1355.3 L580.1,1353.7 L581.1,1352.4 L582.1,1351.2 L583.1,1350.1 L584.1,1349.2 L585.1,1348.4 L586.1,1347.6 L587.1,1347.0 L588.1,1346.4 L589.1,1345.9 L590.1,1345.5 L591.1,1345.1 L592.1,1344.8 L593.1,1344.5 L594.1,1344.2 L595.1,1344.0 L596.1,1343.8 L597.1,1343.6 L598.1,1343.4 L599.1,1343.3 L599.8,1342.2 L600.8,1329.0 L602.8,1310.9 L604.8,1300.0 L606.8,1293.1 L608.8,1288.5 L610.8,1285.3 L612.8,1283.0 L614.8,1281.1 L616.8,1279.5 L618.8,1278.1 L620.8,1276.9 L622.8,1275.8 L624.8,1274.8 L626.8,1273.9 L628.8,1273.0 L630.8,1272.2 L632.8,1271.5 L634.8,1270.8 L636.8,1270.1 L638.8,1269.5 L640.8,1268.9 L642.8,1268.4 L644.8,1267.9 L646.8,1267.4 L648.8,1267.0 L650.8,1266.6 L652.8,1266.2 L654.8,1265.8 L656.8,1265.5 L658.8,1265.2 L660.8,1264.9 L662.8,1264.6 L664.8,1264.3 L666.8,1264.1 L668.8,1263.9 L670.8,1263.7 L672.8,1263.5 L674.8,1263.3 L676.8,1263.1 L678.8,1262.9 L680.8,1262.8 L682.8,1262.7 L684.8,1262.5 L686.8,1262.4 L688.8,1262.3 L690.8,1262.2 L692.8,1262.1 L694.8,1262.0 L696.8,1261.9 L698.8,1261.8 L700.8,1261.7 L702.8,1261.7 L704.8,1261.6 L706.8,1261.5 L708.8,1261.5 L710.8,1261.4 L712.8,1261.4 L714.8,1261.3 L716.8,1261.3 L718.8,1261.2 L720.8,1261.2 L722.8,1261.1 L724.8,1261.1 L726.8,1261.1 L728.8,1261.0 L730.8,1261.0 L732.8,1261.0 L734.8,1261.0 L736.8,1260.9 L738.8,1260.9 L740.8,1260.9 L742.8,1260.9 L744.8,1260.9 L746.8,1260.8 L748.8,1260.8 L750.8,1260.8 L752.8,1260.8 L754.8,1260.8 L756.8,1260.8 L758.8,1260.8 L760.8,1260.8 L762.8,1260.7 L764.8,1260.7 L766.8,1260.7 L768.8,1260.7 L770.8,1260.7 L772.8,1260.7 L773.3,1260.7" fill="none" stroke="#e8932f" stroke-width="2.9" stroke-linejoin="round" stroke-linecap="butt"/>
<path d="M566.9,1260.6 L575.6,1260.6 L578.1,1480.6 L579.1,1476.8 L580.1,1473.4 L581.1,1470.2 L582.1,1467.3 L583.1,1464.6 L584.1,1462.1 L585.1,1459.8 L586.1,1457.6 L587.1,1455.6 L588.1,1453.7 L589.1,1451.9 L590.1,1450.2 L591.1,1448.6 L592.1,1447.1 L593.1,1445.6 L594.1,1444.2 L595.1,1442.9 L596.1,1441.6 L597.1,1440.4 L598.1,1439.2 L599.1,1438.1 L599.8,1434.8 L600.8,1412.9 L602.8,1381.6 L604.8,1361.4 L606.8,1347.9 L608.8,1338.6 L610.8,1331.9 L612.8,1326.7 L614.8,1322.6 L616.8,1319.2 L618.8,1316.2 L620.8,1313.5 L622.8,1311.0 L624.8,1308.7 L626.8,1306.6 L628.8,1304.6 L630.8,1302.6 L632.8,1300.8 L634.8,1299.0 L636.8,1297.4 L638.8,1295.8 L640.8,1294.2 L642.8,1292.8 L644.8,1291.4 L646.8,1290.0 L648.8,1288.7 L650.8,1287.5 L652.8,1286.4 L654.8,1285.2 L656.8,1284.2 L658.8,1283.1 L660.8,1282.2 L662.8,1281.2 L664.8,1280.3 L666.8,1279.5 L668.8,1278.6 L670.8,1277.9 L672.8,1277.1 L674.8,1276.4 L676.8,1275.7 L678.8,1275.0 L680.8,1274.4 L682.8,1273.8 L684.8,1273.2 L686.8,1272.7 L688.8,1272.2 L690.8,1271.7 L692.8,1271.2 L694.8,1270.7 L696.8,1270.3 L698.8,1269.9 L700.8,1269.5 L702.8,1269.1 L704.8,1268.7 L706.8,1268.4 L708.8,1268.0 L710.8,1267.7 L712.8,1267.4 L714.8,1267.1 L716.8,1266.8 L718.8,1266.5 L720.8,1266.3 L722.8,1266.0 L724.8,1265.8 L726.8,1265.6 L728.8,1265.4 L730.8,1265.1 L732.8,1265.0 L734.8,1264.8 L736.8,1264.6 L738.8,1264.4 L740.8,1264.2 L742.8,1264.1 L744.8,1263.9 L746.8,1263.8 L748.8,1263.6 L750.8,1263.5 L752.8,1263.4 L754.8,1263.3 L756.8,1263.2 L758.8,1263.0 L760.8,1262.9 L762.8,1262.8 L764.8,1262.7 L766.8,1262.6 L768.8,1262.6 L770.8,1262.5 L772.8,1262.4 L773.3,1262.4" fill="none" stroke="#e8932f" stroke-width="2.9" stroke-linejoin="round" stroke-linecap="butt"/>
<path d="M297.3,1274.7 V1361.2 H319.5" fill="none" stroke="#000" stroke-width="3"/>
<text x="239.5" y="1325.6" font-size="26" fill="#000" word-spacing="-3">1 nA</text>
<text x="279" y="1386.9" font-size="26" fill="#000" word-spacing="-3.5">0.5 s</text>
<rect x="351" y="1300" width="18.8" height="8.5" fill="#4d4d4d"/>
<rect x="372.6" y="1300" width="18.8" height="8.5" fill="#999999"/>
<rect x="394.2" y="1300" width="18.8" height="8.5" fill="#e8932f"/>
<rect x="352.6" y="1366.5" width="18.8" height="8.5" fill="#4d4d4d"/>
<rect x="374.3" y="1366.5" width="18.8" height="8.5" fill="#999999"/>
<rect x="396" y="1366.5" width="18.8" height="8.5" fill="#e8932f"/>
<text x="420.8" y="1311.7" font-size="26" fill="#000">40 mV</text>
<text x="421.5" y="1376.6" font-size="26" fill="#000">-80 mV</text>
<path d="M420.5,1346 V1326.5 M415,1333 L420.5,1326 L426,1333" fill="none" stroke="#000" stroke-width="1.6"/>
<text x="442.5" y="1345.5" font-size="26" fill="#000"><tspan font-family="Liberation Serif, serif">Δ</tspan> +20 mV</text>
<text x="80.5" y="1407.2" font-size="25.5" fill="#1a1a1a">110 mM [NaCl]<tspan font-size="15.6" dy="8.58">i</tspan></text>
<text x="125" y="1437" font-size="26" fill="#1a1a1a">pH<tspan font-size="15.6" dy="8.58">i</tspan><tspan dy="-8.6" font-size="26" dx="1">7.2</tspan></text>
<path d="M106.5,1434.3 L99.5,1477.8 Q100.5,1483 105.5,1480.5 L138.7,1445.6" fill="none" stroke="#555" stroke-width="3.8" stroke-linejoin="round"/>
<!-- pe -->
<text x="788" y="603.5" font-size="46" class="b" fill="#000">E</text>
<path d="M893.0,683.5 H1333.3" stroke="#d4d4d4" stroke-width="1.4" fill="none"/>
<path d="M1180.7,615.3 V860.0 M1180.7,965.0 V970.0" stroke="#d4d4d4" stroke-width="1.4" fill="none"/>
<path d="M909.8,744.9 C921.1,740.9 955.0,727.9 977.5,721.0 C1000.1,714.1 1022.7,709.0 1045.3,703.3 C1067.8,697.6 1090.4,692.4 1113.0,686.9 C1135.6,681.5 1158.1,676.2 1180.7,670.5 C1203.3,664.9 1225.9,658.8 1248.5,652.8 C1271.0,646.8 1304.9,637.5 1316.2,634.4 L1316.2,645.3 C1304.9,647.7 1271.0,654.7 1248.5,659.6 C1225.9,664.5 1203.3,669.4 1180.7,674.6 C1158.1,679.9 1135.6,685.1 1113.0,691.0 C1090.4,696.9 1067.8,703.5 1045.3,710.1 C1022.7,716.7 1000.1,722.9 977.5,730.6 C955.0,738.2 921.1,751.6 909.8,755.8 Z" fill="#cfcfcf" stroke="none"/>
<path d="M909.8,929.0 C921.1,907.4 955.0,832.9 977.5,799.4 C1000.1,766.0 1022.7,745.7 1045.3,728.2 C1067.8,710.7 1090.4,703.2 1113.0,694.4 C1135.6,685.6 1158.1,680.7 1180.7,675.3 C1203.3,670.0 1225.9,666.9 1248.5,662.4 C1271.0,657.8 1304.9,650.4 1316.2,648.0 L1316.2,653.5 C1304.9,655.7 1271.0,662.4 1248.5,666.5 C1225.9,670.5 1203.3,672.9 1180.7,678.0 C1158.1,683.2 1135.6,688.2 1113.0,697.1 C1090.4,706.1 1067.8,713.6 1045.3,731.5 C1022.7,749.5 1000.1,770.6 977.5,804.9 C955.0,839.2 921.1,915.2 909.8,937.2 Z" fill="#bfe0bf" stroke="none"/>
<path d="M909.8,819.9 C921.1,809.4 955.0,773.3 977.5,756.9 C1000.1,740.5 1022.7,730.7 1045.3,721.4 C1067.8,712.1 1090.4,707.6 1113.0,701.2 C1135.6,694.9 1158.1,689.5 1180.7,683.5 C1203.3,677.5 1225.9,671.4 1248.5,665.5 C1271.0,659.6 1304.9,650.9 1316.2,648.0 L1316.2,653.5 C1304.9,656.0 1271.0,663.8 1248.5,668.8 C1225.9,673.8 1203.3,677.6 1180.7,683.5 C1158.1,689.4 1135.6,697.1 1113.0,704.0 C1090.4,710.8 1067.8,715.3 1045.3,724.7 C1022.7,734.1 1000.1,744.3 977.5,760.2 C955.0,776.0 921.1,809.9 909.8,819.9 Z" fill="#bdbdbd" stroke="none"/>
<path d="M909.8,819.9 C921.1,809.7 955.0,774.7 977.5,758.5 C1000.1,742.4 1022.7,732.4 1045.3,723.1 C1067.8,713.7 1090.4,709.2 1113.0,702.6 C1135.6,696.0 1158.1,689.4 1180.7,683.5 C1203.3,677.6 1225.9,672.6 1248.5,667.1 C1271.0,661.7 1304.9,653.5 1316.2,650.8" fill="none" stroke="#404040" stroke-width="1.5"/>
<path d="M909.8,933.1 C921.1,911.3 955.0,836.0 977.5,802.2 C1000.1,768.3 1022.7,747.6 1045.3,729.9 C1067.8,712.1 1090.4,704.6 1113.0,695.8 C1135.6,686.9 1158.1,681.9 1180.7,676.7 C1203.3,671.5 1225.9,668.7 1248.5,664.4 C1271.0,660.1 1304.9,653.0 1316.2,650.8" fill="none" stroke="#0b920b" stroke-width="1.5"/>
<path d="M909.8,750.3 C921.1,746.2 955.0,733.1 977.5,725.8 C1000.1,718.5 1022.7,712.8 1045.3,706.7 C1067.8,700.5 1090.4,694.6 1113.0,689.0 C1135.6,683.3 1158.1,678.0 1180.7,672.6 C1203.3,667.1 1225.9,661.7 1248.5,656.2 C1271.0,650.8 1304.9,642.6 1316.2,639.9" fill="none" stroke="#808080" stroke-width="1.5"/>
<circle cx="909.8" cy="819.9" r="6.8" fill="#fff" stroke="#404040" stroke-width="3"/>
<circle cx="977.5" cy="758.5" r="6.8" fill="#fff" stroke="#404040" stroke-width="3"/>
<circle cx="1045.3" cy="723.1" r="6.8" fill="#fff" stroke="#404040" stroke-width="3"/>
<circle cx="1113.0" cy="702.6" r="6.8" fill="#fff" stroke="#404040" stroke-width="3"/>
<circle cx="1180.7" cy="683.5" r="6.8" fill="#fff" stroke="#404040" stroke-width="3"/>
<circle cx="1248.5" cy="667.1" r="6.8" fill="#fff" stroke="#404040" stroke-width="3"/>
<circle cx="1316.2" cy="650.8" r="6.8" fill="#fff" stroke="#404040" stroke-width="3"/>
<circle cx="909.8" cy="933.1" r="6.8" fill="#fff" stroke="#0b920b" stroke-width="3"/>
<circle cx="977.5" cy="802.2" r="6.8" fill="#fff" stroke="#0b920b" stroke-width="3"/>
<circle cx="1045.3" cy="729.9" r="6.8" fill="#fff" stroke="#0b920b" stroke-width="3"/>
<circle cx="1113.0" cy="695.8" r="6.8" fill="#fff" stroke="#0b920b" stroke-width="3"/>
<circle cx="1180.7" cy="676.7" r="6.8" fill="#fff" stroke="#0b920b" stroke-width="3"/>
<circle cx="1248.5" cy="664.4" r="6.8" fill="#fff" stroke="#0b920b" stroke-width="3"/>
<circle cx="1316.2" cy="650.8" r="6.8" fill="#fff" stroke="#0b920b" stroke-width="3"/>
<circle cx="909.8" cy="750.3" r="6.8" fill="#fff" stroke="#808080" stroke-width="3"/>
<circle cx="977.5" cy="725.8" r="6.8" fill="#fff" stroke="#808080" stroke-width="3"/>
<circle cx="1045.3" cy="706.7" r="6.8" fill="#fff" stroke="#808080" stroke-width="3"/>
<circle cx="1113.0" cy="689.0" r="6.8" fill="#fff" stroke="#808080" stroke-width="3"/>
<circle cx="1180.7" cy="672.6" r="6.8" fill="#fff" stroke="#808080" stroke-width="3"/>
<circle cx="1248.5" cy="656.2" r="6.8" fill="#fff" stroke="#808080" stroke-width="3"/>
<circle cx="1316.2" cy="639.9" r="6.8" fill="#fff" stroke="#808080" stroke-width="3"/>
<path d="M893.0,615.3 V970.0 H1333.3" fill="none" stroke="#000" stroke-width="2.3" stroke-linecap="square"/>
<text x="881.5" y="623.6" font-size="25.5" text-anchor="end" fill="#000">0.5</text>
<text x="881.5" y="691.8" font-size="25.5" text-anchor="end" fill="#000">0.0</text>
<text x="881.5" y="760.0" font-size="25.5" text-anchor="end" fill="#000">-0.5</text>
<text x="881.5" y="828.2" font-size="25.5" text-anchor="end" fill="#000">-1.0</text>
<text x="881.5" y="896.4" font-size="25.5" text-anchor="end" fill="#000">-1.5</text>
<text x="881.5" y="964.6" font-size="25.5" text-anchor="end" fill="#000">-2.0</text>
<text x="909.8" y="1001.5" font-size="26" text-anchor="middle" fill="#000">-80</text>
<text x="977.5" y="1001.5" font-size="26" text-anchor="middle" fill="#000">-60</text>
<text x="1045.3" y="1001.5" font-size="26" text-anchor="middle" fill="#000">-40</text>
<text x="1113.0" y="1001.5" font-size="26" text-anchor="middle" fill="#000">-20</text>
<text x="1180.7" y="1001.5" font-size="26" text-anchor="middle" fill="#000">0</text>
<text x="1248.5" y="1001.5" font-size="26" text-anchor="middle" fill="#000">20</text>
<text x="1316.2" y="1001.5" font-size="26" text-anchor="middle" fill="#000">40</text>
<path d="M893.0,615.3 h-7.5 M893.0,683.5 h-7.5 M893.0,751.7 h-7.5 M893.0,819.9 h-7.5 M893.0,888.1 h-7.5 M893.0,956.3 h-7.5 M909.8,970.0 v7 M977.5,970.0 v7 M1045.3,970.0 v7 M1113.0,970.0 v7 M1180.7,970.0 v7 M1248.5,970.0 v7 M1316.2,970.0 v7" fill="none" stroke="#000" stroke-width="2.2"/>
<path d="M943.7,970.0 v3.6 M1011.4,970.0 v3.6 M1079.1,970.0 v3.6 M1146.9,970.0 v3.6 M1214.6,970.0 v3.6 M1282.3,970.0 v3.6" fill="none" stroke="#000" stroke-width="1.6"/>
<text transform="translate(824,788.5) rotate(-90)" font-size="31" text-anchor="middle" fill="#000">Normalized I<tspan font-size="19.5" dy="7">stat</tspan></text>
<text x="1112.6" y="1033.7" font-size="31" text-anchor="middle" fill="#000">Holding Potential [mV]</text>
<path d="M1062.0,878.3 H1120.4" stroke="#404040" stroke-width="1.5"/>
<circle cx="1091.0" cy="878.3" r="6.8" fill="#fff" stroke="#404040" stroke-width="3"/>
<text x="1127.4" y="886.2" font-size="25.5" fill="#000">140 mM [NaCl]</text>
<path d="M1062.0,910.5 H1120.4" stroke="#0b920b" stroke-width="1.5"/>
<circle cx="1091.0" cy="910.5" r="6.8" fill="#fff" stroke="#0b920b" stroke-width="3"/>
<text x="1127.4" y="919.4" font-size="25.5" fill="#000">70 mM [CaCl<tspan font-size="17.5" dy="5.5">2</tspan><tspan dy="-5.5">]</tspan></text>
<path d="M1062.0,947.5 H1120.4" stroke="#808080" stroke-width="1.5"/>
<circle cx="1091.0" cy="947.5" r="6.8" fill="#fff" stroke="#808080" stroke-width="3"/>
<text x="1127.4" y="955.7" font-size="25.5" fill="#000">140 mM [NMGCl]</text>
<text x="797" y="1112.6" font-size="46" class="b" fill="#000">I</text>
<path d="M888.6,1189.3 H1331.0" stroke="#d4d4d4" stroke-width="1.4" fill="none"/>
<path d="M1177.9,1120.2 V1366.6 M1177.9,1470.8 V1475.8" stroke="#d4d4d4" stroke-width="1.4" fill="none"/>
<path d="M905.8,1239.3 C917.1,1234.6 951.1,1218.2 973.8,1211.2 C996.5,1204.3 1019.2,1201.2 1041.8,1197.5 C1064.5,1193.8 1087.2,1191.8 1109.9,1189.0 C1132.5,1186.2 1155.2,1183.7 1177.9,1180.8 C1200.6,1177.9 1223.2,1174.6 1245.9,1171.5 C1268.6,1168.3 1302.6,1163.5 1313.9,1161.9 L1313.9,1170.1 C1302.6,1171.3 1268.6,1174.6 1245.9,1177.0 C1223.2,1179.3 1200.6,1181.5 1177.9,1184.1 C1155.2,1186.7 1132.5,1189.2 1109.9,1192.3 C1087.2,1195.5 1064.5,1198.0 1041.8,1203.0 C1019.2,1208.0 996.5,1214.1 973.8,1222.2 C951.1,1230.3 917.1,1246.7 905.8,1251.6 Z" fill="#cfcfcf" stroke="none"/>
<path d="M905.8,1427.7 C917.1,1408.7 951.1,1345.0 973.8,1314.0 C996.5,1282.9 1019.2,1260.3 1041.8,1241.4 C1064.5,1222.4 1087.2,1209.7 1109.9,1200.3 C1132.5,1190.8 1155.2,1188.2 1177.9,1184.5 C1200.6,1180.9 1223.2,1180.5 1245.9,1178.3 C1268.6,1176.2 1302.6,1172.6 1313.9,1171.5 L1313.9,1179.7 C1302.6,1180.4 1268.6,1182.3 1245.9,1183.8 C1223.2,1185.3 1200.6,1185.0 1177.9,1188.6 C1155.2,1192.3 1132.5,1195.1 1109.9,1205.7 C1087.2,1216.4 1064.5,1231.1 1041.8,1252.3 C1019.2,1273.6 996.5,1295.2 973.8,1333.1 C951.1,1371.1 917.1,1455.3 905.8,1479.7 Z" fill="#f8c49a" stroke="none"/>
<path d="M905.8,1326.3 C917.1,1314.8 951.1,1274.4 973.8,1257.1 C996.5,1239.9 1019.2,1231.9 1041.8,1222.9 C1064.5,1213.8 1087.2,1208.4 1109.9,1203.0 C1132.5,1197.6 1155.2,1195.1 1177.9,1190.7 C1200.6,1186.3 1223.2,1181.0 1245.9,1176.7 C1268.6,1172.4 1302.6,1166.6 1313.9,1164.6 L1313.9,1170.1 C1302.6,1171.8 1268.6,1176.6 1245.9,1180.0 C1223.2,1183.4 1200.6,1186.4 1177.9,1190.7 C1155.2,1195.0 1132.5,1199.7 1109.9,1205.7 C1087.2,1211.8 1064.5,1217.7 1041.8,1227.0 C1019.2,1236.2 996.5,1244.7 973.8,1261.2 C951.1,1277.8 917.1,1315.5 905.8,1326.3 Z" fill="#bdbdbd" stroke="none"/>
<path d="M905.8,1326.3 C917.1,1315.1 951.1,1276.1 973.8,1259.2 C996.5,1242.3 1019.2,1234.1 1041.8,1224.9 C1064.5,1215.8 1087.2,1210.1 1109.9,1204.4 C1132.5,1198.7 1155.2,1195.0 1177.9,1190.7 C1200.6,1186.3 1223.2,1182.2 1245.9,1178.3 C1268.6,1174.5 1302.6,1169.2 1313.9,1167.4" fill="none" stroke="#404040" stroke-width="1.5"/>
<path d="M905.8,1453.7 C917.1,1432.0 951.1,1358.0 973.8,1323.6 C996.5,1289.1 1019.2,1266.9 1041.8,1246.8 C1064.5,1226.7 1087.2,1213.0 1109.9,1203.0 C1132.5,1193.0 1155.2,1190.2 1177.9,1186.6 C1200.6,1182.9 1223.2,1182.9 1245.9,1181.1 C1268.6,1179.3 1302.6,1176.5 1313.9,1175.6" fill="none" stroke="#f0802c" stroke-width="1.5"/>
<path d="M905.8,1245.5 C917.1,1240.7 951.1,1224.2 973.8,1216.7 C996.5,1209.2 1019.2,1204.6 1041.8,1200.3 C1064.5,1195.9 1087.2,1193.6 1109.9,1190.7 C1132.5,1187.7 1155.2,1185.2 1177.9,1182.5 C1200.6,1179.7 1223.2,1177.0 1245.9,1174.2 C1268.6,1171.5 1302.6,1167.4 1313.9,1166.0" fill="none" stroke="#808080" stroke-width="1.5"/>
<circle cx="905.8" cy="1326.3" r="6.8" fill="#fff" stroke="#404040" stroke-width="3"/>
<circle cx="973.8" cy="1259.2" r="6.8" fill="#fff" stroke="#404040" stroke-width="3"/>
<circle cx="1041.8" cy="1224.9" r="6.8" fill="#fff" stroke="#404040" stroke-width="3"/>
<circle cx="1109.9" cy="1204.4" r="6.8" fill="#fff" stroke="#404040" stroke-width="3"/>
<circle cx="1177.9" cy="1190.7" r="6.8" fill="#fff" stroke="#404040" stroke-width="3"/>
<circle cx="1245.9" cy="1178.3" r="6.8" fill="#fff" stroke="#404040" stroke-width="3"/>
<circle cx="1313.9" cy="1167.4" r="6.8" fill="#fff" stroke="#404040" stroke-width="3"/>
<circle cx="905.8" cy="1453.7" r="6.8" fill="#fff" stroke="#f0802c" stroke-width="3"/>
<circle cx="973.8" cy="1323.6" r="6.8" fill="#fff" stroke="#f0802c" stroke-width="3"/>
<circle cx="1041.8" cy="1246.8" r="6.8" fill="#fff" stroke="#f0802c" stroke-width="3"/>
<circle cx="1109.9" cy="1203.0" r="6.8" fill="#fff" stroke="#f0802c" stroke-width="3"/>
<circle cx="1177.9" cy="1186.6" r="6.8" fill="#fff" stroke="#f0802c" stroke-width="3"/>
<circle cx="1245.9" cy="1181.1" r="6.8" fill="#fff" stroke="#f0802c" stroke-width="3"/>
<circle cx="1313.9" cy="1175.6" r="6.8" fill="#fff" stroke="#f0802c" stroke-width="3"/>
<circle cx="905.8" cy="1245.5" r="6.8" fill="#fff" stroke="#808080" stroke-width="3"/>
<circle cx="973.8" cy="1216.7" r="6.8" fill="#fff" stroke="#808080" stroke-width="3"/>
<circle cx="1041.8" cy="1200.3" r="6.8" fill="#fff" stroke="#808080" stroke-width="3"/>
<circle cx="1109.9" cy="1190.7" r="6.8" fill="#fff" stroke="#808080" stroke-width="3"/>
<circle cx="1177.9" cy="1182.5" r="6.8" fill="#fff" stroke="#808080" stroke-width="3"/>
<circle cx="1245.9" cy="1174.2" r="6.8" fill="#fff" stroke="#808080" stroke-width="3"/>
<circle cx="1313.9" cy="1166.0" r="6.8" fill="#fff" stroke="#808080" stroke-width="3"/>
<path d="M888.6,1120.2 V1475.8 H1331.0" fill="none" stroke="#000" stroke-width="2.3" stroke-linecap="square"/>
<text x="877.1" y="1129.1" font-size="25.5" text-anchor="end" fill="#000">0.5</text>
<text x="877.1" y="1197.6" font-size="25.5" text-anchor="end" fill="#000">0.0</text>
<text x="877.1" y="1266.1" font-size="25.5" text-anchor="end" fill="#000">-0.5</text>
<text x="877.1" y="1334.6" font-size="25.5" text-anchor="end" fill="#000">-1.0</text>
<text x="877.1" y="1403.1" font-size="25.5" text-anchor="end" fill="#000">-1.5</text>
<text x="877.1" y="1471.6" font-size="25.5" text-anchor="end" fill="#000">-2.0</text>
<text x="905.8" y="1507.6" font-size="26" text-anchor="middle" fill="#000">-80</text>
<text x="973.8" y="1507.6" font-size="26" text-anchor="middle" fill="#000">-60</text>
<text x="1041.8" y="1507.6" font-size="26" text-anchor="middle" fill="#000">-40</text>
<text x="1109.9" y="1507.6" font-size="26" text-anchor="middle" fill="#000">-20</text>
<text x="1177.9" y="1507.6" font-size="26" text-anchor="middle" fill="#000">0</text>
<text x="1245.9" y="1507.6" font-size="26" text-anchor="middle" fill="#000">20</text>
<text x="1313.9" y="1507.6" font-size="26" text-anchor="middle" fill="#000">40</text>
<path d="M888.6,1120.8 h-7.5 M888.6,1189.3 h-7.5 M888.6,1257.8 h-7.5 M888.6,1326.3 h-7.5 M888.6,1394.8 h-7.5 M888.6,1463.3 h-7.5 M905.8,1475.8 v7 M973.8,1475.8 v7 M1041.8,1475.8 v7 M1109.9,1475.8 v7 M1177.9,1475.8 v7 M1245.9,1475.8 v7 M1313.9,1475.8 v7" fill="none" stroke="#000" stroke-width="2.2"/>
<path d="M939.8,1475.8 v3.6 M1007.8,1475.8 v3.6 M1075.8,1475.8 v3.6 M1143.9,1475.8 v3.6 M1211.9,1475.8 v3.6 M1279.9,1475.8 v3.6" fill="none" stroke="#000" stroke-width="1.6"/>
<text transform="translate(822,1290.7) rotate(-90)" font-size="31" text-anchor="middle" fill="#000">Normalized I<tspan font-size="19.5" dy="7">stat</tspan></text>
<text x="1109.3" y="1541.6" font-size="31" text-anchor="middle" fill="#000">Holding Potential [mV]</text>
<path d="M1060.4,1384.4 H1119.7" stroke="#404040" stroke-width="1.5"/>
<circle cx="1090.2" cy="1384.4" r="6.8" fill="#fff" stroke="#404040" stroke-width="3"/>
<text x="1126.8" y="1392.5" font-size="25.5" fill="#000">140 mM [NaCl]</text>
<path d="M1060.4,1417.8 H1119.7" stroke="#f0802c" stroke-width="1.5"/>
<circle cx="1090.2" cy="1417.8" r="6.8" fill="#fff" stroke="#f0802c" stroke-width="3"/>
<text x="1126.8" y="1425.9" font-size="25.5" fill="#000">70 mM [CaCl<tspan font-size="17.5" dy="5.5">2</tspan><tspan dy="-5.5">]</tspan></text>
<path d="M1060.4,1454.8 H1119.7" stroke="#808080" stroke-width="1.5"/>
<circle cx="1090.2" cy="1454.8" r="6.8" fill="#fff" stroke="#808080" stroke-width="3"/>
<text x="1126.8" y="1463.2" font-size="25.5" fill="#000">140 mM [NMGCl]</text>
<!-- pf -->
<text x="1347" y="603.5" font-size="46" class="b" fill="#000">F</text>
<path d="M1457.0,839.4 H1660.6" stroke="#c8c8c8" stroke-width="2.8" stroke-dasharray="9.5 8.5" fill="none"/>
<path d="M1457.0,714.9 H1660.6" stroke="#c8c8c8" stroke-width="2.8" stroke-dasharray="9.5 8.5" fill="none"/>
<rect x="1461.2" y="729.8" width="24.2" height="234.1" fill="#629a7c" stroke="#000" stroke-width="2.6"/>
<rect x="1494.5" y="746.0" width="24.2" height="217.9" fill="#8bb992" stroke="#000" stroke-width="2.6"/>
<rect x="1528.3" y="821.3" width="24.2" height="142.6" fill="#aed5a5" stroke="#000" stroke-width="2.6"/>
<rect x="1562.5" y="839.4" width="24.2" height="124.5" fill="#c3ddb3" stroke="#000" stroke-width="2.6"/>
<rect x="1596.2" y="891.1" width="24.2" height="72.8" fill="#c5d3bd" stroke="#000" stroke-width="2.6"/>
<rect x="1629.9" y="906.6" width="24.2" height="57.3" fill="#c6c2c2" stroke="#000" stroke-width="2.6"/>
<path d="M1473.3,709.9 V749.8 M1467.6,709.9 h11.4 M1467.6,749.8 h11.4" stroke="#000" stroke-width="2.2" fill="none"/>
<path d="M1506.6,738.6 V753.5 M1500.9,738.6 h11.4 M1500.9,753.5 h11.4" stroke="#000" stroke-width="2.2" fill="none"/>
<path d="M1540.4,816.4 V826.3 M1534.7,816.4 h11.4 M1534.7,826.3 h11.4" stroke="#000" stroke-width="2.2" fill="none"/>
<path d="M1608.3,887.3 V894.8 M1602.6,887.3 h11.4 M1602.6,894.8 h11.4" stroke="#000" stroke-width="2.2" fill="none"/>
<path d="M1642.0,901.6 V911.6 M1636.3,901.6 h11.4 M1636.3,911.6 h11.4" stroke="#000" stroke-width="2.2" fill="none"/>
<circle cx="1473.3" cy="680.0" r="5.4" fill="#808080"/>
<circle cx="1471.8" cy="703.7" r="5.4" fill="#808080"/>
<circle cx="1472.3" cy="719.9" r="5.4" fill="#808080"/>
<circle cx="1473.3" cy="758.5" r="5.4" fill="#808080"/>
<circle cx="1471.8" cy="787.1" r="5.4" fill="#808080"/>
<circle cx="1507.6" cy="710.5" r="5.4" fill="#808080"/>
<circle cx="1505.6" cy="718.6" r="5.4" fill="#808080"/>
<circle cx="1503.6" cy="729.8" r="5.4" fill="#808080"/>
<circle cx="1501.6" cy="733.6" r="5.4" fill="#808080"/>
<circle cx="1510.6" cy="736.7" r="5.4" fill="#808080"/>
<circle cx="1503.6" cy="743.5" r="5.4" fill="#808080"/>
<circle cx="1508.6" cy="745.4" r="5.4" fill="#808080"/>
<circle cx="1506.6" cy="758.5" r="5.4" fill="#808080"/>
<circle cx="1505.6" cy="791.5" r="5.4" fill="#808080"/>
<circle cx="1509.1" cy="796.4" r="5.4" fill="#808080"/>
<circle cx="1541.4" cy="811.4" r="5.4" fill="#808080"/>
<circle cx="1538.4" cy="823.8" r="5.4" fill="#808080"/>
<circle cx="1540.9" cy="826.9" r="5.4" fill="#808080"/>
<circle cx="1568.6" cy="839.4" r="5.4" fill="#808080"/>
<circle cx="1571.6" cy="839.4" r="5.4" fill="#808080"/>
<circle cx="1574.6" cy="839.4" r="5.4" fill="#808080"/>
<circle cx="1577.6" cy="839.4" r="5.4" fill="#808080"/>
<circle cx="1580.6" cy="839.4" r="5.4" fill="#808080"/>
<circle cx="1606.3" cy="886.7" r="5.4" fill="#808080"/>
<circle cx="1610.3" cy="886.7" r="5.4" fill="#808080"/>
<circle cx="1608.3" cy="889.2" r="5.4" fill="#808080"/>
<circle cx="1607.3" cy="901.6" r="5.4" fill="#808080"/>
<circle cx="1641.0" cy="895.4" r="5.4" fill="#808080"/>
<circle cx="1643.0" cy="900.4" r="5.4" fill="#808080"/>
<circle cx="1642.0" cy="906.6" r="5.4" fill="#808080"/>
<circle cx="1641.0" cy="912.9" r="5.4" fill="#808080"/>
<circle cx="1642.5" cy="915.3" r="5.4" fill="#808080"/>
<path d="M1456.0,590.4 V963.9 H1657.1" fill="none" stroke="#000" stroke-width="2.8" stroke-linecap="square"/>
<text x="1441.2" y="972.0" font-size="22.5" text-anchor="end" fill="#000">0</text>
<text x="1441.2" y="847.5" font-size="22.5" text-anchor="end" fill="#000">1</text>
<text x="1441.2" y="723.0" font-size="22.5" text-anchor="end" fill="#000">2</text>
<text x="1441.2" y="598.5" font-size="22.5" text-anchor="end" fill="#000">3</text>
<path d="M1456.0,963.9 h-8 M1456.0,839.4 h-8 M1456.0,714.9 h-8 M1456.0,590.4 h-8 M1473.3,963.9 v7.5 M1506.6,963.9 v7.5 M1540.4,963.9 v7.5 M1574.6,963.9 v7.5 M1608.3,963.9 v7.5 M1642.0,963.9 v7.5" fill="none" stroke="#000" stroke-width="2.4"/>
<path d="M1456.0,901.6 h-4 M1456.0,777.1 h-4 M1456.0,652.6 h-4" fill="none" stroke="#000" stroke-width="1.8"/>
<text x="1431.5" y="569.5" font-size="19.5" class="b" fill="#666" textLength="263" lengthAdjust="spacingAndGlyphs">Ca<tspan font-size="12" dy="-7">2+</tspan><tspan dy="7">  &gt; K</tspan><tspan font-size="12" dy="-7">+</tspan><tspan dy="7"> &gt; Na</tspan><tspan font-size="12" dy="-7">+</tspan><tspan dy="7"> &gt; Mg</tspan><tspan font-size="12" dy="-7">2+</tspan><tspan dy="7"> &gt; H</tspan><tspan font-size="12" dy="-7">+</tspan></text>
<defs><linearGradient id="gF" gradientUnits="userSpaceOnUse" x1="1461.8" y1="0" x2="1663.4" y2="0"><stop offset="0" stop-color="#0b9444"/><stop offset="0.55" stop-color="#3f9a63"/><stop offset="1" stop-color="#9a9a9a"/></linearGradient></defs>
<polygon points="1461.8,579.6 1663.4,580.2 1462.4,597.0" fill="#fff" stroke="url(#gF)" stroke-width="2.8" stroke-linejoin="miter"/>
<text transform="translate(1415,778.8) rotate(-90)" font-size="27.5" text-anchor="middle" fill="#000">Normalized I<tspan font-size="17" dy="6.5">stat</tspan><tspan dy="-6.5"> at -80 mV</tspan></text>
<g transform="translate(1487.8,979.9) rotate(-45)"><text font-size="20.7" text-anchor="end" fill="#000">pH 7.2</text></g>
<g transform="translate(1521.1,979.9) rotate(-45)"><text font-size="20.7" text-anchor="end" fill="#000">pH 9</text></g>
<g transform="translate(1554.9,979.9) rotate(-45)"><text font-size="20.7" text-anchor="end" fill="#000">[KCl]</text><text x="0.6" y="4.6" font-size="12.6" fill="#000">e</text></g>
<g transform="translate(1589.1,979.9) rotate(-45)"><text font-size="20.7" text-anchor="end" fill="#000">[NaCl]</text><text x="0.6" y="4.6" font-size="12.6" fill="#000">e</text></g>
<g transform="translate(1622.8,979.9) rotate(-45)"><text font-size="20.7" text-anchor="end" fill="#000">[MgCl]</text><text x="0.6" y="4.6" font-size="12.6" fill="#000">2</text></g>
<g transform="translate(1656.5,979.9) rotate(-45)"><text font-size="20.7" text-anchor="end" fill="#000">[NMGCl]</text><text x="0.6" y="4.6" font-size="12.6" fill="#000">e</text></g>
<path d="M1469.3,1020.4 H1505.4" stroke="#000" stroke-width="2.2"/>
<text x="1454.8" y="1042" font-size="20" fill="#000">[CaCl<tspan font-size="12.4" dy="5.6">2</tspan><tspan dy="-5.6">]</tspan><tspan font-size="12.4" dy="5.6">e</tspan></text>
<text x="1352" y="1112.6" font-size="46" class="b" fill="#000">J</text>
<path d="M1463.9,1366.5 H1668.0" stroke="#c8c8c8" stroke-width="2.8" stroke-dasharray="9.5 8.5" fill="none"/>
<path d="M1463.9,1239.8 H1668.0" stroke="#c8c8c8" stroke-width="2.8" stroke-dasharray="9.5 8.5" fill="none"/>
<rect x="1467.6" y="1248.7" width="25.0" height="244.5" fill="#e8962e" stroke="#000" stroke-width="2.6"/>
<rect x="1502.2" y="1304.4" width="25.0" height="188.8" fill="#eead58" stroke="#000" stroke-width="2.6"/>
<rect x="1537.7" y="1360.2" width="25.0" height="133.0" fill="#f2c07f" stroke="#000" stroke-width="2.6"/>
<rect x="1572.3" y="1366.5" width="25.0" height="126.7" fill="#ecc99b" stroke="#000" stroke-width="2.6"/>
<rect x="1606.9" y="1441.9" width="25.0" height="51.3" fill="#dcc5aa" stroke="#000" stroke-width="2.6"/>
<rect x="1641.7" y="1466.6" width="25.0" height="26.6" fill="#c2c2c9" stroke="#000" stroke-width="2.6"/>
<path d="M1480.1,1227.8 V1269.6 M1474.4,1227.8 h11.4 M1474.4,1269.6 h11.4" stroke="#000" stroke-width="2.2" fill="none"/>
<path d="M1514.7,1281.0 V1327.9 M1509.0,1281.0 h11.4 M1509.0,1327.9 h11.4" stroke="#000" stroke-width="2.2" fill="none"/>
<path d="M1550.2,1357.6 V1362.7 M1544.5,1357.6 h11.4 M1544.5,1362.7 h11.4" stroke="#000" stroke-width="2.2" fill="none"/>
<path d="M1619.4,1435.6 V1448.2 M1613.7,1435.6 h11.4 M1613.7,1448.2 h11.4" stroke="#000" stroke-width="2.2" fill="none"/>
<path d="M1654.2,1464.1 V1469.1 M1648.5,1464.1 h11.4 M1648.5,1469.1 h11.4" stroke="#000" stroke-width="2.2" fill="none"/>
<circle cx="1481.1" cy="1166.9" r="5.4" fill="#808080"/>
<circle cx="1480.1" cy="1188.5" r="5.4" fill="#808080"/>
<circle cx="1479.6" cy="1239.8" r="5.4" fill="#808080"/>
<circle cx="1480.6" cy="1255.0" r="5.4" fill="#808080"/>
<circle cx="1480.1" cy="1292.4" r="5.4" fill="#808080"/>
<circle cx="1479.6" cy="1297.4" r="5.4" fill="#808080"/>
<circle cx="1479.1" cy="1303.2" r="5.4" fill="#808080"/>
<circle cx="1517.7" cy="1242.3" r="5.4" fill="#808080"/>
<circle cx="1516.7" cy="1266.4" r="5.4" fill="#808080"/>
<circle cx="1515.2" cy="1310.8" r="5.4" fill="#808080"/>
<circle cx="1513.2" cy="1329.8" r="5.4" fill="#808080"/>
<circle cx="1514.7" cy="1373.5" r="5.4" fill="#808080"/>
<circle cx="1552.2" cy="1354.5" r="5.4" fill="#808080"/>
<circle cx="1550.2" cy="1360.2" r="5.4" fill="#808080"/>
<circle cx="1549.2" cy="1362.7" r="5.4" fill="#808080"/>
<circle cx="1578.8" cy="1366.5" r="5.4" fill="#808080"/>
<circle cx="1581.8" cy="1366.5" r="5.4" fill="#808080"/>
<circle cx="1584.8" cy="1366.5" r="5.4" fill="#808080"/>
<circle cx="1587.8" cy="1366.5" r="5.4" fill="#808080"/>
<circle cx="1590.8" cy="1366.5" r="5.4" fill="#808080"/>
<circle cx="1616.4" cy="1417.8" r="5.4" fill="#808080"/>
<circle cx="1622.4" cy="1434.9" r="5.4" fill="#808080"/>
<circle cx="1618.4" cy="1436.8" r="5.4" fill="#808080"/>
<circle cx="1621.4" cy="1453.9" r="5.4" fill="#808080"/>
<circle cx="1616.4" cy="1455.8" r="5.4" fill="#808080"/>
<circle cx="1624.4" cy="1455.2" r="5.4" fill="#808080"/>
<circle cx="1656.2" cy="1463.4" r="5.4" fill="#808080"/>
<circle cx="1653.2" cy="1467.9" r="5.4" fill="#808080"/>
<circle cx="1655.7" cy="1471.7" r="5.4" fill="#808080"/>
<path d="M1462.9,1113.1 V1493.2 H1669.7" fill="none" stroke="#000" stroke-width="2.8" stroke-linecap="square"/>
<text x="1448.1" y="1374.6" font-size="22.5" text-anchor="end" fill="#000">1</text>
<text x="1448.1" y="1247.9" font-size="22.5" text-anchor="end" fill="#000">2</text>
<text x="1448.1" y="1121.2" font-size="22.5" text-anchor="end" fill="#000">3</text>
<path d="M1462.9,1493.2 h-8 M1462.9,1366.5 h-8 M1462.9,1239.8 h-8 M1462.9,1113.1 h-8 M1480.1,1493.2 v7.5 M1514.7,1493.2 v7.5 M1550.2,1493.2 v7.5 M1584.8,1493.2 v7.5 M1619.4,1493.2 v7.5 M1654.2,1493.2 v7.5" fill="none" stroke="#000" stroke-width="2.4"/>
<path d="M1462.9,1429.9 h-4 M1462.9,1303.2 h-4 M1462.9,1176.5 h-4" fill="none" stroke="#000" stroke-width="1.8"/>
<text x="1447" y="1091.5" font-size="19.5" class="b" fill="#666" textLength="261" lengthAdjust="spacingAndGlyphs">Ca<tspan font-size="12" dy="-7">2+</tspan><tspan dy="7">  &gt; K</tspan><tspan font-size="12" dy="-7">+</tspan><tspan dy="7"> ~ Na</tspan><tspan font-size="12" dy="-7">+</tspan><tspan dy="7"> &gt; H</tspan><tspan font-size="12" dy="-7">+</tspan><tspan dy="7"> &gt; Mg</tspan><tspan font-size="12" dy="-7">2+</tspan></text>
<defs><linearGradient id="gJ" gradientUnits="userSpaceOnUse" x1="1470.5" y1="0" x2="1674" y2="0"><stop offset="0" stop-color="#f7941d"/><stop offset="0.55" stop-color="#e0a060"/><stop offset="1" stop-color="#9a9a9a"/></linearGradient></defs>
<polygon points="1470.5,1100.0 1674.0,1100.5 1471.0,1117.0" fill="#fff" stroke="url(#gJ)" stroke-width="2.8" stroke-linejoin="miter"/>
<text transform="translate(1413,1295) rotate(-90)" font-size="27.5" text-anchor="middle" fill="#000">Normalized I<tspan font-size="17" dy="6.5">stat</tspan><tspan dy="-6.5"> at -80 mV</tspan></text>
<g transform="translate(1494.6,1509.2) rotate(-45)"><text font-size="20.7" text-anchor="end" fill="#000">pH 7.2</text></g>
<g transform="translate(1529.2,1509.2) rotate(-45)"><text font-size="20.7" text-anchor="end" fill="#000">pH 9</text></g>
<g transform="translate(1564.7,1509.2) rotate(-45)"><text font-size="20.7" text-anchor="end" fill="#000">[KCl]</text><text x="0.6" y="4.6" font-size="12.6" fill="#000">e</text></g>
<g transform="translate(1599.3,1509.2) rotate(-45)"><text font-size="20.7" text-anchor="end" fill="#000">[NaCl]</text><text x="0.6" y="4.6" font-size="12.6" fill="#000">e</text></g>
<g transform="translate(1633.9,1509.2) rotate(-45)"><text font-size="20.7" text-anchor="end" fill="#000">[NMGCl]</text><text x="0.6" y="4.6" font-size="12.6" fill="#000">e</text></g>
<g transform="translate(1668.7,1509.2) rotate(-45)"><text font-size="20.7" text-anchor="end" fill="#000">[MgCl]</text><text x="0.6" y="4.6" font-size="12.6" fill="#000">2</text></g>
<path d="M1478.5,1547.5 H1514.5" stroke="#000" stroke-width="2.2"/>
<text x="1464" y="1569.5" font-size="20" fill="#000">[CaCl<tspan font-size="12.4" dy="5.6">2</tspan><tspan dy="-5.6">]</tspan><tspan font-size="12.4" dy="5.6">e</tspan></text>
<!-- pg -->
<text x="1707" y="603.9" font-size="46" class="b" fill="#000">G</text>
<path d="M1796.5,628.7 H2002.2" stroke="#c6c6c6" stroke-width="2.8" stroke-dasharray="9.5 8.5" fill="none"/>
<path d="M1796.5,713.0 H2002.2" stroke="#c6c6c6" stroke-width="2.8" stroke-dasharray="9.5 8.5" fill="none"/>
<path d="M1796.5,797.3 H2002.2" stroke="#c6c6c6" stroke-width="2.8" stroke-dasharray="9.5 8.5" fill="none"/>
<path d="M1796.5,881.6 H2002.2" stroke="#c6c6c6" stroke-width="2.8" stroke-dasharray="9.5 8.5" fill="none"/>
<path d="M1812.7,792.2 V831.4 M1806.7,792.2 h12 M1806.7,831.4 h12" stroke="#000" stroke-width="2.3" fill="none"/>
<rect x="1800.9" y="798.6" width="23.6" height="26.6" fill="#5f9a7c" stroke="#000" stroke-width="2.5"/>
<path d="M1846.9,773.7 V802.8 M1840.9,773.7 h12 M1840.9,802.8 h12" stroke="#000" stroke-width="2.3" fill="none"/>
<rect x="1835.1" y="778.8" width="23.6" height="19.4" fill="#8cbc94" stroke="#000" stroke-width="2.5"/>
<path d="M1881.9,649.8 V668.3 M1875.9,649.8 h12 M1875.9,668.3 h12" stroke="#000" stroke-width="2.3" fill="none"/>
<rect x="1870.1" y="652.7" width="23.6" height="13.1" fill="#acd7a0" stroke="#000" stroke-width="2.5"/>
<path d="M1916.3,703.3 V724.4 M1910.3,703.3 h12 M1910.3,724.4 h12" stroke="#000" stroke-width="2.3" fill="none"/>
<rect x="1904.5" y="707.1" width="23.6" height="14.8" fill="#c5e0b4" stroke="#000" stroke-width="2.5"/>
<path d="M1951.2,797.7 V834.8 M1945.2,797.7 h12 M1945.2,834.8 h12" stroke="#000" stroke-width="2.3" fill="none"/>
<rect x="1939.4" y="803.2" width="23.6" height="25.7" fill="#c5d3bc" stroke="#000" stroke-width="2.5"/>
<path d="M1985.6,742.5 V776.2 M1979.6,742.5 h12 M1979.6,776.2 h12" stroke="#000" stroke-width="2.3" fill="none"/>
<rect x="1973.8" y="748.8" width="23.6" height="23.2" fill="#c8c4c4" stroke="#000" stroke-width="2.5"/>
<circle cx="1813.2" cy="764.7" r="5.4" fill="#808080" fill-opacity="0.92"/>
<circle cx="1811.7" cy="813.0" r="5.4" fill="#808080" fill-opacity="0.92"/>
<circle cx="1811.2" cy="829.3" r="5.4" fill="#808080" fill-opacity="0.92"/>
<circle cx="1813.2" cy="839.5" r="5.4" fill="#808080" fill-opacity="0.92"/>
<circle cx="1843.4" cy="726.3" r="5.4" fill="#808080" fill-opacity="0.92"/>
<circle cx="1849.9" cy="733.0" r="5.4" fill="#808080" fill-opacity="0.92"/>
<circle cx="1844.9" cy="767.1" r="5.4" fill="#808080" fill-opacity="0.92"/>
<circle cx="1847.9" cy="767.1" r="5.4" fill="#808080" fill-opacity="0.92"/>
<circle cx="1844.4" cy="780.4" r="5.4" fill="#808080" fill-opacity="0.92"/>
<circle cx="1843.9" cy="802.8" r="5.4" fill="#808080" fill-opacity="0.92"/>
<circle cx="1849.9" cy="807.9" r="5.4" fill="#808080" fill-opacity="0.92"/>
<circle cx="1845.9" cy="813.0" r="5.4" fill="#808080" fill-opacity="0.92"/>
<circle cx="1844.9" cy="823.2" r="5.4" fill="#808080" fill-opacity="0.92"/>
<circle cx="1850.9" cy="821.8" r="5.4" fill="#808080" fill-opacity="0.92"/>
<circle cx="1879.1" cy="649.4" r="5.4" fill="#808080" fill-opacity="0.92"/>
<circle cx="1881.6" cy="655.9" r="5.4" fill="#808080" fill-opacity="0.92"/>
<circle cx="1881.2" cy="670.8" r="5.4" fill="#808080" fill-opacity="0.92"/>
<circle cx="1917.3" cy="668.1" r="5.4" fill="#808080" fill-opacity="0.92"/>
<circle cx="1918.3" cy="671.8" r="5.4" fill="#808080" fill-opacity="0.92"/>
<circle cx="1916.3" cy="689.0" r="5.4" fill="#808080" fill-opacity="0.92"/>
<circle cx="1915.3" cy="696.7" r="5.4" fill="#808080" fill-opacity="0.92"/>
<circle cx="1919.3" cy="699.2" r="5.4" fill="#808080" fill-opacity="0.92"/>
<circle cx="1911.3" cy="712.0" r="5.4" fill="#808080" fill-opacity="0.92"/>
<circle cx="1912.3" cy="721.2" r="5.4" fill="#808080" fill-opacity="0.92"/>
<circle cx="1914.3" cy="727.3" r="5.4" fill="#808080" fill-opacity="0.92"/>
<circle cx="1917.3" cy="726.9" r="5.4" fill="#808080" fill-opacity="0.92"/>
<circle cx="1917.3" cy="738.1" r="5.4" fill="#808080" fill-opacity="0.92"/>
<circle cx="1915.3" cy="748.7" r="5.4" fill="#808080" fill-opacity="0.92"/>
<circle cx="1917.8" cy="757.3" r="5.4" fill="#808080" fill-opacity="0.92"/>
<circle cx="1950.0" cy="785.5" r="5.4" fill="#808080" fill-opacity="0.92"/>
<circle cx="1953.0" cy="789.5" r="5.4" fill="#808080" fill-opacity="0.92"/>
<circle cx="1950.0" cy="804.8" r="5.4" fill="#808080" fill-opacity="0.92"/>
<circle cx="1954.0" cy="807.9" r="5.4" fill="#808080" fill-opacity="0.92"/>
<circle cx="1951.4" cy="852.8" r="5.4" fill="#808080" fill-opacity="0.92"/>
<circle cx="1951.4" cy="855.2" r="5.4" fill="#808080" fill-opacity="0.92"/>
<circle cx="1983.6" cy="736.5" r="5.4" fill="#808080" fill-opacity="0.92"/>
<circle cx="1985.6" cy="744.6" r="5.4" fill="#808080" fill-opacity="0.92"/>
<circle cx="1988.6" cy="777.9" r="5.4" fill="#808080" fill-opacity="0.92"/>
<circle cx="1983.6" cy="782.4" r="5.4" fill="#808080" fill-opacity="0.92"/>
<path d="M1797.9,812.1 H1827.5" stroke="#000" stroke-width="2.3"/>
<path d="M1832.1,788.0 H1861.7" stroke="#000" stroke-width="2.3"/>
<path d="M1867.1,659.5 H1896.7" stroke="#000" stroke-width="2.3"/>
<path d="M1901.5,714.3 H1931.1" stroke="#000" stroke-width="2.3"/>
<path d="M1936.4,815.8 H1966.0" stroke="#000" stroke-width="2.3"/>
<path d="M1970.8,760.2 H2000.4" stroke="#000" stroke-width="2.3"/>
<rect x="1795.0" y="587.0" width="208.2" height="379.0" fill="none" stroke="#000" stroke-width="2.7"/>
<text x="1782.5" y="636.8" font-size="22.5" text-anchor="end" fill="#000">10</text>
<text x="1782.5" y="721.1" font-size="22.5" text-anchor="end" fill="#000">0</text>
<text x="1782.5" y="805.4" font-size="22.5" text-anchor="end" fill="#000">-10</text>
<text x="1782.5" y="889.7" font-size="22.5" text-anchor="end" fill="#000">-20</text>
<text x="1782.5" y="974.0" font-size="22.5" text-anchor="end" fill="#000">-30</text>
<path d="M1795.0,628.7 h-8 M1795.0,713.0 h-8 M1795.0,797.3 h-8 M1795.0,881.6 h-8 M1795.0,965.9 h-8 M1812.7,966.0 v7.5 M1846.9,966.0 v7.5 M1881.9,966.0 v7.5 M1916.3,966.0 v7.5 M1951.2,966.0 v7.5 M1985.6,966.0 v7.5" fill="none" stroke="#000" stroke-width="2.4"/>
<path d="M1795.0,586.5 h-4 M1795.0,670.9 h-4 M1795.0,755.1 h-4 M1795.0,839.5 h-4 M1795.0,923.8 h-4" fill="none" stroke="#000" stroke-width="1.8"/>
<text transform="translate(1732.5,777.5) rotate(-90)" font-size="28.5" text-anchor="middle" fill="#000">E<tspan font-size="18" dy="7">rev</tspan><tspan dy="-7"> [mV]</tspan></text>
<g transform="translate(1827.2,982.0) rotate(-45)"><text font-size="20.7" text-anchor="end" fill="#000">pH 7.2</text></g>
<g transform="translate(1861.4,982.0) rotate(-45)"><text font-size="20.7" text-anchor="end" fill="#000">pH 9</text></g>
<g transform="translate(1896.4,982.0) rotate(-45)"><text font-size="20.7" text-anchor="end" fill="#000">[KCl]</text><text x="0.6" y="4.6" font-size="12.6" fill="#000">e</text></g>
<g transform="translate(1930.8,982.0) rotate(-45)"><text font-size="20.7" text-anchor="end" fill="#000">[NaCl]</text><text x="0.6" y="4.6" font-size="12.6" fill="#000">e</text></g>
<g transform="translate(1965.7,982.0) rotate(-45)"><text font-size="20.7" text-anchor="end" fill="#000">[NMGCl]</text><text x="0.6" y="4.6" font-size="12.6" fill="#000">e</text></g>
<g transform="translate(2000.1,982.0) rotate(-45)"><text font-size="20.7" text-anchor="end" fill="#000">[MgCl]</text><text x="0.6" y="4.6" font-size="12.6" fill="#000">2</text></g>
<path d="M1812.5,1020.4 H1848.0" stroke="#000" stroke-width="2.2"/>
<text x="1797.5" y="1042" font-size="20" fill="#000">[CaCl<tspan font-size="12.4" dy="5.6">2</tspan><tspan dy="-5.6">]</tspan><tspan font-size="12.4" dy="5.6">e</tspan></text>
<text x="1716" y="1112.6" font-size="46" class="b" fill="#000">K</text>
<path d="M1799.5,1150.4 H2009.0" stroke="#c6c6c6" stroke-width="2.8" stroke-dasharray="9.5 8.5" fill="none"/>
<path d="M1799.5,1235.9 H2009.0" stroke="#c6c6c6" stroke-width="2.8" stroke-dasharray="9.5 8.5" fill="none"/>
<path d="M1799.5,1321.4 H2009.0" stroke="#c6c6c6" stroke-width="2.8" stroke-dasharray="9.5 8.5" fill="none"/>
<path d="M1799.5,1406.9 H2009.0" stroke="#c6c6c6" stroke-width="2.8" stroke-dasharray="9.5 8.5" fill="none"/>
<path d="M1816.0,1219.7 V1286.3 M1810.0,1219.7 h12 M1810.0,1286.3 h12" stroke="#000" stroke-width="2.3" fill="none"/>
<rect x="1803.5" y="1230.8" width="25.0" height="44.5" fill="#e8962e" stroke="#000" stroke-width="2.5"/>
<path d="M1851.5,1255.6 V1296.6 M1845.5,1255.6 h12 M1845.5,1296.6 h12" stroke="#000" stroke-width="2.3" fill="none"/>
<rect x="1839.0" y="1262.4" width="25.0" height="27.4" fill="#eeaa55" stroke="#000" stroke-width="2.5"/>
<path d="M1887.0,1223.1 V1249.6 M1881.0,1223.1 h12 M1881.0,1249.6 h12" stroke="#000" stroke-width="2.3" fill="none"/>
<rect x="1874.5" y="1227.4" width="25.0" height="17.1" fill="#f2c080" stroke="#000" stroke-width="2.5"/>
<path d="M1921.4,1201.7 V1238.5 M1915.4,1201.7 h12 M1915.4,1238.5 h12" stroke="#000" stroke-width="2.3" fill="none"/>
<rect x="1908.9" y="1206.8" width="25.0" height="25.6" fill="#ecc89a" stroke="#000" stroke-width="2.5"/>
<path d="M1957.0,1346.2 V1410.3 M1951.0,1346.2 h12 M1951.0,1410.3 h12" stroke="#000" stroke-width="2.3" fill="none"/>
<rect x="1944.5" y="1356.5" width="25.0" height="43.6" fill="#dcc4a8" stroke="#000" stroke-width="2.5"/>
<path d="M1992.0,1383.8 V1420.6 M1986.0,1383.8 h12 M1986.0,1420.6 h12" stroke="#000" stroke-width="2.3" fill="none"/>
<rect x="1979.5" y="1389.8" width="25.0" height="24.8" fill="#c0c0c8" stroke="#000" stroke-width="2.5"/>
<circle cx="1815.0" cy="1139.7" r="5.4" fill="#808080" fill-opacity="0.92"/>
<circle cx="1816.0" cy="1246.2" r="5.4" fill="#808080" fill-opacity="0.92"/>
<circle cx="1816.5" cy="1262.4" r="5.4" fill="#808080" fill-opacity="0.92"/>
<circle cx="1815.5" cy="1303.4" r="5.4" fill="#808080" fill-opacity="0.92"/>
<circle cx="1815.0" cy="1324.0" r="5.4" fill="#808080" fill-opacity="0.92"/>
<circle cx="1851.0" cy="1227.8" r="5.4" fill="#808080" fill-opacity="0.92"/>
<circle cx="1852.5" cy="1275.2" r="5.4" fill="#808080" fill-opacity="0.92"/>
<circle cx="1851.0" cy="1276.9" r="5.4" fill="#808080" fill-opacity="0.92"/>
<circle cx="1854.5" cy="1294.9" r="5.4" fill="#808080" fill-opacity="0.92"/>
<circle cx="1851.5" cy="1308.6" r="5.4" fill="#808080" fill-opacity="0.92"/>
<circle cx="1889.0" cy="1219.7" r="5.4" fill="#808080" fill-opacity="0.92"/>
<circle cx="1886.0" cy="1241.0" r="5.4" fill="#808080" fill-opacity="0.92"/>
<circle cx="1888.0" cy="1247.9" r="5.4" fill="#808080" fill-opacity="0.92"/>
<circle cx="1922.9" cy="1143.1" r="5.4" fill="#808080" fill-opacity="0.92"/>
<circle cx="1922.9" cy="1197.4" r="5.4" fill="#808080" fill-opacity="0.92"/>
<circle cx="1919.4" cy="1204.3" r="5.4" fill="#808080" fill-opacity="0.92"/>
<circle cx="1924.4" cy="1210.2" r="5.4" fill="#808080" fill-opacity="0.92"/>
<circle cx="1919.4" cy="1213.7" r="5.4" fill="#808080" fill-opacity="0.92"/>
<circle cx="1921.4" cy="1254.7" r="5.4" fill="#808080" fill-opacity="0.92"/>
<circle cx="1921.4" cy="1274.4" r="5.4" fill="#808080" fill-opacity="0.92"/>
<circle cx="1961.0" cy="1294.5" r="5.4" fill="#808080" fill-opacity="0.92"/>
<circle cx="1959.0" cy="1352.2" r="5.4" fill="#808080" fill-opacity="0.92"/>
<circle cx="1955.0" cy="1378.7" r="5.4" fill="#808080" fill-opacity="0.92"/>
<circle cx="1956.0" cy="1384.7" r="5.4" fill="#808080" fill-opacity="0.92"/>
<circle cx="1954.0" cy="1420.6" r="5.4" fill="#808080" fill-opacity="0.92"/>
<circle cx="1957.0" cy="1442.8" r="5.4" fill="#808080" fill-opacity="0.92"/>
<circle cx="1994.0" cy="1378.7" r="5.4" fill="#808080" fill-opacity="0.92"/>
<circle cx="1993.0" cy="1408.6" r="5.4" fill="#808080" fill-opacity="0.92"/>
<circle cx="1993.5" cy="1418.9" r="5.4" fill="#808080" fill-opacity="0.92"/>
<path d="M1800.5,1253.0 H1831.5" stroke="#000" stroke-width="2.3"/>
<path d="M1836.0,1276.1 H1867.0" stroke="#000" stroke-width="2.3"/>
<path d="M1871.5,1235.9 H1902.5" stroke="#000" stroke-width="2.3"/>
<path d="M1905.9,1219.7 H1936.9" stroke="#000" stroke-width="2.3"/>
<path d="M1941.5,1378.7 H1972.5" stroke="#000" stroke-width="2.3"/>
<path d="M1976.5,1402.6 H2007.5" stroke="#000" stroke-width="2.3"/>
<rect x="1798.0" y="1108.3" width="212.0" height="384.9" fill="none" stroke="#000" stroke-width="2.7"/>
<text x="1785.5" y="1158.5" font-size="22.5" text-anchor="end" fill="#000">10</text>
<text x="1785.5" y="1244.0" font-size="22.5" text-anchor="end" fill="#000">0</text>
<text x="1785.5" y="1329.5" font-size="22.5" text-anchor="end" fill="#000">-10</text>
<text x="1785.5" y="1415.0" font-size="22.5" text-anchor="end" fill="#000">-20</text>
<text x="1785.5" y="1500.5" font-size="22.5" text-anchor="end" fill="#000">-30</text>
<path d="M1798.0,1150.4 h-8 M1798.0,1235.9 h-8 M1798.0,1321.4 h-8 M1798.0,1406.9 h-8 M1798.0,1492.4 h-8 M1816.0,1493.2 v7.5 M1851.5,1493.2 v7.5 M1887.0,1493.2 v7.5 M1921.4,1493.2 v7.5 M1957.0,1493.2 v7.5 M1992.0,1493.2 v7.5" fill="none" stroke="#000" stroke-width="2.4"/>
<path d="M1798.0,1107.7 h-4 M1798.0,1193.2 h-4 M1798.0,1278.7 h-4 M1798.0,1364.2 h-4 M1798.0,1449.7 h-4" fill="none" stroke="#000" stroke-width="1.8"/>
<text transform="translate(1735,1299) rotate(-90)" font-size="28.5" text-anchor="middle" fill="#000">E<tspan font-size="18" dy="7">rev</tspan><tspan dy="-7"> [mV]</tspan></text>
<g transform="translate(1830.5,1509.2) rotate(-45)"><text font-size="20.7" text-anchor="end" fill="#000">pH 7.2</text></g>
<g transform="translate(1866.0,1509.2) rotate(-45)"><text font-size="20.7" text-anchor="end" fill="#000">pH 9</text></g>
<g transform="translate(1901.5,1509.2) rotate(-45)"><text font-size="20.7" text-anchor="end" fill="#000">[KCl]</text><text x="0.6" y="4.6" font-size="12.6" fill="#000">e</text></g>
<g transform="translate(1935.9,1509.2) rotate(-45)"><text font-size="20.7" text-anchor="end" fill="#000">[NaCl]</text><text x="0.6" y="4.6" font-size="12.6" fill="#000">e</text></g>
<g transform="translate(1971.5,1509.2) rotate(-45)"><text font-size="20.7" text-anchor="end" fill="#000">[NMGCl]</text><text x="0.6" y="4.6" font-size="12.6" fill="#000">e</text></g>
<g transform="translate(2006.5,1509.2) rotate(-45)"><text font-size="20.7" text-anchor="end" fill="#000">[MgCl]</text><text x="0.6" y="4.6" font-size="12.6" fill="#000">2</text></g>
<path d="M1818.0,1547.5 H1853.5" stroke="#000" stroke-width="2.2"/>
<text x="1803" y="1569.5" font-size="20" fill="#000">[CaCl<tspan font-size="12.4" dy="5.6">2</tspan><tspan dy="-5.6">]</tspan><tspan font-size="12.4" dy="5.6">e</tspan></text></svg>
</body></html>
